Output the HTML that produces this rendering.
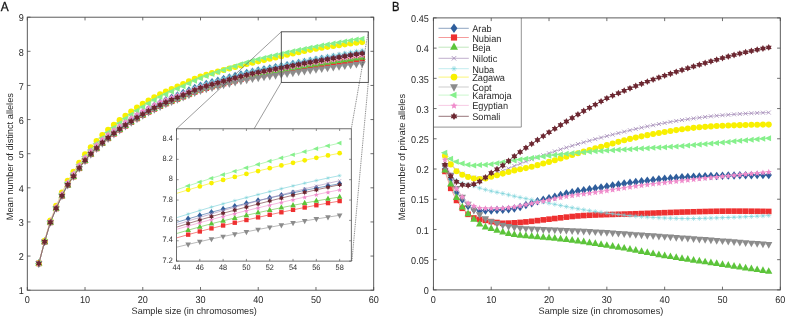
<!DOCTYPE html>
<html><head><meta charset="utf-8"><style>
html,body{margin:0;padding:0;background:#fff;}
body{width:785px;height:317px;overflow:hidden;position:relative;font-family:"Liberation Sans",sans-serif;}
</style></head><body>
<svg width="785" height="317" viewBox="0 0 785 317" style="position:absolute;left:0;top:0;filter:blur(0.3px)" text-rendering="geometricPrecision" font-family='"Liberation Sans", sans-serif'>
<path d="M27.3 290.2V287M27.3 17.2V20.4M85.03 290.2V287M85.03 17.2V20.4M142.77 290.2V287M142.77 17.2V20.4M200.5 290.2V287M200.5 17.2V20.4M258.23 290.2V287M258.23 17.2V20.4M315.97 290.2V287M315.97 17.2V20.4M373.7 290.2V287M373.7 17.2V20.4M27.3 290.2H30.5M373.7 290.2H370.5M27.3 256.07H30.5M373.7 256.07H370.5M27.3 221.95H30.5M373.7 221.95H370.5M27.3 187.82H30.5M373.7 187.82H370.5M27.3 153.7H30.5M373.7 153.7H370.5M27.3 119.57H30.5M373.7 119.57H370.5M27.3 85.45H30.5M373.7 85.45H370.5M27.3 51.32H30.5M373.7 51.32H370.5M27.3 17.2H30.5M373.7 17.2H370.5" stroke="#4a4a4a" stroke-width="0.8" fill="none"/>
<polyline points="38.85,263.41 44.62,241.59 50.39,221.99 56.17,207.86 61.94,195.1 67.71,184.05 73.49,175.4 79.26,166.94 85.03,159.16 90.81,152.59 96.58,146.7 102.35,141.27 108.13,136.31 113.9,131.77 119.67,127.52 125.45,123.49 131.22,119.6 136.99,115.9 142.77,112.41 148.54,109.11 154.31,105.97 160.09,103.05 165.86,100.37 171.63,97.86 177.41,95.43 183.18,93 188.95,90.48 194.73,88 200.5,85.79 206.27,83.95 212.05,82.3 217.82,80.7 223.59,79.09 229.37,77.52 235.14,75.99 240.91,74.5 246.69,73.04 252.46,71.7 258.23,70.53 264.01,69.46 269.78,68.38 275.55,67.29 281.33,66.23 287.1,65.17 292.87,64.08 298.65,62.98 304.42,61.95 310.19,60.98 315.97,60.02 321.74,59.1 327.51,58.19 333.29,57.3 339.06,56.41 344.83,55.53 350.61,54.67 356.38,53.84 362.15,53.03" fill="none" stroke="#5f7ea8" stroke-width="0.7"/>
<polygon points="38.85,259.16 42,263.41 38.85,267.66 35.7,263.41" fill="#2f5e9c"/>
<polygon points="44.62,237.34 47.77,241.59 44.62,245.84 41.47,241.59" fill="#2f5e9c"/>
<polygon points="50.39,217.74 53.54,221.99 50.39,226.24 47.24,221.99" fill="#2f5e9c"/>
<polygon points="56.17,203.61 59.32,207.86 56.17,212.11 53.02,207.86" fill="#2f5e9c"/>
<polygon points="61.94,190.85 65.09,195.1 61.94,199.35 58.79,195.1" fill="#2f5e9c"/>
<polygon points="67.71,179.8 70.86,184.05 67.71,188.3 64.56,184.05" fill="#2f5e9c"/>
<polygon points="73.49,171.15 76.64,175.4 73.49,179.65 70.34,175.4" fill="#2f5e9c"/>
<polygon points="79.26,162.69 82.41,166.94 79.26,171.19 76.11,166.94" fill="#2f5e9c"/>
<polygon points="85.03,154.91 88.18,159.16 85.03,163.41 81.88,159.16" fill="#2f5e9c"/>
<polygon points="90.81,148.34 93.96,152.59 90.81,156.84 87.66,152.59" fill="#2f5e9c"/>
<polygon points="96.58,142.45 99.73,146.7 96.58,150.95 93.43,146.7" fill="#2f5e9c"/>
<polygon points="102.35,137.02 105.5,141.27 102.35,145.52 99.2,141.27" fill="#2f5e9c"/>
<polygon points="108.13,132.06 111.28,136.31 108.13,140.56 104.98,136.31" fill="#2f5e9c"/>
<polygon points="113.9,127.52 117.05,131.77 113.9,136.02 110.75,131.77" fill="#2f5e9c"/>
<polygon points="119.67,123.27 122.82,127.52 119.67,131.77 116.52,127.52" fill="#2f5e9c"/>
<polygon points="125.45,119.24 128.6,123.49 125.45,127.74 122.3,123.49" fill="#2f5e9c"/>
<polygon points="131.22,115.35 134.37,119.6 131.22,123.85 128.07,119.6" fill="#2f5e9c"/>
<polygon points="136.99,111.65 140.14,115.9 136.99,120.15 133.84,115.9" fill="#2f5e9c"/>
<polygon points="142.77,108.16 145.92,112.41 142.77,116.66 139.62,112.41" fill="#2f5e9c"/>
<polygon points="148.54,104.86 151.69,109.11 148.54,113.36 145.39,109.11" fill="#2f5e9c"/>
<polygon points="154.31,101.72 157.46,105.97 154.31,110.22 151.16,105.97" fill="#2f5e9c"/>
<polygon points="160.09,98.8 163.24,103.05 160.09,107.3 156.94,103.05" fill="#2f5e9c"/>
<polygon points="165.86,96.12 169.01,100.37 165.86,104.62 162.71,100.37" fill="#2f5e9c"/>
<polygon points="171.63,93.61 174.78,97.86 171.63,102.11 168.48,97.86" fill="#2f5e9c"/>
<polygon points="177.41,91.18 180.56,95.43 177.41,99.68 174.26,95.43" fill="#2f5e9c"/>
<polygon points="183.18,88.75 186.33,93 183.18,97.25 180.03,93" fill="#2f5e9c"/>
<polygon points="188.95,86.23 192.1,90.48 188.95,94.73 185.8,90.48" fill="#2f5e9c"/>
<polygon points="194.73,83.75 197.88,88 194.73,92.25 191.58,88" fill="#2f5e9c"/>
<polygon points="200.5,81.54 203.65,85.79 200.5,90.04 197.35,85.79" fill="#2f5e9c"/>
<polygon points="206.27,79.7 209.42,83.95 206.27,88.2 203.12,83.95" fill="#2f5e9c"/>
<polygon points="212.05,78.05 215.2,82.3 212.05,86.55 208.9,82.3" fill="#2f5e9c"/>
<polygon points="217.82,76.45 220.97,80.7 217.82,84.95 214.67,80.7" fill="#2f5e9c"/>
<polygon points="223.59,74.84 226.74,79.09 223.59,83.34 220.44,79.09" fill="#2f5e9c"/>
<polygon points="229.37,73.27 232.52,77.52 229.37,81.77 226.22,77.52" fill="#2f5e9c"/>
<polygon points="235.14,71.74 238.29,75.99 235.14,80.24 231.99,75.99" fill="#2f5e9c"/>
<polygon points="240.91,70.25 244.06,74.5 240.91,78.75 237.76,74.5" fill="#2f5e9c"/>
<polygon points="246.69,68.79 249.84,73.04 246.69,77.29 243.54,73.04" fill="#2f5e9c"/>
<polygon points="252.46,67.45 255.61,71.7 252.46,75.95 249.31,71.7" fill="#2f5e9c"/>
<polygon points="258.23,66.28 261.38,70.53 258.23,74.78 255.08,70.53" fill="#2f5e9c"/>
<polygon points="264.01,65.21 267.16,69.46 264.01,73.71 260.86,69.46" fill="#2f5e9c"/>
<polygon points="269.78,64.13 272.93,68.38 269.78,72.63 266.63,68.38" fill="#2f5e9c"/>
<polygon points="275.55,63.04 278.7,67.29 275.55,71.54 272.4,67.29" fill="#2f5e9c"/>
<polygon points="281.33,61.98 284.48,66.23 281.33,70.48 278.18,66.23" fill="#2f5e9c"/>
<polygon points="287.1,60.92 290.25,65.17 287.1,69.42 283.95,65.17" fill="#2f5e9c"/>
<polygon points="292.87,59.83 296.02,64.08 292.87,68.33 289.72,64.08" fill="#2f5e9c"/>
<polygon points="298.65,58.73 301.8,62.98 298.65,67.23 295.5,62.98" fill="#2f5e9c"/>
<polygon points="304.42,57.7 307.57,61.95 304.42,66.2 301.27,61.95" fill="#2f5e9c"/>
<polygon points="310.19,56.73 313.34,60.98 310.19,65.23 307.04,60.98" fill="#2f5e9c"/>
<polygon points="315.97,55.77 319.12,60.02 315.97,64.27 312.82,60.02" fill="#2f5e9c"/>
<polygon points="321.74,54.85 324.89,59.1 321.74,63.35 318.59,59.1" fill="#2f5e9c"/>
<polygon points="327.51,53.94 330.66,58.19 327.51,62.44 324.36,58.19" fill="#2f5e9c"/>
<polygon points="333.29,53.05 336.44,57.3 333.29,61.55 330.14,57.3" fill="#2f5e9c"/>
<polygon points="339.06,52.16 342.21,56.41 339.06,60.66 335.91,56.41" fill="#2f5e9c"/>
<polygon points="344.83,51.28 347.98,55.53 344.83,59.78 341.68,55.53" fill="#2f5e9c"/>
<polygon points="350.61,50.42 353.76,54.67 350.61,58.92 347.46,54.67" fill="#2f5e9c"/>
<polygon points="356.38,49.59 359.53,53.84 356.38,58.09 353.23,53.84" fill="#2f5e9c"/>
<polygon points="362.15,48.78 365.3,53.03 362.15,57.28 359,53.03" fill="#2f5e9c"/>
<polyline points="38.85,263.41 44.62,241.81 50.39,222.43 56.17,208.5 61.94,195.94 67.71,185.09 73.49,176.62 79.26,168.32 85.03,160.7 90.81,154.26 96.58,148.52 102.35,143.21 108.13,138.37 113.9,133.94 119.67,129.81 125.45,125.88 131.22,122.11 136.99,118.52 142.77,115.14 148.54,111.96 154.31,108.96 160.09,106.18 165.86,103.64 171.63,101.28 177.41,99 183.18,96.72 188.95,94.34 194.73,91.98 200.5,89.89 206.27,88.15 212.05,86.6 217.82,85.09 223.59,83.56 229.37,82.08 235.14,80.63 240.91,79.21 246.69,77.83 252.46,76.56 258.23,75.46 264.01,74.46 269.78,73.46 275.55,72.44 281.33,71.44 287.1,70.46 292.87,69.44 298.65,68.4 304.42,67.43 310.19,66.51 315.97,65.6 321.74,64.71 327.51,63.84 333.29,62.98 339.06,62.12 344.83,61.27 350.61,60.43 356.38,59.62 362.15,58.83" fill="none" stroke="#f07070" stroke-width="0.7"/>
<rect x="36.05" y="260.61" width="5.6" height="5.6" fill="#ee3030"/>
<rect x="41.82" y="239.01" width="5.6" height="5.6" fill="#ee3030"/>
<rect x="47.59" y="219.63" width="5.6" height="5.6" fill="#ee3030"/>
<rect x="53.37" y="205.7" width="5.6" height="5.6" fill="#ee3030"/>
<rect x="59.14" y="193.14" width="5.6" height="5.6" fill="#ee3030"/>
<rect x="64.91" y="182.29" width="5.6" height="5.6" fill="#ee3030"/>
<rect x="70.69" y="173.82" width="5.6" height="5.6" fill="#ee3030"/>
<rect x="76.46" y="165.52" width="5.6" height="5.6" fill="#ee3030"/>
<rect x="82.23" y="157.9" width="5.6" height="5.6" fill="#ee3030"/>
<rect x="88.01" y="151.46" width="5.6" height="5.6" fill="#ee3030"/>
<rect x="93.78" y="145.72" width="5.6" height="5.6" fill="#ee3030"/>
<rect x="99.55" y="140.41" width="5.6" height="5.6" fill="#ee3030"/>
<rect x="105.33" y="135.57" width="5.6" height="5.6" fill="#ee3030"/>
<rect x="111.1" y="131.14" width="5.6" height="5.6" fill="#ee3030"/>
<rect x="116.87" y="127.01" width="5.6" height="5.6" fill="#ee3030"/>
<rect x="122.65" y="123.08" width="5.6" height="5.6" fill="#ee3030"/>
<rect x="128.42" y="119.31" width="5.6" height="5.6" fill="#ee3030"/>
<rect x="134.19" y="115.72" width="5.6" height="5.6" fill="#ee3030"/>
<rect x="139.97" y="112.34" width="5.6" height="5.6" fill="#ee3030"/>
<rect x="145.74" y="109.16" width="5.6" height="5.6" fill="#ee3030"/>
<rect x="151.51" y="106.16" width="5.6" height="5.6" fill="#ee3030"/>
<rect x="157.29" y="103.38" width="5.6" height="5.6" fill="#ee3030"/>
<rect x="163.06" y="100.84" width="5.6" height="5.6" fill="#ee3030"/>
<rect x="168.83" y="98.48" width="5.6" height="5.6" fill="#ee3030"/>
<rect x="174.61" y="96.2" width="5.6" height="5.6" fill="#ee3030"/>
<rect x="180.38" y="93.92" width="5.6" height="5.6" fill="#ee3030"/>
<rect x="186.15" y="91.54" width="5.6" height="5.6" fill="#ee3030"/>
<rect x="191.93" y="89.18" width="5.6" height="5.6" fill="#ee3030"/>
<rect x="197.7" y="87.09" width="5.6" height="5.6" fill="#ee3030"/>
<rect x="203.47" y="85.35" width="5.6" height="5.6" fill="#ee3030"/>
<rect x="209.25" y="83.8" width="5.6" height="5.6" fill="#ee3030"/>
<rect x="215.02" y="82.29" width="5.6" height="5.6" fill="#ee3030"/>
<rect x="220.79" y="80.76" width="5.6" height="5.6" fill="#ee3030"/>
<rect x="226.57" y="79.28" width="5.6" height="5.6" fill="#ee3030"/>
<rect x="232.34" y="77.83" width="5.6" height="5.6" fill="#ee3030"/>
<rect x="238.11" y="76.41" width="5.6" height="5.6" fill="#ee3030"/>
<rect x="243.89" y="75.03" width="5.6" height="5.6" fill="#ee3030"/>
<rect x="249.66" y="73.76" width="5.6" height="5.6" fill="#ee3030"/>
<rect x="255.43" y="72.66" width="5.6" height="5.6" fill="#ee3030"/>
<rect x="261.21" y="71.66" width="5.6" height="5.6" fill="#ee3030"/>
<rect x="266.98" y="70.66" width="5.6" height="5.6" fill="#ee3030"/>
<rect x="272.75" y="69.64" width="5.6" height="5.6" fill="#ee3030"/>
<rect x="278.53" y="68.64" width="5.6" height="5.6" fill="#ee3030"/>
<rect x="284.3" y="67.66" width="5.6" height="5.6" fill="#ee3030"/>
<rect x="290.07" y="66.64" width="5.6" height="5.6" fill="#ee3030"/>
<rect x="295.85" y="65.6" width="5.6" height="5.6" fill="#ee3030"/>
<rect x="301.62" y="64.63" width="5.6" height="5.6" fill="#ee3030"/>
<rect x="307.39" y="63.71" width="5.6" height="5.6" fill="#ee3030"/>
<rect x="313.17" y="62.8" width="5.6" height="5.6" fill="#ee3030"/>
<rect x="318.94" y="61.91" width="5.6" height="5.6" fill="#ee3030"/>
<rect x="324.71" y="61.04" width="5.6" height="5.6" fill="#ee3030"/>
<rect x="330.49" y="60.18" width="5.6" height="5.6" fill="#ee3030"/>
<rect x="336.26" y="59.32" width="5.6" height="5.6" fill="#ee3030"/>
<rect x="342.03" y="58.47" width="5.6" height="5.6" fill="#ee3030"/>
<rect x="347.81" y="57.63" width="5.6" height="5.6" fill="#ee3030"/>
<rect x="353.58" y="56.82" width="5.6" height="5.6" fill="#ee3030"/>
<rect x="359.35" y="56.03" width="5.6" height="5.6" fill="#ee3030"/>
<polyline points="38.85,263.41 44.62,241.79 50.39,222.38 56.17,208.44 61.94,195.85 67.71,184.98 73.49,176.49 79.26,168.17 85.03,160.53 90.81,154.08 96.58,148.31 102.35,142.99 108.13,138.13 113.9,133.69 119.67,129.54 125.45,125.6 131.22,121.81 136.99,118.2 142.77,114.8 148.54,111.59 154.31,108.57 160.09,105.76 165.86,103.19 171.63,100.79 177.41,98.48 183.18,96.16 188.95,93.74 194.73,91.34 200.5,89.2 206.27,87.42 212.05,85.82 217.82,84.25 223.59,82.67 229.37,81.13 235.14,79.62 240.91,78.14 246.69,76.7 252.46,75.37 258.23,74.21 264.01,73.15 269.78,72.09 275.55,71.02 281.33,69.98 287.1,68.96 292.87,67.9 298.65,66.84 304.42,65.86 310.19,64.93 315.97,64.02 321.74,63.14 327.51,62.29 333.29,61.45 339.06,60.61 344.83,59.79 350.61,58.99 356.38,58.21 362.15,57.47" fill="none" stroke="#a8dca0" stroke-width="0.7"/>
<polygon points="38.85,259.11 42.45,265.81 35.25,265.81" fill="#5cc43a"/>
<polygon points="44.62,237.49 48.22,244.19 41.02,244.19" fill="#5cc43a"/>
<polygon points="50.39,218.08 53.99,224.78 46.79,224.78" fill="#5cc43a"/>
<polygon points="56.17,204.14 59.77,210.84 52.57,210.84" fill="#5cc43a"/>
<polygon points="61.94,191.55 65.54,198.25 58.34,198.25" fill="#5cc43a"/>
<polygon points="67.71,180.68 71.31,187.38 64.11,187.38" fill="#5cc43a"/>
<polygon points="73.49,172.19 77.09,178.89 69.89,178.89" fill="#5cc43a"/>
<polygon points="79.26,163.87 82.86,170.57 75.66,170.57" fill="#5cc43a"/>
<polygon points="85.03,156.22 88.63,162.93 81.43,162.93" fill="#5cc43a"/>
<polygon points="90.81,149.78 94.41,156.48 87.21,156.48" fill="#5cc43a"/>
<polygon points="96.58,144.01 100.18,150.71 92.98,150.71" fill="#5cc43a"/>
<polygon points="102.35,138.69 105.95,145.39 98.75,145.39" fill="#5cc43a"/>
<polygon points="108.13,133.83 111.73,140.53 104.53,140.53" fill="#5cc43a"/>
<polygon points="113.9,129.39 117.5,136.09 110.3,136.09" fill="#5cc43a"/>
<polygon points="119.67,125.24 123.27,131.94 116.07,131.94" fill="#5cc43a"/>
<polygon points="125.45,121.3 129.05,128 121.85,128" fill="#5cc43a"/>
<polygon points="131.22,117.51 134.82,124.21 127.62,124.21" fill="#5cc43a"/>
<polygon points="136.99,113.9 140.59,120.6 133.39,120.6" fill="#5cc43a"/>
<polygon points="142.77,110.5 146.37,117.2 139.17,117.2" fill="#5cc43a"/>
<polygon points="148.54,107.29 152.14,113.99 144.94,113.99" fill="#5cc43a"/>
<polygon points="154.31,104.27 157.91,110.97 150.71,110.97" fill="#5cc43a"/>
<polygon points="160.09,101.46 163.69,108.16 156.49,108.16" fill="#5cc43a"/>
<polygon points="165.86,98.89 169.46,105.59 162.26,105.59" fill="#5cc43a"/>
<polygon points="171.63,96.49 175.23,103.19 168.03,103.19" fill="#5cc43a"/>
<polygon points="177.41,94.18 181.01,100.88 173.81,100.88" fill="#5cc43a"/>
<polygon points="183.18,91.86 186.78,98.56 179.58,98.56" fill="#5cc43a"/>
<polygon points="188.95,89.44 192.55,96.14 185.35,96.14" fill="#5cc43a"/>
<polygon points="194.73,87.04 198.33,93.74 191.13,93.74" fill="#5cc43a"/>
<polygon points="200.5,84.9 204.1,91.6 196.9,91.6" fill="#5cc43a"/>
<polygon points="206.27,83.12 209.87,89.82 202.67,89.82" fill="#5cc43a"/>
<polygon points="212.05,81.52 215.65,88.22 208.45,88.22" fill="#5cc43a"/>
<polygon points="217.82,79.95 221.42,86.65 214.22,86.65" fill="#5cc43a"/>
<polygon points="223.59,78.37 227.19,85.07 219.99,85.07" fill="#5cc43a"/>
<polygon points="229.37,76.83 232.97,83.53 225.77,83.53" fill="#5cc43a"/>
<polygon points="235.14,75.32 238.74,82.02 231.54,82.02" fill="#5cc43a"/>
<polygon points="240.91,73.84 244.51,80.54 237.31,80.54" fill="#5cc43a"/>
<polygon points="246.69,72.4 250.29,79.1 243.09,79.1" fill="#5cc43a"/>
<polygon points="252.46,71.07 256.06,77.77 248.86,77.77" fill="#5cc43a"/>
<polygon points="258.23,69.91 261.83,76.61 254.63,76.61" fill="#5cc43a"/>
<polygon points="264.01,68.85 267.61,75.55 260.41,75.55" fill="#5cc43a"/>
<polygon points="269.78,67.79 273.38,74.49 266.18,74.49" fill="#5cc43a"/>
<polygon points="275.55,66.72 279.15,73.42 271.95,73.42" fill="#5cc43a"/>
<polygon points="281.33,65.68 284.93,72.38 277.73,72.38" fill="#5cc43a"/>
<polygon points="287.1,64.66 290.7,71.36 283.5,71.36" fill="#5cc43a"/>
<polygon points="292.87,63.6 296.47,70.3 289.27,70.3" fill="#5cc43a"/>
<polygon points="298.65,62.54 302.25,69.24 295.05,69.24" fill="#5cc43a"/>
<polygon points="304.42,61.56 308.02,68.26 300.82,68.26" fill="#5cc43a"/>
<polygon points="310.19,60.63 313.79,67.33 306.59,67.33" fill="#5cc43a"/>
<polygon points="315.97,59.72 319.57,66.42 312.37,66.42" fill="#5cc43a"/>
<polygon points="321.74,58.84 325.34,65.54 318.14,65.54" fill="#5cc43a"/>
<polygon points="327.51,57.99 331.11,64.69 323.91,64.69" fill="#5cc43a"/>
<polygon points="333.29,57.15 336.89,63.85 329.69,63.85" fill="#5cc43a"/>
<polygon points="339.06,56.31 342.66,63.01 335.46,63.01" fill="#5cc43a"/>
<polygon points="344.83,55.49 348.43,62.19 341.23,62.19" fill="#5cc43a"/>
<polygon points="350.61,54.69 354.21,61.39 347.01,61.39" fill="#5cc43a"/>
<polygon points="356.38,53.91 359.98,60.61 352.78,60.61" fill="#5cc43a"/>
<polygon points="362.15,53.17 365.75,59.87 358.55,59.87" fill="#5cc43a"/>
<polyline points="38.85,263.41 44.62,241.7 50.39,222.2 56.17,208.16 61.94,195.49 67.71,184.53 73.49,175.96 79.26,167.57 85.03,159.84 90.81,153.32 96.58,147.48 102.35,142.08 108.13,137.16 113.9,132.65 119.67,128.43 125.45,124.42 131.22,120.57 136.99,116.89 142.77,113.43 148.54,110.16 154.31,107.07 160.09,104.19 165.86,101.54 171.63,99.06 177.41,96.66 183.18,94.26 188.95,91.76 194.73,89.29 200.5,87.08 206.27,85.23 212.05,83.57 217.82,81.95 223.59,80.32 229.37,78.72 235.14,77.16 240.91,75.62 246.69,74.13 252.46,72.74 258.23,71.53 264.01,70.4 269.78,69.27 275.55,68.13 281.33,67 287.1,65.88 292.87,64.73 298.65,63.55 304.42,62.42 310.19,61.33 315.97,60.26 321.74,59.2 327.51,58.15 333.29,57.11 339.06,56.06 344.83,55.02 350.61,53.99 356.38,52.99 362.15,52.01" fill="none" stroke="#a58cb8" stroke-width="0.7"/>
<path d="M36.85 261.41L40.85 265.41M36.85 265.41L40.85 261.41" stroke="#a58cb8" stroke-width="0.8" fill="none"/>
<path d="M42.62 239.7L46.62 243.7M42.62 243.7L46.62 239.7" stroke="#a58cb8" stroke-width="0.8" fill="none"/>
<path d="M48.39 220.2L52.39 224.2M48.39 224.2L52.39 220.2" stroke="#a58cb8" stroke-width="0.8" fill="none"/>
<path d="M54.17 206.16L58.17 210.16M54.17 210.16L58.17 206.16" stroke="#a58cb8" stroke-width="0.8" fill="none"/>
<path d="M59.94 193.49L63.94 197.49M59.94 197.49L63.94 193.49" stroke="#a58cb8" stroke-width="0.8" fill="none"/>
<path d="M65.71 182.53L69.71 186.53M65.71 186.53L69.71 182.53" stroke="#a58cb8" stroke-width="0.8" fill="none"/>
<path d="M71.49 173.96L75.49 177.96M71.49 177.96L75.49 173.96" stroke="#a58cb8" stroke-width="0.8" fill="none"/>
<path d="M77.26 165.57L81.26 169.57M77.26 169.57L81.26 165.57" stroke="#a58cb8" stroke-width="0.8" fill="none"/>
<path d="M83.03 157.84L87.03 161.84M83.03 161.84L87.03 157.84" stroke="#a58cb8" stroke-width="0.8" fill="none"/>
<path d="M88.81 151.32L92.81 155.32M88.81 155.32L92.81 151.32" stroke="#a58cb8" stroke-width="0.8" fill="none"/>
<path d="M94.58 145.48L98.58 149.48M94.58 149.48L98.58 145.48" stroke="#a58cb8" stroke-width="0.8" fill="none"/>
<path d="M100.35 140.08L104.35 144.08M100.35 144.08L104.35 140.08" stroke="#a58cb8" stroke-width="0.8" fill="none"/>
<path d="M106.13 135.16L110.13 139.16M106.13 139.16L110.13 135.16" stroke="#a58cb8" stroke-width="0.8" fill="none"/>
<path d="M111.9 130.65L115.9 134.65M111.9 134.65L115.9 130.65" stroke="#a58cb8" stroke-width="0.8" fill="none"/>
<path d="M117.67 126.43L121.67 130.43M117.67 130.43L121.67 126.43" stroke="#a58cb8" stroke-width="0.8" fill="none"/>
<path d="M123.45 122.42L127.45 126.42M123.45 126.42L127.45 122.42" stroke="#a58cb8" stroke-width="0.8" fill="none"/>
<path d="M129.22 118.57L133.22 122.57M129.22 122.57L133.22 118.57" stroke="#a58cb8" stroke-width="0.8" fill="none"/>
<path d="M134.99 114.89L138.99 118.89M134.99 118.89L138.99 114.89" stroke="#a58cb8" stroke-width="0.8" fill="none"/>
<path d="M140.77 111.43L144.77 115.43M140.77 115.43L144.77 111.43" stroke="#a58cb8" stroke-width="0.8" fill="none"/>
<path d="M146.54 108.16L150.54 112.16M146.54 112.16L150.54 108.16" stroke="#a58cb8" stroke-width="0.8" fill="none"/>
<path d="M152.31 105.07L156.31 109.07M152.31 109.07L156.31 105.07" stroke="#a58cb8" stroke-width="0.8" fill="none"/>
<path d="M158.09 102.19L162.09 106.19M158.09 106.19L162.09 102.19" stroke="#a58cb8" stroke-width="0.8" fill="none"/>
<path d="M163.86 99.54L167.86 103.54M163.86 103.54L167.86 99.54" stroke="#a58cb8" stroke-width="0.8" fill="none"/>
<path d="M169.63 97.06L173.63 101.06M169.63 101.06L173.63 97.06" stroke="#a58cb8" stroke-width="0.8" fill="none"/>
<path d="M175.41 94.66L179.41 98.66M175.41 98.66L179.41 94.66" stroke="#a58cb8" stroke-width="0.8" fill="none"/>
<path d="M181.18 92.26L185.18 96.26M181.18 96.26L185.18 92.26" stroke="#a58cb8" stroke-width="0.8" fill="none"/>
<path d="M186.95 89.76L190.95 93.76M186.95 93.76L190.95 89.76" stroke="#a58cb8" stroke-width="0.8" fill="none"/>
<path d="M192.73 87.29L196.73 91.29M192.73 91.29L196.73 87.29" stroke="#a58cb8" stroke-width="0.8" fill="none"/>
<path d="M198.5 85.08L202.5 89.08M198.5 89.08L202.5 85.08" stroke="#a58cb8" stroke-width="0.8" fill="none"/>
<path d="M204.27 83.23L208.27 87.23M204.27 87.23L208.27 83.23" stroke="#a58cb8" stroke-width="0.8" fill="none"/>
<path d="M210.05 81.57L214.05 85.57M210.05 85.57L214.05 81.57" stroke="#a58cb8" stroke-width="0.8" fill="none"/>
<path d="M215.82 79.95L219.82 83.95M215.82 83.95L219.82 79.95" stroke="#a58cb8" stroke-width="0.8" fill="none"/>
<path d="M221.59 78.32L225.59 82.32M221.59 82.32L225.59 78.32" stroke="#a58cb8" stroke-width="0.8" fill="none"/>
<path d="M227.37 76.72L231.37 80.72M227.37 80.72L231.37 76.72" stroke="#a58cb8" stroke-width="0.8" fill="none"/>
<path d="M233.14 75.16L237.14 79.16M233.14 79.16L237.14 75.16" stroke="#a58cb8" stroke-width="0.8" fill="none"/>
<path d="M238.91 73.62L242.91 77.62M238.91 77.62L242.91 73.62" stroke="#a58cb8" stroke-width="0.8" fill="none"/>
<path d="M244.69 72.13L248.69 76.13M244.69 76.13L248.69 72.13" stroke="#a58cb8" stroke-width="0.8" fill="none"/>
<path d="M250.46 70.74L254.46 74.74M250.46 74.74L254.46 70.74" stroke="#a58cb8" stroke-width="0.8" fill="none"/>
<path d="M256.23 69.53L260.23 73.53M256.23 73.53L260.23 69.53" stroke="#a58cb8" stroke-width="0.8" fill="none"/>
<path d="M262.01 68.4L266.01 72.4M262.01 72.4L266.01 68.4" stroke="#a58cb8" stroke-width="0.8" fill="none"/>
<path d="M267.78 67.27L271.78 71.27M267.78 71.27L271.78 67.27" stroke="#a58cb8" stroke-width="0.8" fill="none"/>
<path d="M273.55 66.13L277.55 70.13M273.55 70.13L277.55 66.13" stroke="#a58cb8" stroke-width="0.8" fill="none"/>
<path d="M279.33 65L283.33 69M279.33 69L283.33 65" stroke="#a58cb8" stroke-width="0.8" fill="none"/>
<path d="M285.1 63.88L289.1 67.88M285.1 67.88L289.1 63.88" stroke="#a58cb8" stroke-width="0.8" fill="none"/>
<path d="M290.87 62.73L294.87 66.73M290.87 66.73L294.87 62.73" stroke="#a58cb8" stroke-width="0.8" fill="none"/>
<path d="M296.65 61.55L300.65 65.55M296.65 65.55L300.65 61.55" stroke="#a58cb8" stroke-width="0.8" fill="none"/>
<path d="M302.42 60.42L306.42 64.42M302.42 64.42L306.42 60.42" stroke="#a58cb8" stroke-width="0.8" fill="none"/>
<path d="M308.19 59.33L312.19 63.33M308.19 63.33L312.19 59.33" stroke="#a58cb8" stroke-width="0.8" fill="none"/>
<path d="M313.97 58.26L317.97 62.26M313.97 62.26L317.97 58.26" stroke="#a58cb8" stroke-width="0.8" fill="none"/>
<path d="M319.74 57.2L323.74 61.2M319.74 61.2L323.74 57.2" stroke="#a58cb8" stroke-width="0.8" fill="none"/>
<path d="M325.51 56.15L329.51 60.15M325.51 60.15L329.51 56.15" stroke="#a58cb8" stroke-width="0.8" fill="none"/>
<path d="M331.29 55.11L335.29 59.11M331.29 59.11L335.29 55.11" stroke="#a58cb8" stroke-width="0.8" fill="none"/>
<path d="M337.06 54.06L341.06 58.06M337.06 58.06L341.06 54.06" stroke="#a58cb8" stroke-width="0.8" fill="none"/>
<path d="M342.83 53.02L346.83 57.02M342.83 57.02L346.83 53.02" stroke="#a58cb8" stroke-width="0.8" fill="none"/>
<path d="M348.61 51.99L352.61 55.99M348.61 55.99L352.61 51.99" stroke="#a58cb8" stroke-width="0.8" fill="none"/>
<path d="M354.38 50.99L358.38 54.99M354.38 54.99L358.38 50.99" stroke="#a58cb8" stroke-width="0.8" fill="none"/>
<path d="M360.15 50.01L364.15 54.01M360.15 54.01L364.15 50.01" stroke="#a58cb8" stroke-width="0.8" fill="none"/>
<polyline points="38.85,263.41 44.62,241.54 50.39,221.9 56.17,207.72 61.94,194.92 67.71,183.83 73.49,175.14 79.26,166.64 85.03,158.82 90.81,152.21 96.58,146.29 102.35,140.82 108.13,135.83 113.9,131.25 119.67,126.98 125.45,122.91 131.22,118.99 136.99,115.25 142.77,111.73 148.54,108.38 154.31,105.21 160.09,102.25 165.86,99.53 171.63,96.97 177.41,94.51 183.18,92.05 188.95,89.5 194.73,86.99 200.5,84.77 206.27,82.91 212.05,81.24 217.82,79.61 223.59,77.97 229.37,76.37 235.14,74.81 240.91,73.27 246.69,71.77 252.46,70.39 258.23,69.17 264.01,68.05 269.78,66.92 275.55,65.79 281.33,64.67 287.1,63.56 292.87,62.42 298.65,61.27 304.42,60.17 310.19,59.12 315.97,58.09 321.74,57.07 327.51,56.08 333.29,55.09 339.06,54.11 344.83,53.12 350.61,52.16 356.38,51.21 362.15,50.3" fill="none" stroke="#a8e4e8" stroke-width="0.7"/>
<path d="M38.85 260.91L38.85 265.91M36.35 263.41L41.35 263.41M37.08 261.64L40.61 265.18M37.08 265.18L40.61 261.64" stroke="#72cfd6" stroke-width="0.5" fill="none"/>
<path d="M44.62 239.04L44.62 244.04M42.12 241.54L47.12 241.54M42.85 239.78L46.39 243.31M42.85 243.31L46.39 239.78" stroke="#72cfd6" stroke-width="0.5" fill="none"/>
<path d="M50.39 219.4L50.39 224.4M47.89 221.9L52.89 221.9M48.63 220.13L52.16 223.67M48.63 223.67L52.16 220.13" stroke="#72cfd6" stroke-width="0.5" fill="none"/>
<path d="M56.17 205.22L56.17 210.22M53.67 207.72L58.67 207.72M54.4 205.96L57.93 209.49M54.4 209.49L57.93 205.96" stroke="#72cfd6" stroke-width="0.5" fill="none"/>
<path d="M61.94 192.42L61.94 197.42M59.44 194.92L64.44 194.92M60.17 193.15L63.71 196.69M60.17 196.69L63.71 193.15" stroke="#72cfd6" stroke-width="0.5" fill="none"/>
<path d="M67.71 181.33L67.71 186.33M65.21 183.83L70.21 183.83M65.95 182.06L69.48 185.6M65.95 185.6L69.48 182.06" stroke="#72cfd6" stroke-width="0.5" fill="none"/>
<path d="M73.49 172.64L73.49 177.64M70.99 175.14L75.99 175.14M71.72 173.37L75.25 176.91M71.72 176.91L75.25 173.37" stroke="#72cfd6" stroke-width="0.5" fill="none"/>
<path d="M79.26 164.14L79.26 169.14M76.76 166.64L81.76 166.64M77.49 164.87L81.03 168.41M77.49 168.41L81.03 164.87" stroke="#72cfd6" stroke-width="0.5" fill="none"/>
<path d="M85.03 156.32L85.03 161.32M82.53 158.82L87.53 158.82M83.27 157.05L86.8 160.59M83.27 160.59L86.8 157.05" stroke="#72cfd6" stroke-width="0.5" fill="none"/>
<path d="M90.81 149.71L90.81 154.71M88.31 152.21L93.31 152.21M89.04 150.44L92.57 153.97M89.04 153.97L92.57 150.44" stroke="#72cfd6" stroke-width="0.5" fill="none"/>
<path d="M96.58 143.79L96.58 148.79M94.08 146.29L99.08 146.29M94.81 144.52L98.35 148.06M94.81 148.06L98.35 144.52" stroke="#72cfd6" stroke-width="0.5" fill="none"/>
<path d="M102.35 138.32L102.35 143.32M99.85 140.82L104.85 140.82M100.59 139.05L104.12 142.59M100.59 142.59L104.12 139.05" stroke="#72cfd6" stroke-width="0.5" fill="none"/>
<path d="M108.13 133.33L108.13 138.33M105.63 135.83L110.63 135.83M106.36 134.06L109.89 137.6M106.36 137.6L109.89 134.06" stroke="#72cfd6" stroke-width="0.5" fill="none"/>
<path d="M113.9 128.75L113.9 133.75M111.4 131.25L116.4 131.25M112.13 129.49L115.67 133.02M112.13 133.02L115.67 129.49" stroke="#72cfd6" stroke-width="0.5" fill="none"/>
<path d="M119.67 124.48L119.67 129.48M117.17 126.98L122.17 126.98M117.91 125.21L121.44 128.74M117.91 128.74L121.44 125.21" stroke="#72cfd6" stroke-width="0.5" fill="none"/>
<path d="M125.45 120.41L125.45 125.41M122.95 122.91L127.95 122.91M123.68 121.14L127.21 124.67M123.68 124.67L127.21 121.14" stroke="#72cfd6" stroke-width="0.5" fill="none"/>
<path d="M131.22 116.49L131.22 121.49M128.72 118.99L133.72 118.99M129.45 117.22L132.99 120.76M129.45 120.76L132.99 117.22" stroke="#72cfd6" stroke-width="0.5" fill="none"/>
<path d="M136.99 112.75L136.99 117.75M134.49 115.25L139.49 115.25M135.23 113.49L138.76 117.02M135.23 117.02L138.76 113.49" stroke="#72cfd6" stroke-width="0.5" fill="none"/>
<path d="M142.77 109.23L142.77 114.23M140.27 111.73L145.27 111.73M141 109.96L144.53 113.49M141 113.49L144.53 109.96" stroke="#72cfd6" stroke-width="0.5" fill="none"/>
<path d="M148.54 105.88L148.54 110.88M146.04 108.38L151.04 108.38M146.77 106.62L150.31 110.15M146.77 110.15L150.31 106.62" stroke="#72cfd6" stroke-width="0.5" fill="none"/>
<path d="M154.31 102.71L154.31 107.71M151.81 105.21L156.81 105.21M152.55 103.45L156.08 106.98M152.55 106.98L156.08 103.45" stroke="#72cfd6" stroke-width="0.5" fill="none"/>
<path d="M160.09 99.75L160.09 104.75M157.59 102.25L162.59 102.25M158.32 100.49L161.85 104.02M158.32 104.02L161.85 100.49" stroke="#72cfd6" stroke-width="0.5" fill="none"/>
<path d="M165.86 97.03L165.86 102.03M163.36 99.53L168.36 99.53M164.09 97.76L167.63 101.29M164.09 101.29L167.63 97.76" stroke="#72cfd6" stroke-width="0.5" fill="none"/>
<path d="M171.63 94.47L171.63 99.47M169.13 96.97L174.13 96.97M169.87 95.21L173.4 98.74M169.87 98.74L173.4 95.21" stroke="#72cfd6" stroke-width="0.5" fill="none"/>
<path d="M177.41 92.01L177.41 97.01M174.91 94.51L179.91 94.51M175.64 92.74L179.17 96.28M175.64 96.28L179.17 92.74" stroke="#72cfd6" stroke-width="0.5" fill="none"/>
<path d="M183.18 89.55L183.18 94.55M180.68 92.05L185.68 92.05M181.41 90.28L184.95 93.82M181.41 93.82L184.95 90.28" stroke="#72cfd6" stroke-width="0.5" fill="none"/>
<path d="M188.95 87L188.95 92M186.45 89.5L191.45 89.5M187.19 87.73L190.72 91.27M187.19 91.27L190.72 87.73" stroke="#72cfd6" stroke-width="0.5" fill="none"/>
<path d="M194.73 84.49L194.73 89.49M192.23 86.99L197.23 86.99M192.96 85.23L196.49 88.76M192.96 88.76L196.49 85.23" stroke="#72cfd6" stroke-width="0.5" fill="none"/>
<path d="M200.5 82.27L200.5 87.27M198 84.77L203 84.77M198.73 83L202.27 86.54M198.73 86.54L202.27 83" stroke="#72cfd6" stroke-width="0.5" fill="none"/>
<path d="M206.27 80.41L206.27 85.41M203.77 82.91L208.77 82.91M204.51 81.14L208.04 84.68M204.51 84.68L208.04 81.14" stroke="#72cfd6" stroke-width="0.5" fill="none"/>
<path d="M212.05 78.74L212.05 83.74M209.55 81.24L214.55 81.24M210.28 79.47L213.81 83.01M210.28 83.01L213.81 79.47" stroke="#72cfd6" stroke-width="0.5" fill="none"/>
<path d="M217.82 77.11L217.82 82.11M215.32 79.61L220.32 79.61M216.05 77.85L219.59 81.38M216.05 81.38L219.59 77.85" stroke="#72cfd6" stroke-width="0.5" fill="none"/>
<path d="M223.59 75.47L223.59 80.47M221.09 77.97L226.09 77.97M221.83 76.21L225.36 79.74M221.83 79.74L225.36 76.21" stroke="#72cfd6" stroke-width="0.5" fill="none"/>
<path d="M229.37 73.87L229.37 78.87M226.87 76.37L231.87 76.37M227.6 74.6L231.13 78.14M227.6 78.14L231.13 74.6" stroke="#72cfd6" stroke-width="0.5" fill="none"/>
<path d="M235.14 72.31L235.14 77.31M232.64 74.81L237.64 74.81M233.37 73.04L236.91 76.57M233.37 76.57L236.91 73.04" stroke="#72cfd6" stroke-width="0.5" fill="none"/>
<path d="M240.91 70.77L240.91 75.77M238.41 73.27L243.41 73.27M239.15 71.5L242.68 75.04M239.15 75.04L242.68 71.5" stroke="#72cfd6" stroke-width="0.5" fill="none"/>
<path d="M246.69 69.27L246.69 74.27M244.19 71.77L249.19 71.77M244.92 70L248.45 73.54M244.92 73.54L248.45 70" stroke="#72cfd6" stroke-width="0.5" fill="none"/>
<path d="M252.46 67.89L252.46 72.89M249.96 70.39L254.96 70.39M250.69 68.62L254.23 72.15M250.69 72.15L254.23 68.62" stroke="#72cfd6" stroke-width="0.5" fill="none"/>
<path d="M258.23 66.67L258.23 71.67M255.73 69.17L260.73 69.17M256.47 67.4L260 70.94M256.47 70.94L260 67.4" stroke="#72cfd6" stroke-width="0.5" fill="none"/>
<path d="M264.01 65.55L264.01 70.55M261.51 68.05L266.51 68.05M262.24 66.28L265.77 69.82M262.24 69.82L265.77 66.28" stroke="#72cfd6" stroke-width="0.5" fill="none"/>
<path d="M269.78 64.42L269.78 69.42M267.28 66.92L272.28 66.92M268.01 65.16L271.55 68.69M268.01 68.69L271.55 65.16" stroke="#72cfd6" stroke-width="0.5" fill="none"/>
<path d="M275.55 63.29L275.55 68.29M273.05 65.79L278.05 65.79M273.79 64.02L277.32 67.55M273.79 67.55L277.32 64.02" stroke="#72cfd6" stroke-width="0.5" fill="none"/>
<path d="M281.33 62.17L281.33 67.17M278.83 64.67L283.83 64.67M279.56 62.9L283.09 66.44M279.56 66.44L283.09 62.9" stroke="#72cfd6" stroke-width="0.5" fill="none"/>
<path d="M287.1 61.06L287.1 66.06M284.6 63.56L289.6 63.56M285.33 61.8L288.87 65.33M285.33 65.33L288.87 61.8" stroke="#72cfd6" stroke-width="0.5" fill="none"/>
<path d="M292.87 59.92L292.87 64.92M290.37 62.42L295.37 62.42M291.11 60.66L294.64 64.19M291.11 64.19L294.64 60.66" stroke="#72cfd6" stroke-width="0.5" fill="none"/>
<path d="M298.65 58.77L298.65 63.77M296.15 61.27L301.15 61.27M296.88 59.5L300.41 63.03M296.88 63.03L300.41 59.5" stroke="#72cfd6" stroke-width="0.5" fill="none"/>
<path d="M304.42 57.67L304.42 62.67M301.92 60.17L306.92 60.17M302.65 58.4L306.19 61.94M302.65 61.94L306.19 58.4" stroke="#72cfd6" stroke-width="0.5" fill="none"/>
<path d="M310.19 56.62L310.19 61.62M307.69 59.12L312.69 59.12M308.43 57.35L311.96 60.89M308.43 60.89L311.96 57.35" stroke="#72cfd6" stroke-width="0.5" fill="none"/>
<path d="M315.97 55.59L315.97 60.59M313.47 58.09L318.47 58.09M314.2 56.32L317.73 59.85M314.2 59.85L317.73 56.32" stroke="#72cfd6" stroke-width="0.5" fill="none"/>
<path d="M321.74 54.57L321.74 59.57M319.24 57.07L324.24 57.07M319.97 55.3L323.51 58.84M319.97 58.84L323.51 55.3" stroke="#72cfd6" stroke-width="0.5" fill="none"/>
<path d="M327.51 53.58L327.51 58.58M325.01 56.08L330.01 56.08M325.75 54.31L329.28 57.85M325.75 57.85L329.28 54.31" stroke="#72cfd6" stroke-width="0.5" fill="none"/>
<path d="M333.29 52.59L333.29 57.59M330.79 55.09L335.79 55.09M331.52 53.33L335.05 56.86M331.52 56.86L335.05 53.33" stroke="#72cfd6" stroke-width="0.5" fill="none"/>
<path d="M339.06 51.61L339.06 56.61M336.56 54.11L341.56 54.11M337.29 52.34L340.83 55.87M337.29 55.87L340.83 52.34" stroke="#72cfd6" stroke-width="0.5" fill="none"/>
<path d="M344.83 50.62L344.83 55.62M342.33 53.12L347.33 53.12M343.07 51.36L346.6 54.89M343.07 54.89L346.6 51.36" stroke="#72cfd6" stroke-width="0.5" fill="none"/>
<path d="M350.61 49.66L350.61 54.66M348.11 52.16L353.11 52.16M348.84 50.39L352.37 53.93M348.84 53.93L352.37 50.39" stroke="#72cfd6" stroke-width="0.5" fill="none"/>
<path d="M356.38 48.71L356.38 53.71M353.88 51.21L358.88 51.21M354.61 49.45L358.15 52.98M354.61 52.98L358.15 49.45" stroke="#72cfd6" stroke-width="0.5" fill="none"/>
<path d="M362.15 47.8L362.15 52.8M359.65 50.3L364.65 50.3M360.39 48.53L363.92 52.07M360.39 52.07L363.92 48.53" stroke="#72cfd6" stroke-width="0.5" fill="none"/>
<polyline points="38.85,263.41 44.62,240.91 50.39,220.66 56.17,205.91 61.94,192.55 67.71,180.91 73.49,171.69 79.26,162.68 85.03,154.38 90.81,147.32 96.58,140.96 102.35,135.07 108.13,129.68 113.9,124.74 119.67,120.14 125.45,115.76 131.22,111.54 136.99,107.56 142.77,103.88 148.54,100.46 154.31,97.25 160.09,94.26 165.86,91.53 171.63,88.96 177.41,86.48 183.18,83.98 188.95,81.39 194.73,78.84 200.5,76.58 206.27,74.73 212.05,73.12 217.82,71.58 223.59,70.04 229.37,68.53 235.14,67.04 240.91,65.55 246.69,64.07 252.46,62.67 258.23,61.36 264.01,60.08 269.78,58.77 275.55,57.44 281.33,56.13 287.1,54.81 292.87,53.48 298.65,52.17 304.42,50.98 310.19,49.87 315.97,48.81 321.74,47.8 327.51,46.86 333.29,45.99 339.06,45.14 344.83,44.33 350.61,43.55 356.38,42.81 362.15,42.11" fill="none" stroke="#f8f040" stroke-width="0.7"/>
<circle cx="38.85" cy="263.41" r="3.05" fill="#f8f000"/>
<circle cx="44.62" cy="240.91" r="3.05" fill="#f8f000"/>
<circle cx="50.39" cy="220.66" r="3.05" fill="#f8f000"/>
<circle cx="56.17" cy="205.91" r="3.05" fill="#f8f000"/>
<circle cx="61.94" cy="192.55" r="3.05" fill="#f8f000"/>
<circle cx="67.71" cy="180.91" r="3.05" fill="#f8f000"/>
<circle cx="73.49" cy="171.69" r="3.05" fill="#f8f000"/>
<circle cx="79.26" cy="162.68" r="3.05" fill="#f8f000"/>
<circle cx="85.03" cy="154.38" r="3.05" fill="#f8f000"/>
<circle cx="90.81" cy="147.32" r="3.05" fill="#f8f000"/>
<circle cx="96.58" cy="140.96" r="3.05" fill="#f8f000"/>
<circle cx="102.35" cy="135.07" r="3.05" fill="#f8f000"/>
<circle cx="108.13" cy="129.68" r="3.05" fill="#f8f000"/>
<circle cx="113.9" cy="124.74" r="3.05" fill="#f8f000"/>
<circle cx="119.67" cy="120.14" r="3.05" fill="#f8f000"/>
<circle cx="125.45" cy="115.76" r="3.05" fill="#f8f000"/>
<circle cx="131.22" cy="111.54" r="3.05" fill="#f8f000"/>
<circle cx="136.99" cy="107.56" r="3.05" fill="#f8f000"/>
<circle cx="142.77" cy="103.88" r="3.05" fill="#f8f000"/>
<circle cx="148.54" cy="100.46" r="3.05" fill="#f8f000"/>
<circle cx="154.31" cy="97.25" r="3.05" fill="#f8f000"/>
<circle cx="160.09" cy="94.26" r="3.05" fill="#f8f000"/>
<circle cx="165.86" cy="91.53" r="3.05" fill="#f8f000"/>
<circle cx="171.63" cy="88.96" r="3.05" fill="#f8f000"/>
<circle cx="177.41" cy="86.48" r="3.05" fill="#f8f000"/>
<circle cx="183.18" cy="83.98" r="3.05" fill="#f8f000"/>
<circle cx="188.95" cy="81.39" r="3.05" fill="#f8f000"/>
<circle cx="194.73" cy="78.84" r="3.05" fill="#f8f000"/>
<circle cx="200.5" cy="76.58" r="3.05" fill="#f8f000"/>
<circle cx="206.27" cy="74.73" r="3.05" fill="#f8f000"/>
<circle cx="212.05" cy="73.12" r="3.05" fill="#f8f000"/>
<circle cx="217.82" cy="71.58" r="3.05" fill="#f8f000"/>
<circle cx="223.59" cy="70.04" r="3.05" fill="#f8f000"/>
<circle cx="229.37" cy="68.53" r="3.05" fill="#f8f000"/>
<circle cx="235.14" cy="67.04" r="3.05" fill="#f8f000"/>
<circle cx="240.91" cy="65.55" r="3.05" fill="#f8f000"/>
<circle cx="246.69" cy="64.07" r="3.05" fill="#f8f000"/>
<circle cx="252.46" cy="62.67" r="3.05" fill="#f8f000"/>
<circle cx="258.23" cy="61.36" r="3.05" fill="#f8f000"/>
<circle cx="264.01" cy="60.08" r="3.05" fill="#f8f000"/>
<circle cx="269.78" cy="58.77" r="3.05" fill="#f8f000"/>
<circle cx="275.55" cy="57.44" r="3.05" fill="#f8f000"/>
<circle cx="281.33" cy="56.13" r="3.05" fill="#f8f000"/>
<circle cx="287.1" cy="54.81" r="3.05" fill="#f8f000"/>
<circle cx="292.87" cy="53.48" r="3.05" fill="#f8f000"/>
<circle cx="298.65" cy="52.17" r="3.05" fill="#f8f000"/>
<circle cx="304.42" cy="50.98" r="3.05" fill="#f8f000"/>
<circle cx="310.19" cy="49.87" r="3.05" fill="#f8f000"/>
<circle cx="315.97" cy="48.81" r="3.05" fill="#f8f000"/>
<circle cx="321.74" cy="47.8" r="3.05" fill="#f8f000"/>
<circle cx="327.51" cy="46.86" r="3.05" fill="#f8f000"/>
<circle cx="333.29" cy="45.99" r="3.05" fill="#f8f000"/>
<circle cx="339.06" cy="45.14" r="3.05" fill="#f8f000"/>
<circle cx="344.83" cy="44.33" r="3.05" fill="#f8f000"/>
<circle cx="350.61" cy="43.55" r="3.05" fill="#f8f000"/>
<circle cx="356.38" cy="42.81" r="3.05" fill="#f8f000"/>
<circle cx="362.15" cy="42.11" r="3.05" fill="#f8f000"/>
<polyline points="38.85,263.41 44.62,241.83 50.39,222.47 56.17,208.57 61.94,196.03 67.71,185.2 73.49,176.75 79.26,168.47 85.03,160.87 90.81,154.45 96.58,148.72 102.35,143.43 108.13,138.61 113.9,134.2 119.67,130.08 125.45,126.17 131.22,122.41 136.99,118.84 142.77,115.48 148.54,112.32 154.31,109.34 160.09,106.58 165.86,104.06 171.63,101.72 177.41,99.47 183.18,97.23 188.95,94.9 194.73,92.62 200.5,90.63 206.27,89.03 212.05,87.63 217.82,86.28 223.59,84.92 229.37,83.59 235.14,82.31 240.91,81.06 246.69,79.86 252.46,78.78 258.23,77.87 264.01,77.05 269.78,76.23 275.55,75.39 281.33,74.56 287.1,73.73 292.87,72.86 298.65,71.97 304.42,71.13 310.19,70.33 315.97,69.55 321.74,68.78 327.51,68.03 333.29,67.28 339.06,66.53 344.83,65.78 350.61,65.03 356.38,64.31 362.15,63.61" fill="none" stroke="#b8b8b8" stroke-width="0.7"/>
<polygon points="35.25,261.01 42.45,261.01 38.85,267.71" fill="#8c8c8c"/>
<polygon points="41.02,239.43 48.22,239.43 44.62,246.13" fill="#8c8c8c"/>
<polygon points="46.79,220.07 53.99,220.07 50.39,226.77" fill="#8c8c8c"/>
<polygon points="52.57,206.17 59.77,206.17 56.17,212.87" fill="#8c8c8c"/>
<polygon points="58.34,193.63 65.54,193.63 61.94,200.33" fill="#8c8c8c"/>
<polygon points="64.11,182.8 71.31,182.8 67.71,189.5" fill="#8c8c8c"/>
<polygon points="69.89,174.35 77.09,174.35 73.49,181.05" fill="#8c8c8c"/>
<polygon points="75.66,166.07 82.86,166.07 79.26,172.77" fill="#8c8c8c"/>
<polygon points="81.43,158.47 88.63,158.47 85.03,165.17" fill="#8c8c8c"/>
<polygon points="87.21,152.05 94.41,152.05 90.81,158.75" fill="#8c8c8c"/>
<polygon points="92.98,146.32 100.18,146.32 96.58,153.02" fill="#8c8c8c"/>
<polygon points="98.75,141.03 105.95,141.03 102.35,147.73" fill="#8c8c8c"/>
<polygon points="104.53,136.21 111.73,136.21 108.13,142.91" fill="#8c8c8c"/>
<polygon points="110.3,131.8 117.5,131.8 113.9,138.5" fill="#8c8c8c"/>
<polygon points="116.07,127.68 123.27,127.68 119.67,134.38" fill="#8c8c8c"/>
<polygon points="121.85,123.77 129.05,123.77 125.45,130.47" fill="#8c8c8c"/>
<polygon points="127.62,120.01 134.82,120.01 131.22,126.71" fill="#8c8c8c"/>
<polygon points="133.39,116.44 140.59,116.44 136.99,123.14" fill="#8c8c8c"/>
<polygon points="139.17,113.08 146.37,113.08 142.77,119.78" fill="#8c8c8c"/>
<polygon points="144.94,109.92 152.14,109.92 148.54,116.62" fill="#8c8c8c"/>
<polygon points="150.71,106.94 157.91,106.94 154.31,113.64" fill="#8c8c8c"/>
<polygon points="156.49,104.18 163.69,104.18 160.09,110.88" fill="#8c8c8c"/>
<polygon points="162.26,101.66 169.46,101.66 165.86,108.36" fill="#8c8c8c"/>
<polygon points="168.03,99.32 175.23,99.32 171.63,106.02" fill="#8c8c8c"/>
<polygon points="173.81,97.07 181.01,97.07 177.41,103.77" fill="#8c8c8c"/>
<polygon points="179.58,94.83 186.78,94.83 183.18,101.53" fill="#8c8c8c"/>
<polygon points="185.35,92.5 192.55,92.5 188.95,99.2" fill="#8c8c8c"/>
<polygon points="191.13,90.22 198.33,90.22 194.73,96.92" fill="#8c8c8c"/>
<polygon points="196.9,88.23 204.1,88.23 200.5,94.93" fill="#8c8c8c"/>
<polygon points="202.67,86.63 209.87,86.63 206.27,93.33" fill="#8c8c8c"/>
<polygon points="208.45,85.23 215.65,85.23 212.05,91.93" fill="#8c8c8c"/>
<polygon points="214.22,83.88 221.42,83.88 217.82,90.58" fill="#8c8c8c"/>
<polygon points="219.99,82.52 227.19,82.52 223.59,89.22" fill="#8c8c8c"/>
<polygon points="225.77,81.19 232.97,81.19 229.37,87.89" fill="#8c8c8c"/>
<polygon points="231.54,79.91 238.74,79.91 235.14,86.61" fill="#8c8c8c"/>
<polygon points="237.31,78.66 244.51,78.66 240.91,85.36" fill="#8c8c8c"/>
<polygon points="243.09,77.46 250.29,77.46 246.69,84.16" fill="#8c8c8c"/>
<polygon points="248.86,76.38 256.06,76.38 252.46,83.08" fill="#8c8c8c"/>
<polygon points="254.63,75.47 261.83,75.47 258.23,82.17" fill="#8c8c8c"/>
<polygon points="260.41,74.65 267.61,74.65 264.01,81.35" fill="#8c8c8c"/>
<polygon points="266.18,73.83 273.38,73.83 269.78,80.53" fill="#8c8c8c"/>
<polygon points="271.95,72.99 279.15,72.99 275.55,79.69" fill="#8c8c8c"/>
<polygon points="277.73,72.16 284.93,72.16 281.33,78.86" fill="#8c8c8c"/>
<polygon points="283.5,71.33 290.7,71.33 287.1,78.03" fill="#8c8c8c"/>
<polygon points="289.27,70.46 296.47,70.46 292.87,77.16" fill="#8c8c8c"/>
<polygon points="295.05,69.57 302.25,69.57 298.65,76.27" fill="#8c8c8c"/>
<polygon points="300.82,68.73 308.02,68.73 304.42,75.43" fill="#8c8c8c"/>
<polygon points="306.59,67.93 313.79,67.93 310.19,74.63" fill="#8c8c8c"/>
<polygon points="312.37,67.15 319.57,67.15 315.97,73.85" fill="#8c8c8c"/>
<polygon points="318.14,66.38 325.34,66.38 321.74,73.08" fill="#8c8c8c"/>
<polygon points="323.91,65.63 331.11,65.63 327.51,72.33" fill="#8c8c8c"/>
<polygon points="329.69,64.88 336.89,64.88 333.29,71.58" fill="#8c8c8c"/>
<polygon points="335.46,64.13 342.66,64.13 339.06,70.83" fill="#8c8c8c"/>
<polygon points="341.23,63.38 348.43,63.38 344.83,70.08" fill="#8c8c8c"/>
<polygon points="347.01,62.63 354.21,62.63 350.61,69.33" fill="#8c8c8c"/>
<polygon points="352.78,61.91 359.98,61.91 356.38,68.61" fill="#8c8c8c"/>
<polygon points="358.55,61.21 365.75,61.21 362.15,67.91" fill="#8c8c8c"/>
<polyline points="38.85,263.41 44.62,241.28 50.39,221.37 56.17,206.94 61.94,193.88 67.71,182.55 73.49,173.61 79.26,164.86 85.03,156.77 90.81,149.88 96.58,143.67 102.35,137.91 108.13,132.62 113.9,127.76 119.67,123.21 125.45,118.87 131.22,114.68 136.99,110.69 142.77,106.95 148.54,103.43 154.31,100.12 160.09,97.03 165.86,94.18 171.63,91.49 177.41,88.87 183.18,86.23 188.95,83.49 194.73,80.76 200.5,78.28 206.27,76.1 212.05,74.03 217.82,71.97 223.59,69.92 229.37,67.98 235.14,66.13 240.91,64.3 246.69,62.5 252.46,60.81 258.23,59.3 264.01,57.91 269.78,56.56 275.55,55.22 281.33,53.9 287.1,52.61 292.87,51.33 298.65,50.07 304.42,48.89 310.19,47.76 315.97,46.65 321.74,45.56 327.51,44.5 333.29,43.46 339.06,42.44 344.83,41.46 350.61,40.5 356.38,39.58 362.15,38.7" fill="none" stroke="#b4f4b8" stroke-width="0.7"/>
<polygon points="34.65,263.41 41.15,260.41 41.15,266.41" fill="#86f08c"/>
<polygon points="40.42,241.28 46.92,238.28 46.92,244.28" fill="#86f08c"/>
<polygon points="46.19,221.37 52.69,218.37 52.69,224.37" fill="#86f08c"/>
<polygon points="51.97,206.94 58.47,203.94 58.47,209.94" fill="#86f08c"/>
<polygon points="57.74,193.88 64.24,190.88 64.24,196.88" fill="#86f08c"/>
<polygon points="63.51,182.55 70.01,179.55 70.01,185.55" fill="#86f08c"/>
<polygon points="69.29,173.61 75.79,170.61 75.79,176.61" fill="#86f08c"/>
<polygon points="75.06,164.86 81.56,161.86 81.56,167.86" fill="#86f08c"/>
<polygon points="80.83,156.77 87.33,153.77 87.33,159.77" fill="#86f08c"/>
<polygon points="86.61,149.88 93.11,146.88 93.11,152.88" fill="#86f08c"/>
<polygon points="92.38,143.67 98.88,140.67 98.88,146.67" fill="#86f08c"/>
<polygon points="98.15,137.91 104.65,134.91 104.65,140.91" fill="#86f08c"/>
<polygon points="103.93,132.62 110.43,129.62 110.43,135.62" fill="#86f08c"/>
<polygon points="109.7,127.76 116.2,124.76 116.2,130.76" fill="#86f08c"/>
<polygon points="115.47,123.21 121.97,120.21 121.97,126.21" fill="#86f08c"/>
<polygon points="121.25,118.87 127.75,115.87 127.75,121.87" fill="#86f08c"/>
<polygon points="127.02,114.68 133.52,111.68 133.52,117.68" fill="#86f08c"/>
<polygon points="132.79,110.69 139.29,107.69 139.29,113.69" fill="#86f08c"/>
<polygon points="138.57,106.95 145.07,103.95 145.07,109.95" fill="#86f08c"/>
<polygon points="144.34,103.43 150.84,100.43 150.84,106.43" fill="#86f08c"/>
<polygon points="150.11,100.12 156.61,97.12 156.61,103.12" fill="#86f08c"/>
<polygon points="155.89,97.03 162.39,94.03 162.39,100.03" fill="#86f08c"/>
<polygon points="161.66,94.18 168.16,91.18 168.16,97.18" fill="#86f08c"/>
<polygon points="167.43,91.49 173.93,88.49 173.93,94.49" fill="#86f08c"/>
<polygon points="173.21,88.87 179.71,85.87 179.71,91.87" fill="#86f08c"/>
<polygon points="178.98,86.23 185.48,83.23 185.48,89.23" fill="#86f08c"/>
<polygon points="184.75,83.49 191.25,80.49 191.25,86.49" fill="#86f08c"/>
<polygon points="190.53,80.76 197.03,77.76 197.03,83.76" fill="#86f08c"/>
<polygon points="196.3,78.28 202.8,75.28 202.8,81.28" fill="#86f08c"/>
<polygon points="202.07,76.1 208.57,73.1 208.57,79.1" fill="#86f08c"/>
<polygon points="207.85,74.03 214.35,71.03 214.35,77.03" fill="#86f08c"/>
<polygon points="213.62,71.97 220.12,68.97 220.12,74.97" fill="#86f08c"/>
<polygon points="219.39,69.92 225.89,66.92 225.89,72.92" fill="#86f08c"/>
<polygon points="225.17,67.98 231.67,64.98 231.67,70.98" fill="#86f08c"/>
<polygon points="230.94,66.13 237.44,63.13 237.44,69.13" fill="#86f08c"/>
<polygon points="236.71,64.3 243.21,61.3 243.21,67.3" fill="#86f08c"/>
<polygon points="242.49,62.5 248.99,59.5 248.99,65.5" fill="#86f08c"/>
<polygon points="248.26,60.81 254.76,57.81 254.76,63.81" fill="#86f08c"/>
<polygon points="254.03,59.3 260.53,56.3 260.53,62.3" fill="#86f08c"/>
<polygon points="259.81,57.91 266.31,54.91 266.31,60.91" fill="#86f08c"/>
<polygon points="265.58,56.56 272.08,53.56 272.08,59.56" fill="#86f08c"/>
<polygon points="271.35,55.22 277.85,52.22 277.85,58.22" fill="#86f08c"/>
<polygon points="277.13,53.9 283.63,50.9 283.63,56.9" fill="#86f08c"/>
<polygon points="282.9,52.61 289.4,49.61 289.4,55.61" fill="#86f08c"/>
<polygon points="288.67,51.33 295.17,48.33 295.17,54.33" fill="#86f08c"/>
<polygon points="294.45,50.07 300.95,47.07 300.95,53.07" fill="#86f08c"/>
<polygon points="300.22,48.89 306.72,45.89 306.72,51.89" fill="#86f08c"/>
<polygon points="305.99,47.76 312.49,44.76 312.49,50.76" fill="#86f08c"/>
<polygon points="311.77,46.65 318.27,43.65 318.27,49.65" fill="#86f08c"/>
<polygon points="317.54,45.56 324.04,42.56 324.04,48.56" fill="#86f08c"/>
<polygon points="323.31,44.5 329.81,41.5 329.81,47.5" fill="#86f08c"/>
<polygon points="329.09,43.46 335.59,40.46 335.59,46.46" fill="#86f08c"/>
<polygon points="334.86,42.44 341.36,39.44 341.36,45.44" fill="#86f08c"/>
<polygon points="340.63,41.46 347.13,38.46 347.13,44.46" fill="#86f08c"/>
<polygon points="346.41,40.5 352.91,37.5 352.91,43.5" fill="#86f08c"/>
<polygon points="352.18,39.58 358.68,36.58 358.68,42.58" fill="#86f08c"/>
<polygon points="357.95,38.7 364.45,35.7 364.45,41.7" fill="#86f08c"/>
<polyline points="38.85,263.41 44.62,240.93 50.39,220.77 56.17,206.25 61.94,193.24 67.71,181.98 73.49,173.17 79.26,164.59 85.03,156.77 90.81,150.19 96.58,144.31 102.35,138.89 108.13,133.95 113.9,129.45 119.67,125.26 125.45,121.29 131.22,117.5 136.99,113.91 142.77,110.53 148.54,107.35 154.31,104.36 160.09,101.65 165.86,99.27 171.63,97.13 177.41,95.09 183.18,93.02 188.95,90.8 194.73,88.56 200.5,86.58 206.27,84.94 212.05,83.48 217.82,82.05 223.59,80.59 229.37,79.16 235.14,77.75 240.91,76.35 246.69,74.99 252.46,73.74 258.23,72.65 264.01,71.64 269.78,70.63 275.55,69.59 281.33,68.57 287.1,67.56 292.87,66.5 298.65,65.43 304.42,64.41 310.19,63.43 315.97,62.47 321.74,61.52 327.51,60.59 333.29,59.66 339.06,58.73 344.83,57.79 350.61,56.87 356.38,55.96 362.15,55.08" fill="none" stroke="#f4b4d8" stroke-width="0.7"/>
<polygon points="38.85,260.51 39.73,262.6 41.99,262.79 40.27,264.28 40.79,266.48 38.85,265.31 36.91,266.48 37.42,264.28 35.71,262.79 37.96,262.6" fill="#f08ccc"/>
<polygon points="44.62,238.03 45.5,240.12 47.76,240.31 46.05,241.79 46.56,244 44.62,242.83 42.68,244 43.19,241.79 41.48,240.31 43.74,240.12" fill="#f08ccc"/>
<polygon points="50.39,217.87 51.28,219.96 53.53,220.15 51.82,221.63 52.33,223.84 50.39,222.67 48.45,223.84 48.97,221.63 47.25,220.15 49.51,219.96" fill="#f08ccc"/>
<polygon points="56.17,203.35 57.05,205.44 59.31,205.63 57.59,207.12 58.11,209.32 56.17,208.15 54.23,209.32 54.74,207.12 53.03,205.63 55.28,205.44" fill="#f08ccc"/>
<polygon points="61.94,190.34 62.82,192.43 65.08,192.62 63.37,194.1 63.88,196.31 61.94,195.14 60,196.31 60.51,194.1 58.8,192.62 61.06,192.43" fill="#f08ccc"/>
<polygon points="67.71,179.08 68.6,181.17 70.85,181.36 69.14,182.84 69.65,185.05 67.71,183.88 65.77,185.05 66.29,182.84 64.57,181.36 66.83,181.17" fill="#f08ccc"/>
<polygon points="73.49,170.27 74.37,172.35 76.63,172.55 74.91,174.03 75.43,176.24 73.49,175.07 71.55,176.24 72.06,174.03 70.35,172.55 72.6,172.35" fill="#f08ccc"/>
<polygon points="79.26,161.69 80.14,163.78 82.4,163.97 80.69,165.46 81.2,167.66 79.26,166.49 77.32,167.66 77.83,165.46 76.12,163.97 78.38,163.78" fill="#f08ccc"/>
<polygon points="85.03,153.87 85.92,155.96 88.17,156.15 86.46,157.63 86.97,159.84 85.03,158.67 83.09,159.84 83.61,157.63 81.89,156.15 84.15,155.96" fill="#f08ccc"/>
<polygon points="90.81,147.29 91.69,149.38 93.95,149.57 92.23,151.06 92.75,153.26 90.81,152.09 88.87,153.26 89.38,151.06 87.67,149.57 89.92,149.38" fill="#f08ccc"/>
<polygon points="96.58,141.41 97.46,143.5 99.72,143.69 98.01,145.18 98.52,147.38 96.58,146.21 94.64,147.38 95.15,145.18 93.44,143.69 95.7,143.5" fill="#f08ccc"/>
<polygon points="102.35,135.99 103.24,138.08 105.49,138.27 103.78,139.75 104.29,141.96 102.35,140.79 100.41,141.96 100.93,139.75 99.21,138.27 101.47,138.08" fill="#f08ccc"/>
<polygon points="108.13,131.05 109.01,133.14 111.27,133.33 109.55,134.82 110.07,137.02 108.13,135.85 106.19,137.02 106.7,134.82 104.99,133.33 107.24,133.14" fill="#f08ccc"/>
<polygon points="113.9,126.55 114.78,128.63 117.04,128.83 115.33,130.31 115.84,132.52 113.9,131.35 111.96,132.52 112.47,130.31 110.76,128.83 113.02,128.63" fill="#f08ccc"/>
<polygon points="119.67,122.36 120.56,124.44 122.81,124.64 121.1,126.12 121.61,128.33 119.67,127.16 117.73,128.33 118.25,126.12 116.53,124.64 118.79,124.44" fill="#f08ccc"/>
<polygon points="125.45,118.39 126.33,120.48 128.59,120.67 126.87,122.16 127.39,124.36 125.45,123.19 123.51,124.36 124.02,122.16 122.31,120.67 124.56,120.48" fill="#f08ccc"/>
<polygon points="131.22,114.6 132.1,116.69 134.36,116.88 132.65,118.37 133.16,120.57 131.22,119.4 129.28,120.57 129.79,118.37 128.08,116.88 130.34,116.69" fill="#f08ccc"/>
<polygon points="136.99,111.01 137.88,113.09 140.13,113.29 138.42,114.77 138.93,116.97 136.99,115.81 135.05,116.97 135.57,114.77 133.85,113.29 136.11,113.09" fill="#f08ccc"/>
<polygon points="142.77,107.63 143.65,109.72 145.91,109.91 144.19,111.39 144.71,113.6 142.77,112.43 140.83,113.6 141.34,111.39 139.63,109.91 141.88,109.72" fill="#f08ccc"/>
<polygon points="148.54,104.45 149.42,106.54 151.68,106.73 149.97,108.22 150.48,110.42 148.54,109.25 146.6,110.42 147.11,108.22 145.4,106.73 147.66,106.54" fill="#f08ccc"/>
<polygon points="154.31,101.46 155.2,103.55 157.45,103.74 155.74,105.22 156.25,107.43 154.31,106.26 152.37,107.43 152.89,105.22 151.17,103.74 153.43,103.55" fill="#f08ccc"/>
<polygon points="160.09,98.75 160.97,100.84 163.23,101.03 161.51,102.51 162.03,104.72 160.09,103.55 158.15,104.72 158.66,102.51 156.95,101.03 159.2,100.84" fill="#f08ccc"/>
<polygon points="165.86,96.37 166.74,98.46 169,98.65 167.29,100.14 167.8,102.34 165.86,101.17 163.92,102.34 164.43,100.14 162.72,98.65 164.98,98.46" fill="#f08ccc"/>
<polygon points="171.63,94.23 172.52,96.31 174.77,96.51 173.06,97.99 173.57,100.2 171.63,99.03 169.69,100.2 170.21,97.99 168.49,96.51 170.75,96.31" fill="#f08ccc"/>
<polygon points="177.41,92.19 178.29,94.27 180.55,94.47 178.83,95.95 179.35,98.16 177.41,96.99 175.47,98.16 175.98,95.95 174.27,94.47 176.52,94.27" fill="#f08ccc"/>
<polygon points="183.18,90.12 184.06,92.21 186.32,92.4 184.61,93.89 185.12,96.09 183.18,94.92 181.24,96.09 181.75,93.89 180.04,92.4 182.3,92.21" fill="#f08ccc"/>
<polygon points="188.95,87.9 189.84,89.99 192.09,90.18 190.38,91.67 190.89,93.87 188.95,92.7 187.01,93.87 187.53,91.67 185.81,90.18 188.07,89.99" fill="#f08ccc"/>
<polygon points="194.73,85.66 195.61,87.75 197.87,87.94 196.15,89.43 196.67,91.63 194.73,90.46 192.79,91.63 193.3,89.43 191.59,87.94 193.84,87.75" fill="#f08ccc"/>
<polygon points="200.5,83.68 201.38,85.77 203.64,85.96 201.93,87.44 202.44,89.65 200.5,88.48 198.56,89.65 199.07,87.44 197.36,85.96 199.62,85.77" fill="#f08ccc"/>
<polygon points="206.27,82.04 207.16,84.13 209.41,84.32 207.7,85.81 208.21,88.01 206.27,86.84 204.33,88.01 204.85,85.81 203.13,84.32 205.39,84.13" fill="#f08ccc"/>
<polygon points="212.05,80.58 212.93,82.67 215.19,82.86 213.47,84.35 213.99,86.55 212.05,85.38 210.11,86.55 210.62,84.35 208.91,82.86 211.16,82.67" fill="#f08ccc"/>
<polygon points="217.82,79.15 218.7,81.24 220.96,81.43 219.25,82.92 219.76,85.12 217.82,83.95 215.88,85.12 216.39,82.92 214.68,81.43 216.94,81.24" fill="#f08ccc"/>
<polygon points="223.59,77.69 224.48,79.78 226.73,79.97 225.02,81.46 225.53,83.66 223.59,82.49 221.65,83.66 222.17,81.46 220.45,79.97 222.71,79.78" fill="#f08ccc"/>
<polygon points="229.37,76.26 230.25,78.34 232.51,78.54 230.79,80.02 231.31,82.23 229.37,81.06 227.43,82.23 227.94,80.02 226.23,78.54 228.48,78.34" fill="#f08ccc"/>
<polygon points="235.14,74.85 236.02,76.93 238.28,77.13 236.57,78.61 237.08,80.82 235.14,79.65 233.2,80.82 233.71,78.61 232,77.13 234.26,76.93" fill="#f08ccc"/>
<polygon points="240.91,73.45 241.8,75.54 244.05,75.73 242.34,77.22 242.85,79.42 240.91,78.25 238.97,79.42 239.49,77.22 237.77,75.73 240.03,75.54" fill="#f08ccc"/>
<polygon points="246.69,72.09 247.57,74.18 249.83,74.37 248.11,75.85 248.63,78.06 246.69,76.89 244.75,78.06 245.26,75.85 243.55,74.37 245.8,74.18" fill="#f08ccc"/>
<polygon points="252.46,70.84 253.34,72.92 255.6,73.12 253.89,74.6 254.4,76.81 252.46,75.64 250.52,76.81 251.03,74.6 249.32,73.12 251.58,72.92" fill="#f08ccc"/>
<polygon points="258.23,69.75 259.12,71.83 261.37,72.03 259.66,73.51 260.17,75.72 258.23,74.55 256.29,75.72 256.81,73.51 255.09,72.03 257.35,71.83" fill="#f08ccc"/>
<polygon points="264.01,68.74 264.89,70.83 267.15,71.02 265.43,72.5 265.95,74.71 264.01,73.54 262.07,74.71 262.58,72.5 260.87,71.02 263.12,70.83" fill="#f08ccc"/>
<polygon points="269.78,67.73 270.66,69.81 272.92,70.01 271.21,71.49 271.72,73.7 269.78,72.53 267.84,73.7 268.35,71.49 266.64,70.01 268.9,69.81" fill="#f08ccc"/>
<polygon points="275.55,66.69 276.44,68.78 278.69,68.97 276.98,70.46 277.49,72.66 275.55,71.49 273.61,72.66 274.13,70.46 272.41,68.97 274.67,68.78" fill="#f08ccc"/>
<polygon points="281.33,65.67 282.21,67.76 284.47,67.95 282.75,69.44 283.27,71.64 281.33,70.47 279.39,71.64 279.9,69.44 278.19,67.95 280.44,67.76" fill="#f08ccc"/>
<polygon points="287.1,64.66 287.98,66.74 290.24,66.94 288.53,68.42 289.04,70.63 287.1,69.46 285.16,70.63 285.67,68.42 283.96,66.94 286.22,66.74" fill="#f08ccc"/>
<polygon points="292.87,63.6 293.76,65.69 296.01,65.88 294.3,67.36 294.81,69.57 292.87,68.4 290.93,69.57 291.45,67.36 289.73,65.88 291.99,65.69" fill="#f08ccc"/>
<polygon points="298.65,62.53 299.53,64.61 301.79,64.81 300.07,66.29 300.59,68.5 298.65,67.33 296.71,68.5 297.22,66.29 295.51,64.81 297.76,64.61" fill="#f08ccc"/>
<polygon points="304.42,61.51 305.3,63.59 307.56,63.79 305.85,65.27 306.36,67.48 304.42,66.31 302.48,67.48 302.99,65.27 301.28,63.79 303.54,63.59" fill="#f08ccc"/>
<polygon points="310.19,60.53 311.08,62.62 313.33,62.81 311.62,64.3 312.13,66.5 310.19,65.33 308.25,66.5 308.77,64.3 307.05,62.81 309.31,62.62" fill="#f08ccc"/>
<polygon points="315.97,59.57 316.85,61.66 319.11,61.85 317.39,63.33 317.91,65.54 315.97,64.37 314.03,65.54 314.54,63.33 312.83,61.85 315.08,61.66" fill="#f08ccc"/>
<polygon points="321.74,58.62 322.62,60.71 324.88,60.9 323.17,62.39 323.68,64.59 321.74,63.42 319.8,64.59 320.31,62.39 318.6,60.9 320.86,60.71" fill="#f08ccc"/>
<polygon points="327.51,57.69 328.4,59.78 330.65,59.97 328.94,61.46 329.45,63.66 327.51,62.49 325.57,63.66 326.09,61.46 324.37,59.97 326.63,59.78" fill="#f08ccc"/>
<polygon points="333.29,56.76 334.17,58.85 336.43,59.04 334.71,60.53 335.23,62.73 333.29,61.56 331.35,62.73 331.86,60.53 330.15,59.04 332.4,58.85" fill="#f08ccc"/>
<polygon points="339.06,55.83 339.94,57.92 342.2,58.11 340.49,59.59 341,61.8 339.06,60.63 337.12,61.8 337.63,59.59 335.92,58.11 338.18,57.92" fill="#f08ccc"/>
<polygon points="344.83,54.89 345.72,56.98 347.97,57.18 346.26,58.66 346.77,60.86 344.83,59.69 342.89,60.86 343.41,58.66 341.69,57.18 343.95,56.98" fill="#f08ccc"/>
<polygon points="350.61,53.97 351.49,56.06 353.75,56.25 352.03,57.73 352.55,59.94 350.61,58.77 348.67,59.94 349.18,57.73 347.47,56.25 349.72,56.06" fill="#f08ccc"/>
<polygon points="356.38,53.06 357.26,55.15 359.52,55.34 357.81,56.83 358.32,59.03 356.38,57.86 354.44,59.03 354.95,56.83 353.24,55.34 355.5,55.15" fill="#f08ccc"/>
<polygon points="362.15,52.18 363.04,54.27 365.29,54.46 363.58,55.94 364.09,58.15 362.15,56.98 360.21,58.15 360.73,55.94 359.01,54.46 361.27,54.27" fill="#f08ccc"/>
<polyline points="38.85,263.41 44.62,241.74 50.39,222.29 56.17,208.3 61.94,195.67 67.71,184.75 73.49,176.22 79.26,167.87 85.03,160.18 90.81,153.7 96.58,147.9 102.35,142.55 108.13,137.66 113.9,133.19 119.67,129.01 125.45,125.03 131.22,121.21 136.99,117.56 142.77,114.11 148.54,110.86 154.31,107.77 160.09,104.9 165.86,102.26 171.63,99.79 177.41,97.4 183.18,95 188.95,92.51 194.73,90.04 200.5,87.84 206.27,85.99 212.05,84.34 217.82,82.72 223.59,81.09 229.37,79.5 235.14,77.94 240.91,76.41 246.69,74.92 252.46,73.54 258.23,72.33 264.01,71.21 269.78,70.09 275.55,68.96 281.33,67.84 287.1,66.74 292.87,65.6 298.65,64.44 304.42,63.34 310.19,62.28 315.97,61.24 321.74,60.22 327.51,59.22 333.29,58.23 339.06,57.23 344.83,56.24 350.61,55.26 356.38,54.3 362.15,53.37" fill="none" stroke="#6a3a40" stroke-width="0.7"/>
<polygon points="38.85,260.01 39.85,261.68 41.79,261.71 40.85,263.41 41.79,265.11 39.85,265.14 38.85,266.81 37.85,265.14 35.9,265.11 36.85,263.41 35.9,261.71 37.85,261.68" fill="#6c2731"/>
<polygon points="44.62,238.34 45.62,240.01 47.56,240.04 46.62,241.74 47.56,243.44 45.62,243.47 44.62,245.14 43.62,243.47 41.68,243.44 42.62,241.74 41.68,240.04 43.62,240.01" fill="#6c2731"/>
<polygon points="50.39,218.89 51.39,220.56 53.34,220.59 52.39,222.29 53.34,223.99 51.39,224.02 50.39,225.69 49.39,224.02 47.45,223.99 48.39,222.29 47.45,220.59 49.39,220.56" fill="#6c2731"/>
<polygon points="56.17,204.9 57.17,206.57 59.11,206.6 58.17,208.3 59.11,210 57.17,210.03 56.17,211.7 55.17,210.03 53.22,210 54.17,208.3 53.22,206.6 55.17,206.57" fill="#6c2731"/>
<polygon points="61.94,192.27 62.94,193.94 64.88,193.97 63.94,195.67 64.88,197.37 62.94,197.41 61.94,199.07 60.94,197.41 59,197.37 59.94,195.67 59,193.97 60.94,193.94" fill="#6c2731"/>
<polygon points="67.71,181.35 68.71,183.02 70.66,183.05 69.71,184.75 70.66,186.45 68.71,186.49 67.71,188.15 66.71,186.49 64.77,186.45 65.71,184.75 64.77,183.05 66.71,183.02" fill="#6c2731"/>
<polygon points="73.49,172.82 74.49,174.49 76.43,174.52 75.49,176.22 76.43,177.92 74.49,177.95 73.49,179.62 72.49,177.95 70.54,177.92 71.49,176.22 70.54,174.52 72.49,174.49" fill="#6c2731"/>
<polygon points="79.26,164.47 80.26,166.14 82.2,166.17 81.26,167.87 82.2,169.57 80.26,169.6 79.26,171.27 78.26,169.6 76.32,169.57 77.26,167.87 76.32,166.17 78.26,166.14" fill="#6c2731"/>
<polygon points="85.03,156.78 86.03,158.45 87.98,158.48 87.03,160.18 87.98,161.88 86.03,161.92 85.03,163.58 84.03,161.92 82.09,161.88 83.03,160.18 82.09,158.48 84.03,158.45" fill="#6c2731"/>
<polygon points="90.81,150.3 91.81,151.97 93.75,152 92.81,153.7 93.75,155.4 91.81,155.43 90.81,157.1 89.81,155.43 87.86,155.4 88.81,153.7 87.86,152 89.81,151.97" fill="#6c2731"/>
<polygon points="96.58,144.5 97.58,146.17 99.52,146.2 98.58,147.9 99.52,149.6 97.58,149.63 96.58,151.3 95.58,149.63 93.64,149.6 94.58,147.9 93.64,146.2 95.58,146.17" fill="#6c2731"/>
<polygon points="102.35,139.15 103.35,140.81 105.3,140.85 104.35,142.55 105.3,144.25 103.35,144.28 102.35,145.95 101.35,144.28 99.41,144.25 100.35,142.55 99.41,140.85 101.35,140.81" fill="#6c2731"/>
<polygon points="108.13,134.26 109.13,135.93 111.07,135.96 110.13,137.66 111.07,139.36 109.13,139.39 108.13,141.06 107.13,139.39 105.18,139.36 106.13,137.66 105.18,135.96 107.13,135.93" fill="#6c2731"/>
<polygon points="113.9,129.79 114.9,131.46 116.84,131.49 115.9,133.19 116.84,134.89 114.9,134.92 113.9,136.59 112.9,134.92 110.96,134.89 111.9,133.19 110.96,131.49 112.9,131.46" fill="#6c2731"/>
<polygon points="119.67,125.61 120.67,127.28 122.62,127.31 121.67,129.01 122.62,130.71 120.67,130.74 119.67,132.41 118.67,130.74 116.73,130.71 117.67,129.01 116.73,127.31 118.67,127.28" fill="#6c2731"/>
<polygon points="125.45,121.63 126.45,123.3 128.39,123.33 127.45,125.03 128.39,126.73 126.45,126.77 125.45,128.44 124.45,126.77 122.5,126.73 123.45,125.03 122.5,123.33 124.45,123.3" fill="#6c2731"/>
<polygon points="131.22,117.81 132.22,119.48 134.16,119.51 133.22,121.21 134.16,122.91 132.22,122.94 131.22,124.61 130.22,122.94 128.28,122.91 129.22,121.21 128.28,119.51 130.22,119.48" fill="#6c2731"/>
<polygon points="136.99,114.16 137.99,115.83 139.94,115.86 138.99,117.56 139.94,119.26 137.99,119.29 136.99,120.96 135.99,119.29 134.05,119.26 134.99,117.56 134.05,115.86 135.99,115.83" fill="#6c2731"/>
<polygon points="142.77,110.71 143.77,112.38 145.71,112.41 144.77,114.11 145.71,115.81 143.77,115.85 142.77,117.51 141.77,115.85 139.82,115.81 140.77,114.11 139.82,112.41 141.77,112.38" fill="#6c2731"/>
<polygon points="148.54,107.46 149.54,109.13 151.48,109.16 150.54,110.86 151.48,112.56 149.54,112.59 148.54,114.26 147.54,112.59 145.6,112.56 146.54,110.86 145.6,109.16 147.54,109.13" fill="#6c2731"/>
<polygon points="154.31,104.37 155.31,106.04 157.26,106.07 156.31,107.77 157.26,109.47 155.31,109.51 154.31,111.17 153.31,109.51 151.37,109.47 152.31,107.77 151.37,106.07 153.31,106.04" fill="#6c2731"/>
<polygon points="160.09,101.5 161.09,103.17 163.03,103.2 162.09,104.9 163.03,106.6 161.09,106.63 160.09,108.3 159.09,106.63 157.14,106.6 158.09,104.9 157.14,103.2 159.09,103.17" fill="#6c2731"/>
<polygon points="165.86,98.86 166.86,100.53 168.8,100.56 167.86,102.26 168.8,103.96 166.86,103.99 165.86,105.66 164.86,103.99 162.92,103.96 163.86,102.26 162.92,100.56 164.86,100.53" fill="#6c2731"/>
<polygon points="171.63,96.39 172.63,98.06 174.58,98.09 173.63,99.79 174.58,101.49 172.63,101.52 171.63,103.19 170.63,101.52 168.69,101.49 169.63,99.79 168.69,98.09 170.63,98.06" fill="#6c2731"/>
<polygon points="177.41,94 178.41,95.67 180.35,95.7 179.41,97.4 180.35,99.1 178.41,99.13 177.41,100.8 176.41,99.13 174.46,99.1 175.41,97.4 174.46,95.7 176.41,95.67" fill="#6c2731"/>
<polygon points="183.18,91.6 184.18,93.27 186.12,93.3 185.18,95 186.12,96.7 184.18,96.74 183.18,98.41 182.18,96.74 180.24,96.7 181.18,95 180.24,93.3 182.18,93.27" fill="#6c2731"/>
<polygon points="188.95,89.11 189.95,90.78 191.9,90.81 190.95,92.51 191.9,94.21 189.95,94.24 188.95,95.91 187.95,94.24 186.01,94.21 186.95,92.51 186.01,90.81 187.95,90.78" fill="#6c2731"/>
<polygon points="194.73,86.64 195.73,88.31 197.67,88.34 196.73,90.04 197.67,91.74 195.73,91.77 194.73,93.44 193.73,91.77 191.78,91.74 192.73,90.04 191.78,88.34 193.73,88.31" fill="#6c2731"/>
<polygon points="200.5,84.44 201.5,86.11 203.44,86.14 202.5,87.84 203.44,89.54 201.5,89.57 200.5,91.24 199.5,89.57 197.56,89.54 198.5,87.84 197.56,86.14 199.5,86.11" fill="#6c2731"/>
<polygon points="206.27,82.59 207.27,84.26 209.22,84.29 208.27,85.99 209.22,87.69 207.27,87.73 206.27,89.39 205.27,87.73 203.33,87.69 204.27,85.99 203.33,84.29 205.27,84.26" fill="#6c2731"/>
<polygon points="212.05,80.94 213.05,82.6 214.99,82.64 214.05,84.34 214.99,86.04 213.05,86.07 212.05,87.74 211.05,86.07 209.1,86.04 210.05,84.34 209.1,82.64 211.05,82.6" fill="#6c2731"/>
<polygon points="217.82,79.32 218.82,80.99 220.76,81.02 219.82,82.72 220.76,84.42 218.82,84.45 217.82,86.12 216.82,84.45 214.88,84.42 215.82,82.72 214.88,81.02 216.82,80.99" fill="#6c2731"/>
<polygon points="223.59,77.69 224.59,79.36 226.54,79.39 225.59,81.09 226.54,82.79 224.59,82.82 223.59,84.49 222.59,82.82 220.65,82.79 221.59,81.09 220.65,79.39 222.59,79.36" fill="#6c2731"/>
<polygon points="229.37,76.1 230.37,77.76 232.31,77.8 231.37,79.5 232.31,81.2 230.37,81.23 229.37,82.9 228.37,81.23 226.42,81.2 227.37,79.5 226.42,77.8 228.37,77.76" fill="#6c2731"/>
<polygon points="235.14,74.54 236.14,76.21 238.08,76.24 237.14,77.94 238.08,79.64 236.14,79.67 235.14,81.34 234.14,79.67 232.2,79.64 233.14,77.94 232.2,76.24 234.14,76.21" fill="#6c2731"/>
<polygon points="240.91,73.01 241.91,74.68 243.86,74.71 242.91,76.41 243.86,78.11 241.91,78.14 240.91,79.81 239.91,78.14 237.97,78.11 238.91,76.41 237.97,74.71 239.91,74.68" fill="#6c2731"/>
<polygon points="246.69,71.52 247.69,73.19 249.63,73.22 248.69,74.92 249.63,76.62 247.69,76.65 246.69,78.32 245.69,76.65 243.74,76.62 244.69,74.92 243.74,73.22 245.69,73.19" fill="#6c2731"/>
<polygon points="252.46,70.14 253.46,71.81 255.4,71.84 254.46,73.54 255.4,75.24 253.46,75.27 252.46,76.94 251.46,75.27 249.52,75.24 250.46,73.54 249.52,71.84 251.46,71.81" fill="#6c2731"/>
<polygon points="258.23,68.93 259.23,70.6 261.18,70.63 260.23,72.33 261.18,74.03 259.23,74.06 258.23,75.73 257.23,74.06 255.29,74.03 256.23,72.33 255.29,70.63 257.23,70.6" fill="#6c2731"/>
<polygon points="264.01,67.81 265.01,69.48 266.95,69.51 266.01,71.21 266.95,72.91 265.01,72.95 264.01,74.61 263.01,72.95 261.06,72.91 262.01,71.21 261.06,69.51 263.01,69.48" fill="#6c2731"/>
<polygon points="269.78,66.69 270.78,68.36 272.72,68.39 271.78,70.09 272.72,71.79 270.78,71.83 269.78,73.49 268.78,71.83 266.84,71.79 267.78,70.09 266.84,68.39 268.78,68.36" fill="#6c2731"/>
<polygon points="275.55,65.56 276.55,67.23 278.5,67.26 277.55,68.96 278.5,70.66 276.55,70.69 275.55,72.36 274.55,70.69 272.61,70.66 273.55,68.96 272.61,67.26 274.55,67.23" fill="#6c2731"/>
<polygon points="281.33,64.44 282.33,66.11 284.27,66.14 283.33,67.84 284.27,69.54 282.33,69.58 281.33,71.24 280.33,69.58 278.38,69.54 279.33,67.84 278.38,66.14 280.33,66.11" fill="#6c2731"/>
<polygon points="287.1,63.34 288.1,65.01 290.04,65.04 289.1,66.74 290.04,68.44 288.1,68.47 287.1,70.14 286.1,68.47 284.16,68.44 285.1,66.74 284.16,65.04 286.1,65.01" fill="#6c2731"/>
<polygon points="292.87,62.2 293.87,63.86 295.82,63.9 294.87,65.6 295.82,67.3 293.87,67.33 292.87,69 291.87,67.33 289.93,67.3 290.87,65.6 289.93,63.9 291.87,63.86" fill="#6c2731"/>
<polygon points="298.65,61.04 299.65,62.7 301.59,62.74 300.65,64.44 301.59,66.14 299.65,66.17 298.65,67.84 297.65,66.17 295.7,66.14 296.65,64.44 295.7,62.74 297.65,62.7" fill="#6c2731"/>
<polygon points="304.42,59.94 305.42,61.6 307.36,61.64 306.42,63.34 307.36,65.04 305.42,65.07 304.42,66.74 303.42,65.07 301.48,65.04 302.42,63.34 301.48,61.64 303.42,61.6" fill="#6c2731"/>
<polygon points="310.19,58.88 311.19,60.55 313.14,60.58 312.19,62.28 313.14,63.98 311.19,64.01 310.19,65.68 309.19,64.01 307.25,63.98 308.19,62.28 307.25,60.58 309.19,60.55" fill="#6c2731"/>
<polygon points="315.97,57.84 316.97,59.51 318.91,59.54 317.97,61.24 318.91,62.94 316.97,62.98 315.97,64.64 314.97,62.98 313.02,62.94 313.97,61.24 313.02,59.54 314.97,59.51" fill="#6c2731"/>
<polygon points="321.74,56.82 322.74,58.49 324.68,58.52 323.74,60.22 324.68,61.92 322.74,61.95 321.74,63.62 320.74,61.95 318.8,61.92 319.74,60.22 318.8,58.52 320.74,58.49" fill="#6c2731"/>
<polygon points="327.51,55.82 328.51,57.49 330.46,57.52 329.51,59.22 330.46,60.92 328.51,60.95 327.51,62.62 326.51,60.95 324.57,60.92 325.51,59.22 324.57,57.52 326.51,57.49" fill="#6c2731"/>
<polygon points="333.29,54.83 334.29,56.49 336.23,56.53 335.29,58.23 336.23,59.93 334.29,59.96 333.29,61.63 332.29,59.96 330.34,59.93 331.29,58.23 330.34,56.53 332.29,56.49" fill="#6c2731"/>
<polygon points="339.06,53.83 340.06,55.5 342,55.53 341.06,57.23 342,58.93 340.06,58.96 339.06,60.63 338.06,58.96 336.12,58.93 337.06,57.23 336.12,55.53 338.06,55.5" fill="#6c2731"/>
<polygon points="344.83,52.84 345.83,54.5 347.78,54.54 346.83,56.24 347.78,57.94 345.83,57.97 344.83,59.64 343.83,57.97 341.89,57.94 342.83,56.24 341.89,54.54 343.83,54.5" fill="#6c2731"/>
<polygon points="350.61,51.86 351.61,53.52 353.55,53.56 352.61,55.26 353.55,56.96 351.61,56.99 350.61,58.66 349.61,56.99 347.66,56.96 348.61,55.26 347.66,53.56 349.61,53.52" fill="#6c2731"/>
<polygon points="356.38,50.9 357.38,52.57 359.32,52.6 358.38,54.3 359.32,56 357.38,56.03 356.38,57.7 355.38,56.03 353.44,56 354.38,54.3 353.44,52.6 355.38,52.57" fill="#6c2731"/>
<polygon points="362.15,49.97 363.15,51.64 365.1,51.67 364.15,53.37 365.1,55.07 363.15,55.1 362.15,56.77 361.15,55.1 359.21,55.07 360.15,53.37 359.21,51.67 361.15,51.64" fill="#6c2731"/>
<rect x="27.3" y="17.2" width="346.4" height="273" fill="none" stroke="#4a4a4a" stroke-width="0.9"/>
<text transform="translate(27.3 303.2) scale(0.92 1)" font-size="9.9" text-anchor="middle" fill="#2a2a2a">0</text>
<text transform="translate(85.03 303.2) scale(0.92 1)" font-size="9.9" text-anchor="middle" fill="#2a2a2a">10</text>
<text transform="translate(142.77 303.2) scale(0.92 1)" font-size="9.9" text-anchor="middle" fill="#2a2a2a">20</text>
<text transform="translate(200.5 303.2) scale(0.92 1)" font-size="9.9" text-anchor="middle" fill="#2a2a2a">30</text>
<text transform="translate(258.23 303.2) scale(0.92 1)" font-size="9.9" text-anchor="middle" fill="#2a2a2a">40</text>
<text transform="translate(315.97 303.2) scale(0.92 1)" font-size="9.9" text-anchor="middle" fill="#2a2a2a">50</text>
<text transform="translate(373.7 303.2) scale(0.92 1)" font-size="9.9" text-anchor="middle" fill="#2a2a2a">60</text>
<text transform="translate(23.8 294.4) scale(0.92 1)" font-size="9.9" text-anchor="end" fill="#2a2a2a">1</text>
<text transform="translate(23.8 260.27) scale(0.92 1)" font-size="9.9" text-anchor="end" fill="#2a2a2a">2</text>
<text transform="translate(23.8 226.15) scale(0.92 1)" font-size="9.9" text-anchor="end" fill="#2a2a2a">3</text>
<text transform="translate(23.8 192.02) scale(0.92 1)" font-size="9.9" text-anchor="end" fill="#2a2a2a">4</text>
<text transform="translate(23.8 157.9) scale(0.92 1)" font-size="9.9" text-anchor="end" fill="#2a2a2a">5</text>
<text transform="translate(23.8 123.77) scale(0.92 1)" font-size="9.9" text-anchor="end" fill="#2a2a2a">6</text>
<text transform="translate(23.8 89.65) scale(0.92 1)" font-size="9.9" text-anchor="end" fill="#2a2a2a">7</text>
<text transform="translate(23.8 55.52) scale(0.92 1)" font-size="9.9" text-anchor="end" fill="#2a2a2a">8</text>
<text transform="translate(23.8 21.4) scale(0.92 1)" font-size="9.9" text-anchor="end" fill="#2a2a2a">9</text>
<path d="M176.5 128.8L281.3 31.8M281.3 82.4L176.5 261.1" stroke="#3a3a3a" stroke-width="0.5" fill="none"/>
<rect x="281.3" y="31.8" width="87" height="50.6" fill="none" stroke="#444" stroke-width="0.9"/>
<rect x="176.5" y="128.8" width="174.8" height="132.3" fill="#fff"/>
<path d="M176.5 261.1V258.9M176.5 128.8V131M199.81 261.1V258.9M199.81 128.8V131M223.11 261.1V258.9M223.11 128.8V131M246.42 261.1V258.9M246.42 128.8V131M269.73 261.1V258.9M269.73 128.8V131M293.03 261.1V258.9M293.03 128.8V131M316.34 261.1V258.9M316.34 128.8V131M339.65 261.1V258.9M339.65 128.8V131M176.5 261.1H178.7M351.3 261.1H349.1M176.5 240.75H178.7M351.3 240.75H349.1M176.5 220.39H178.7M351.3 220.39H349.1M176.5 200.04H178.7M351.3 200.04H349.1M176.5 179.68H178.7M351.3 179.68H349.1M176.5 159.33H178.7M351.3 159.33H349.1M176.5 138.98H178.7M351.3 138.98H349.1" stroke="#4a4a4a" stroke-width="0.6" fill="none"/>
<clipPath id="ic"><rect x="176.5" y="128.8" width="174.8" height="132.3"/></clipPath>
<g clip-path="url(#ic)">
<polyline points="176.5,222.35 188.15,218.87 199.81,215.48 211.46,212.21 223.11,209.14 234.77,206.23 246.42,203.39 258.07,200.62 269.73,197.93 281.38,195.32 293.03,192.8 304.69,190.38 316.34,188.06 327.99,185.85 339.65,183.76" fill="none" stroke="#2f5e9c" stroke-width="0.6"/>
<polygon points="188.15,215.55 190.61,218.87 188.15,222.18 185.7,218.87" fill="#2f5e9c"/>
<polygon points="199.81,212.17 202.26,215.48 199.81,218.8 197.35,215.48" fill="#2f5e9c"/>
<polygon points="211.46,208.9 213.92,212.21 211.46,215.53 209,212.21" fill="#2f5e9c"/>
<polygon points="223.11,205.83 225.57,209.14 223.11,212.46 220.66,209.14" fill="#2f5e9c"/>
<polygon points="234.77,202.92 237.22,206.23 234.77,209.55 232.31,206.23" fill="#2f5e9c"/>
<polygon points="246.42,200.07 248.88,203.39 246.42,206.7 243.96,203.39" fill="#2f5e9c"/>
<polygon points="258.07,197.3 260.53,200.62 258.07,203.93 255.62,200.62" fill="#2f5e9c"/>
<polygon points="269.73,194.61 272.18,197.93 269.73,201.24 267.27,197.93" fill="#2f5e9c"/>
<polygon points="281.38,192 283.84,195.32 281.38,198.63 278.92,195.32" fill="#2f5e9c"/>
<polygon points="293.03,189.49 295.49,192.8 293.03,196.12 290.58,192.8" fill="#2f5e9c"/>
<polygon points="304.69,187.07 307.14,190.38 304.69,193.7 302.23,190.38" fill="#2f5e9c"/>
<polygon points="316.34,184.75 318.8,188.06 316.34,191.38 313.88,188.06" fill="#2f5e9c"/>
<polygon points="327.99,182.54 330.45,185.85 327.99,189.17 325.54,185.85" fill="#2f5e9c"/>
<polygon points="339.65,180.44 342.1,183.76 339.65,187.07 337.19,183.76" fill="#2f5e9c"/>
<polyline points="176.5,237.91 188.15,234.64 199.81,231.46 211.46,228.38 223.11,225.48 234.77,222.72 246.42,220.01 258.07,217.36 269.73,214.77 281.38,212.26 293.03,209.83 304.69,207.48 316.34,205.23 327.99,203.09 339.65,201.06" fill="none" stroke="#ee3030" stroke-width="0.6"/>
<rect x="185.97" y="232.46" width="4.37" height="4.37" fill="#ee3030"/>
<rect x="197.62" y="229.28" width="4.37" height="4.37" fill="#ee3030"/>
<rect x="209.28" y="226.2" width="4.37" height="4.37" fill="#ee3030"/>
<rect x="220.93" y="223.3" width="4.37" height="4.37" fill="#ee3030"/>
<rect x="232.58" y="220.54" width="4.37" height="4.37" fill="#ee3030"/>
<rect x="244.24" y="217.83" width="4.37" height="4.37" fill="#ee3030"/>
<rect x="255.89" y="215.17" width="4.37" height="4.37" fill="#ee3030"/>
<rect x="267.54" y="212.59" width="4.37" height="4.37" fill="#ee3030"/>
<rect x="279.2" y="210.08" width="4.37" height="4.37" fill="#ee3030"/>
<rect x="290.85" y="207.64" width="4.37" height="4.37" fill="#ee3030"/>
<rect x="302.5" y="205.3" width="4.37" height="4.37" fill="#ee3030"/>
<rect x="314.16" y="203.05" width="4.37" height="4.37" fill="#ee3030"/>
<rect x="325.81" y="200.91" width="4.37" height="4.37" fill="#ee3030"/>
<rect x="337.46" y="198.87" width="4.37" height="4.37" fill="#ee3030"/>
<polyline points="176.5,233.56 188.15,230.16 199.81,226.88 211.46,223.73 223.11,220.78 234.77,218 246.42,215.3 258.07,212.68 269.73,210.14 281.38,207.69 293.03,205.33 304.69,203.08 316.34,200.93 327.99,198.9 339.65,196.99" fill="none" stroke="#5cc43a" stroke-width="0.6"/>
<polygon points="188.15,226.81 190.96,232.03 185.35,232.03" fill="#5cc43a"/>
<polygon points="199.81,223.53 202.61,228.76 197,228.76" fill="#5cc43a"/>
<polygon points="211.46,220.38 214.27,225.6 208.65,225.6" fill="#5cc43a"/>
<polygon points="223.11,217.43 225.92,222.65 220.31,222.65" fill="#5cc43a"/>
<polygon points="234.77,214.65 237.57,219.88 231.96,219.88" fill="#5cc43a"/>
<polygon points="246.42,211.95 249.23,217.17 243.61,217.17" fill="#5cc43a"/>
<polygon points="258.07,209.32 260.88,214.55 255.27,214.55" fill="#5cc43a"/>
<polygon points="269.73,206.78 272.53,212.01 266.92,212.01" fill="#5cc43a"/>
<polygon points="281.38,204.33 284.19,209.56 278.57,209.56" fill="#5cc43a"/>
<polygon points="293.03,201.98 295.84,207.2 290.23,207.2" fill="#5cc43a"/>
<polygon points="304.69,199.72 307.49,204.95 301.88,204.95" fill="#5cc43a"/>
<polygon points="316.34,197.58 319.15,202.81 313.53,202.81" fill="#5cc43a"/>
<polygon points="327.99,195.55 330.8,200.77 325.19,200.77" fill="#5cc43a"/>
<polygon points="339.65,193.63 342.45,198.86 336.84,198.86" fill="#5cc43a"/>
<polyline points="176.5,224.67 188.15,221 199.81,217.41 211.46,213.89 223.11,210.53 234.77,207.29 246.42,204.08 258.07,200.92 269.73,197.8 281.38,194.75 293.03,191.76 304.69,188.85 316.34,186.04 327.99,183.32 339.65,180.7" fill="none" stroke="#a58cb8" stroke-width="0.6"/>
<path d="M186.59 219.44L189.71 222.56M186.59 222.56L189.71 219.44" stroke="#a58cb8" stroke-width="0.62" fill="none"/>
<path d="M198.25 215.85L201.37 218.97M198.25 218.97L201.37 215.85" stroke="#a58cb8" stroke-width="0.62" fill="none"/>
<path d="M209.9 212.33L213.02 215.45M209.9 215.45L213.02 212.33" stroke="#a58cb8" stroke-width="0.62" fill="none"/>
<path d="M221.55 208.97L224.67 212.09M221.55 212.09L224.67 208.97" stroke="#a58cb8" stroke-width="0.62" fill="none"/>
<path d="M233.21 205.73L236.33 208.85M233.21 208.85L236.33 205.73" stroke="#a58cb8" stroke-width="0.62" fill="none"/>
<path d="M244.86 202.52L247.98 205.64M244.86 205.64L247.98 202.52" stroke="#a58cb8" stroke-width="0.62" fill="none"/>
<path d="M256.51 199.36L259.63 202.48M256.51 202.48L259.63 199.36" stroke="#a58cb8" stroke-width="0.62" fill="none"/>
<path d="M268.17 196.24L271.29 199.36M268.17 199.36L271.29 196.24" stroke="#a58cb8" stroke-width="0.62" fill="none"/>
<path d="M279.82 193.19L282.94 196.31M279.82 196.31L282.94 193.19" stroke="#a58cb8" stroke-width="0.62" fill="none"/>
<path d="M291.47 190.2L294.59 193.32M291.47 193.32L294.59 190.2" stroke="#a58cb8" stroke-width="0.62" fill="none"/>
<path d="M303.13 187.29L306.25 190.41M303.13 190.41L306.25 187.29" stroke="#a58cb8" stroke-width="0.62" fill="none"/>
<path d="M314.78 184.48L317.9 187.6M314.78 187.6L317.9 184.48" stroke="#a58cb8" stroke-width="0.62" fill="none"/>
<path d="M326.43 181.76L329.55 184.88M326.43 184.88L329.55 181.76" stroke="#a58cb8" stroke-width="0.62" fill="none"/>
<path d="M338.09 179.14L341.21 182.26M338.09 182.26L341.21 179.14" stroke="#a58cb8" stroke-width="0.62" fill="none"/>
<polyline points="176.5,217.72 188.15,214.08 199.81,210.54 211.46,207.09 223.11,203.82 234.77,200.69 246.42,197.61 258.07,194.58 269.73,191.62 281.38,188.73 293.03,185.92 304.69,183.19 316.34,180.56 327.99,178.03 339.65,175.61" fill="none" stroke="#72cfd6" stroke-width="0.6"/>
<path d="M188.15 212.13L188.15 216.03M186.2 214.08L190.1 214.08M186.77 212.7L189.53 215.46M186.77 215.46L189.53 212.7" stroke="#72cfd6" stroke-width="0.39" fill="none"/>
<path d="M199.81 208.59L199.81 212.49M197.86 210.54L201.76 210.54M198.43 209.16L201.19 211.92M198.43 211.92L201.19 209.16" stroke="#72cfd6" stroke-width="0.39" fill="none"/>
<path d="M211.46 205.14L211.46 209.04M209.51 207.09L213.41 207.09M210.08 205.71L212.84 208.47M210.08 208.47L212.84 205.71" stroke="#72cfd6" stroke-width="0.39" fill="none"/>
<path d="M223.11 201.87L223.11 205.77M221.16 203.82L225.06 203.82M221.73 202.44L224.49 205.2M221.73 205.2L224.49 202.44" stroke="#72cfd6" stroke-width="0.39" fill="none"/>
<path d="M234.77 198.74L234.77 202.64M232.82 200.69L236.72 200.69M233.39 199.31L236.15 202.07M233.39 202.07L236.15 199.31" stroke="#72cfd6" stroke-width="0.39" fill="none"/>
<path d="M246.42 195.66L246.42 199.56M244.47 197.61L248.37 197.61M245.04 196.23L247.8 198.99M245.04 198.99L247.8 196.23" stroke="#72cfd6" stroke-width="0.39" fill="none"/>
<path d="M258.07 192.63L258.07 196.53M256.12 194.58L260.02 194.58M256.69 193.21L259.45 195.96M256.69 195.96L259.45 193.21" stroke="#72cfd6" stroke-width="0.39" fill="none"/>
<path d="M269.73 189.67L269.73 193.57M267.78 191.62L271.68 191.62M268.35 190.24L271.11 193M268.35 193L271.11 190.24" stroke="#72cfd6" stroke-width="0.39" fill="none"/>
<path d="M281.38 186.78L281.38 190.68M279.43 188.73L283.33 188.73M280 187.35L282.76 190.11M280 190.11L282.76 187.35" stroke="#72cfd6" stroke-width="0.39" fill="none"/>
<path d="M293.03 183.97L293.03 187.87M291.08 185.92L294.98 185.92M291.65 184.54L294.41 187.3M291.65 187.3L294.41 184.54" stroke="#72cfd6" stroke-width="0.39" fill="none"/>
<path d="M304.69 181.24L304.69 185.14M302.74 183.19L306.64 183.19M303.31 181.81L306.07 184.57M303.31 184.57L306.07 181.81" stroke="#72cfd6" stroke-width="0.39" fill="none"/>
<path d="M316.34 178.61L316.34 182.51M314.39 180.56L318.29 180.56M314.96 179.18L317.72 181.94M314.96 181.94L317.72 179.18" stroke="#72cfd6" stroke-width="0.39" fill="none"/>
<path d="M327.99 176.08L327.99 179.98M326.04 178.03L329.94 178.03M326.61 176.65L329.37 179.41M326.61 179.41L329.37 176.65" stroke="#72cfd6" stroke-width="0.39" fill="none"/>
<path d="M339.65 173.66L339.65 177.56M337.7 175.61L341.6 175.61M338.27 174.24L341.03 176.99M338.27 176.99L341.03 174.24" stroke="#72cfd6" stroke-width="0.39" fill="none"/>
<polyline points="176.5,193.41 188.15,189.86 199.81,186.41 211.46,183.06 223.11,179.89 234.77,176.88 246.42,173.92 258.07,171.03 269.73,168.21 281.38,165.48 293.03,162.82 304.69,160.26 316.34,157.81 327.99,155.46 339.65,153.22" fill="none" stroke="#f8f000" stroke-width="0.6"/>
<circle cx="188.15" cy="189.86" r="2.38" fill="#f8f000"/>
<circle cx="199.81" cy="186.41" r="2.38" fill="#f8f000"/>
<circle cx="211.46" cy="183.06" r="2.38" fill="#f8f000"/>
<circle cx="223.11" cy="179.89" r="2.38" fill="#f8f000"/>
<circle cx="234.77" cy="176.88" r="2.38" fill="#f8f000"/>
<circle cx="246.42" cy="173.92" r="2.38" fill="#f8f000"/>
<circle cx="258.07" cy="171.03" r="2.38" fill="#f8f000"/>
<circle cx="269.73" cy="168.21" r="2.38" fill="#f8f000"/>
<circle cx="281.38" cy="165.48" r="2.38" fill="#f8f000"/>
<circle cx="293.03" cy="162.82" r="2.38" fill="#f8f000"/>
<circle cx="304.69" cy="160.26" r="2.38" fill="#f8f000"/>
<circle cx="316.34" cy="157.81" r="2.38" fill="#f8f000"/>
<circle cx="327.99" cy="155.46" r="2.38" fill="#f8f000"/>
<circle cx="339.65" cy="153.22" r="2.38" fill="#f8f000"/>
<polyline points="176.5,247.22 188.15,244.41 199.81,241.67 211.46,239 223.11,236.5 234.77,234.13 246.42,231.8 258.07,229.51 269.73,227.27 281.38,225.09 293.03,222.97 304.69,220.92 316.34,218.96 327.99,217.08 339.65,215.3" fill="none" stroke="#8c8c8c" stroke-width="0.6"/>
<polygon points="185.35,242.54 190.96,242.54 188.15,247.76" fill="#8c8c8c"/>
<polygon points="197,239.79 202.61,239.79 199.81,245.02" fill="#8c8c8c"/>
<polygon points="208.65,237.13 214.27,237.13 211.46,242.35" fill="#8c8c8c"/>
<polygon points="220.31,234.63 225.92,234.63 223.11,239.86" fill="#8c8c8c"/>
<polygon points="231.96,232.26 237.57,232.26 234.77,237.49" fill="#8c8c8c"/>
<polygon points="243.61,229.93 249.23,229.93 246.42,235.15" fill="#8c8c8c"/>
<polygon points="255.27,227.64 260.88,227.64 258.07,232.86" fill="#8c8c8c"/>
<polygon points="266.92,225.4 272.53,225.4 269.73,230.62" fill="#8c8c8c"/>
<polygon points="278.57,223.21 284.19,223.21 281.38,228.44" fill="#8c8c8c"/>
<polygon points="290.23,221.1 295.84,221.1 293.03,226.32" fill="#8c8c8c"/>
<polygon points="301.88,219.05 307.49,219.05 304.69,224.28" fill="#8c8c8c"/>
<polygon points="313.53,217.09 319.15,217.09 316.34,222.31" fill="#8c8c8c"/>
<polygon points="325.19,215.21 330.8,215.21 327.99,220.44" fill="#8c8c8c"/>
<polygon points="336.84,213.43 342.45,213.43 339.65,218.66" fill="#8c8c8c"/>
<polyline points="176.5,189.82 188.15,185.89 199.81,182.04 211.46,178.28 223.11,174.69 234.77,171.23 246.42,167.82 258.07,164.46 269.73,161.16 281.38,157.93 293.03,154.77 304.69,151.7 316.34,148.71 327.99,145.83 339.65,143.05" fill="none" stroke="#86f08c" stroke-width="0.6"/>
<polygon points="184.88,185.89 189.95,183.55 189.95,188.23" fill="#86f08c"/>
<polygon points="196.53,182.04 201.6,179.7 201.6,184.38" fill="#86f08c"/>
<polygon points="208.18,178.28 213.25,175.94 213.25,180.62" fill="#86f08c"/>
<polygon points="219.84,174.69 224.91,172.35 224.91,177.03" fill="#86f08c"/>
<polygon points="231.49,171.23 236.56,168.89 236.56,173.57" fill="#86f08c"/>
<polygon points="243.14,167.82 248.21,165.48 248.21,170.16" fill="#86f08c"/>
<polygon points="254.8,164.46 259.87,162.12 259.87,166.8" fill="#86f08c"/>
<polygon points="266.45,161.16 271.52,158.82 271.52,163.5" fill="#86f08c"/>
<polygon points="278.1,157.93 283.17,155.59 283.17,160.27" fill="#86f08c"/>
<polygon points="289.76,154.77 294.83,152.43 294.83,157.11" fill="#86f08c"/>
<polygon points="301.41,151.7 306.48,149.36 306.48,154.04" fill="#86f08c"/>
<polygon points="313.06,148.71 318.13,146.37 318.13,151.05" fill="#86f08c"/>
<polygon points="324.72,145.83 329.79,143.49 329.79,148.17" fill="#86f08c"/>
<polygon points="336.37,143.05 341.44,140.71 341.44,145.39" fill="#86f08c"/>
<polyline points="176.5,229.35 188.15,225.99 199.81,222.7 211.46,219.5 223.11,216.46 234.77,213.56 246.42,210.69 258.07,207.86 269.73,205.08 281.38,202.36 293.03,199.71 304.69,197.12 316.34,194.62 327.99,192.19 339.65,189.86" fill="none" stroke="#f08ccc" stroke-width="0.6"/>
<polygon points="188.15,223.73 188.84,225.36 190.6,225.51 189.27,226.66 189.67,228.38 188.15,227.47 186.64,228.38 187.04,226.66 185.71,225.51 187.47,225.36" fill="#f08ccc"/>
<polygon points="199.81,220.44 200.49,222.07 202.25,222.22 200.92,223.38 201.32,225.1 199.81,224.19 198.29,225.1 198.69,223.38 197.36,222.22 199.12,222.07" fill="#f08ccc"/>
<polygon points="211.46,217.24 212.15,218.86 213.91,219.02 212.57,220.17 212.97,221.89 211.46,220.98 209.95,221.89 210.35,220.17 209.01,219.02 210.77,218.86" fill="#f08ccc"/>
<polygon points="223.11,214.2 223.8,215.83 225.56,215.98 224.23,217.14 224.63,218.86 223.11,217.95 221.6,218.86 222,217.14 220.67,215.98 222.43,215.83" fill="#f08ccc"/>
<polygon points="234.77,211.29 235.45,212.92 237.21,213.07 235.88,214.23 236.28,215.95 234.77,215.04 233.25,215.95 233.65,214.23 232.32,213.07 234.08,212.92" fill="#f08ccc"/>
<polygon points="246.42,208.42 247.11,210.05 248.87,210.2 247.53,211.36 247.93,213.08 246.42,212.17 244.91,213.08 245.31,211.36 243.97,210.2 245.73,210.05" fill="#f08ccc"/>
<polygon points="258.07,205.6 258.76,207.22 260.52,207.38 259.19,208.53 259.59,210.25 258.07,209.34 256.56,210.25 256.96,208.53 255.63,207.38 257.39,207.22" fill="#f08ccc"/>
<polygon points="269.73,202.82 270.41,204.45 272.17,204.6 270.84,205.76 271.24,207.48 269.73,206.56 268.21,207.48 268.61,205.76 267.28,204.6 269.04,204.45" fill="#f08ccc"/>
<polygon points="281.38,200.1 282.07,201.73 283.83,201.88 282.49,203.04 282.89,204.76 281.38,203.84 279.87,204.76 280.27,203.04 278.93,201.88 280.69,201.73" fill="#f08ccc"/>
<polygon points="293.03,197.45 293.72,199.07 295.48,199.22 294.15,200.38 294.55,202.1 293.03,201.19 291.52,202.1 291.92,200.38 290.59,199.22 292.35,199.07" fill="#f08ccc"/>
<polygon points="304.69,194.86 305.37,196.49 307.13,196.64 305.8,197.8 306.2,199.52 304.69,198.6 303.17,199.52 303.57,197.8 302.24,196.64 304,196.49" fill="#f08ccc"/>
<polygon points="316.34,192.35 317.03,193.98 318.79,194.13 317.45,195.29 317.85,197.01 316.34,196.1 314.83,197.01 315.23,195.29 313.89,194.13 315.65,193.98" fill="#f08ccc"/>
<polygon points="327.99,189.93 328.68,191.56 330.44,191.71 329.11,192.87 329.51,194.59 327.99,193.67 326.48,194.59 326.88,192.87 325.55,191.71 327.31,191.56" fill="#f08ccc"/>
<polygon points="339.65,187.6 340.33,189.23 342.09,189.38 340.76,190.54 341.16,192.26 339.65,191.34 338.13,192.26 338.53,190.54 337.2,189.38 338.96,189.23" fill="#f08ccc"/>
<polyline points="176.5,227.18 188.15,223.55 199.81,220 211.46,216.55 223.11,213.27 234.77,210.12 246.42,207.03 258.07,203.98 269.73,200.99 281.38,198.07 293.03,195.23 304.69,192.47 316.34,189.8 327.99,187.24 339.65,184.77" fill="none" stroke="#6c2731" stroke-width="0.6"/>
<polygon points="188.15,220.9 188.93,222.2 190.45,222.22 189.71,223.55 190.45,224.87 188.93,224.9 188.15,226.2 187.37,224.9 185.86,224.87 186.59,223.55 185.86,222.22 187.37,222.2" fill="#6c2731"/>
<polygon points="199.81,217.35 200.59,218.65 202.1,218.68 201.37,220 202.1,221.33 200.59,221.36 199.81,222.66 199.03,221.36 197.51,221.33 198.25,220 197.51,218.68 199.03,218.65" fill="#6c2731"/>
<polygon points="211.46,213.9 212.24,215.2 213.76,215.22 213.02,216.55 213.76,217.87 212.24,217.9 211.46,219.2 210.68,217.9 209.16,217.87 209.9,216.55 209.16,215.22 210.68,215.2" fill="#6c2731"/>
<polygon points="223.11,210.62 223.89,211.92 225.41,211.94 224.67,213.27 225.41,214.59 223.89,214.62 223.11,215.92 222.33,214.62 220.82,214.59 221.55,213.27 220.82,211.94 222.33,211.92" fill="#6c2731"/>
<polygon points="234.77,207.47 235.55,208.77 237.06,208.8 236.33,210.12 237.06,211.45 235.55,211.48 234.77,212.78 233.99,211.48 232.47,211.45 233.21,210.12 232.47,208.8 233.99,208.77" fill="#6c2731"/>
<polygon points="246.42,204.37 247.2,205.67 248.72,205.7 247.98,207.03 248.72,208.35 247.2,208.38 246.42,209.68 245.64,208.38 244.12,208.35 244.86,207.03 244.12,205.7 245.64,205.67" fill="#6c2731"/>
<polygon points="258.07,201.33 258.85,202.63 260.37,202.65 259.63,203.98 260.37,205.3 258.85,205.33 258.07,206.63 257.29,205.33 255.78,205.3 256.51,203.98 255.78,202.65 257.29,202.63" fill="#6c2731"/>
<polygon points="269.73,198.34 270.51,199.64 272.02,199.67 271.29,200.99 272.02,202.32 270.51,202.34 269.73,203.64 268.95,202.34 267.43,202.32 268.17,200.99 267.43,199.67 268.95,199.64" fill="#6c2731"/>
<polygon points="281.38,195.42 282.16,196.72 283.68,196.75 282.94,198.07 283.68,199.4 282.16,199.42 281.38,200.73 280.6,199.42 279.08,199.4 279.82,198.07 279.08,196.75 280.6,196.72" fill="#6c2731"/>
<polygon points="293.03,192.58 293.81,193.88 295.33,193.9 294.59,195.23 295.33,196.56 293.81,196.58 293.03,197.88 292.25,196.58 290.74,196.56 291.47,195.23 290.74,193.9 292.25,193.88" fill="#6c2731"/>
<polygon points="304.69,189.82 305.47,191.12 306.98,191.15 306.25,192.47 306.98,193.8 305.47,193.82 304.69,195.12 303.91,193.82 302.39,193.8 303.13,192.47 302.39,191.15 303.91,191.12" fill="#6c2731"/>
<polygon points="316.34,187.15 317.12,188.45 318.64,188.48 317.9,189.8 318.64,191.13 317.12,191.15 316.34,192.46 315.56,191.15 314.04,191.13 314.78,189.8 314.04,188.48 315.56,188.45" fill="#6c2731"/>
<polygon points="327.99,184.58 328.77,185.88 330.29,185.91 329.55,187.24 330.29,188.56 328.77,188.59 327.99,189.89 327.21,188.59 325.7,188.56 326.43,187.24 325.7,185.91 327.21,185.88" fill="#6c2731"/>
<polygon points="339.65,182.12 340.43,183.42 341.94,183.45 341.21,184.77 341.94,186.1 340.43,186.12 339.65,187.43 338.87,186.12 337.35,186.1 338.09,184.77 337.35,183.45 338.87,183.42" fill="#6c2731"/>
</g>
<rect x="176.5" y="128.8" width="174.8" height="132.3" fill="none" stroke="#4a4a4a" stroke-width="0.8"/>
<text transform="translate(176.5 269.6) scale(0.93 1)" font-size="7.9" text-anchor="middle" fill="#2a2a2a">44</text>
<text transform="translate(199.81 269.6) scale(0.93 1)" font-size="7.9" text-anchor="middle" fill="#2a2a2a">46</text>
<text transform="translate(223.11 269.6) scale(0.93 1)" font-size="7.9" text-anchor="middle" fill="#2a2a2a">48</text>
<text transform="translate(246.42 269.6) scale(0.93 1)" font-size="7.9" text-anchor="middle" fill="#2a2a2a">50</text>
<text transform="translate(269.73 269.6) scale(0.93 1)" font-size="7.9" text-anchor="middle" fill="#2a2a2a">52</text>
<text transform="translate(293.03 269.6) scale(0.93 1)" font-size="7.9" text-anchor="middle" fill="#2a2a2a">54</text>
<text transform="translate(316.34 269.6) scale(0.93 1)" font-size="7.9" text-anchor="middle" fill="#2a2a2a">56</text>
<text transform="translate(339.65 269.6) scale(0.93 1)" font-size="7.9" text-anchor="middle" fill="#2a2a2a">58</text>
<text transform="translate(172.8 262.7) scale(0.93 1)" font-size="7.9" text-anchor="end" fill="#2a2a2a">7.2</text>
<text transform="translate(172.8 242.35) scale(0.93 1)" font-size="7.9" text-anchor="end" fill="#2a2a2a">7.4</text>
<text transform="translate(172.8 221.99) scale(0.93 1)" font-size="7.9" text-anchor="end" fill="#2a2a2a">7.6</text>
<text transform="translate(172.8 201.64) scale(0.93 1)" font-size="7.9" text-anchor="end" fill="#2a2a2a">7.8</text>
<text transform="translate(172.8 181.28) scale(0.93 1)" font-size="7.9" text-anchor="end" fill="#2a2a2a">8</text>
<text transform="translate(172.8 160.93) scale(0.93 1)" font-size="7.9" text-anchor="end" fill="#2a2a2a">8.2</text>
<text transform="translate(172.8 140.58) scale(0.93 1)" font-size="7.9" text-anchor="end" fill="#2a2a2a">8.4</text>
<path d="M368.3 31.8L351.3 128.8M368.3 82.4L351.90000000000003 261.1" stroke="#333" stroke-width="0.6" stroke-dasharray="1 0.8" fill="none"/>
<text transform="translate(0.7 11.3) scale(0.9 1)" font-size="13.2" fill="#111" stroke="#111" stroke-width="0.3">A</text>
<text x="131.6" y="314.3" font-size="9.4" textLength="125.2" lengthAdjust="spacingAndGlyphs" fill="#2a2a2a">Sample size (in chromosomes)</text>
<text transform="translate(12.6 156.7) rotate(-90)" font-size="9.3" text-anchor="middle" textLength="127.2" lengthAdjust="spacingAndGlyphs" fill="#2a2a2a">Mean number of distinct alleles</text>
<polyline points="444.96,169.01 450.74,178.92 456.53,192.22 462.31,199.54 468.09,205.88 473.87,209.21 479.65,210.84 485.43,210.6 491.22,210.42 497,210.11 502.78,209.75 508.56,209.21 514.34,208.42 520.12,206.9 525.91,204.98 531.69,203.13 537.47,201.35 543.25,199.81 549.03,198.33 554.81,196.73 560.6,195.07 566.38,193.5 572.16,192.16 577.94,191.08 583.72,190.13 589.5,189.25 595.29,188.35 601.07,187.4 606.85,186.42 612.63,185.44 618.41,184.49 624.19,183.58 629.98,182.74 635.76,182.01 641.54,181.32 647.32,180.65 653.1,179.99 658.88,179.35 664.67,178.76 670.45,178.21 676.23,177.71 682.01,177.29 687.79,176.94 693.57,176.69 699.36,176.48 705.14,176.28 710.92,176.1 716.7,175.92 722.48,175.75 728.26,175.6 734.05,175.47 739.83,175.35 745.61,175.25 751.39,175.17 757.17,175.11 762.95,175.07 768.74,175.06" fill="none" stroke="#5f7ea8" stroke-width="0.7"/>
<polygon points="444.96,164.76 448.11,169.01 444.96,173.26 441.81,169.01" fill="#2f5e9c"/>
<polygon points="450.74,174.67 453.89,178.92 450.74,183.17 447.59,178.92" fill="#2f5e9c"/>
<polygon points="456.53,187.97 459.68,192.22 456.53,196.47 453.38,192.22" fill="#2f5e9c"/>
<polygon points="462.31,195.29 465.46,199.54 462.31,203.79 459.16,199.54" fill="#2f5e9c"/>
<polygon points="468.09,201.63 471.24,205.88 468.09,210.13 464.94,205.88" fill="#2f5e9c"/>
<polygon points="473.87,204.96 477.02,209.21 473.87,213.46 470.72,209.21" fill="#2f5e9c"/>
<polygon points="479.65,206.59 482.8,210.84 479.65,215.09 476.5,210.84" fill="#2f5e9c"/>
<polygon points="485.43,206.35 488.58,210.6 485.43,214.85 482.28,210.6" fill="#2f5e9c"/>
<polygon points="491.22,206.17 494.37,210.42 491.22,214.67 488.07,210.42" fill="#2f5e9c"/>
<polygon points="497,205.86 500.15,210.11 497,214.36 493.85,210.11" fill="#2f5e9c"/>
<polygon points="502.78,205.5 505.93,209.75 502.78,214 499.63,209.75" fill="#2f5e9c"/>
<polygon points="508.56,204.96 511.71,209.21 508.56,213.46 505.41,209.21" fill="#2f5e9c"/>
<polygon points="514.34,204.17 517.49,208.42 514.34,212.67 511.19,208.42" fill="#2f5e9c"/>
<polygon points="520.12,202.65 523.27,206.9 520.12,211.15 516.98,206.9" fill="#2f5e9c"/>
<polygon points="525.91,200.73 529.06,204.98 525.91,209.23 522.76,204.98" fill="#2f5e9c"/>
<polygon points="531.69,198.88 534.84,203.13 531.69,207.38 528.54,203.13" fill="#2f5e9c"/>
<polygon points="537.47,197.1 540.62,201.35 537.47,205.6 534.32,201.35" fill="#2f5e9c"/>
<polygon points="543.25,195.56 546.4,199.81 543.25,204.06 540.1,199.81" fill="#2f5e9c"/>
<polygon points="549.03,194.08 552.18,198.33 549.03,202.58 545.88,198.33" fill="#2f5e9c"/>
<polygon points="554.81,192.48 557.96,196.73 554.81,200.98 551.66,196.73" fill="#2f5e9c"/>
<polygon points="560.6,190.82 563.75,195.07 560.6,199.32 557.45,195.07" fill="#2f5e9c"/>
<polygon points="566.38,189.25 569.53,193.5 566.38,197.75 563.23,193.5" fill="#2f5e9c"/>
<polygon points="572.16,187.91 575.31,192.16 572.16,196.41 569.01,192.16" fill="#2f5e9c"/>
<polygon points="577.94,186.83 581.09,191.08 577.94,195.33 574.79,191.08" fill="#2f5e9c"/>
<polygon points="583.72,185.88 586.87,190.13 583.72,194.38 580.57,190.13" fill="#2f5e9c"/>
<polygon points="589.5,185 592.65,189.25 589.5,193.5 586.36,189.25" fill="#2f5e9c"/>
<polygon points="595.29,184.1 598.44,188.35 595.29,192.6 592.14,188.35" fill="#2f5e9c"/>
<polygon points="601.07,183.15 604.22,187.4 601.07,191.65 597.92,187.4" fill="#2f5e9c"/>
<polygon points="606.85,182.17 610,186.42 606.85,190.67 603.7,186.42" fill="#2f5e9c"/>
<polygon points="612.63,181.19 615.78,185.44 612.63,189.69 609.48,185.44" fill="#2f5e9c"/>
<polygon points="618.41,180.24 621.56,184.49 618.41,188.74 615.26,184.49" fill="#2f5e9c"/>
<polygon points="624.19,179.33 627.34,183.58 624.19,187.83 621.04,183.58" fill="#2f5e9c"/>
<polygon points="629.98,178.49 633.13,182.74 629.98,186.99 626.83,182.74" fill="#2f5e9c"/>
<polygon points="635.76,177.76 638.91,182.01 635.76,186.26 632.61,182.01" fill="#2f5e9c"/>
<polygon points="641.54,177.07 644.69,181.32 641.54,185.57 638.39,181.32" fill="#2f5e9c"/>
<polygon points="647.32,176.4 650.47,180.65 647.32,184.9 644.17,180.65" fill="#2f5e9c"/>
<polygon points="653.1,175.74 656.25,179.99 653.1,184.24 649.95,179.99" fill="#2f5e9c"/>
<polygon points="658.88,175.1 662.03,179.35 658.88,183.6 655.74,179.35" fill="#2f5e9c"/>
<polygon points="664.67,174.51 667.82,178.76 664.67,183.01 661.52,178.76" fill="#2f5e9c"/>
<polygon points="670.45,173.96 673.6,178.21 670.45,182.46 667.3,178.21" fill="#2f5e9c"/>
<polygon points="676.23,173.46 679.38,177.71 676.23,181.96 673.08,177.71" fill="#2f5e9c"/>
<polygon points="682.01,173.04 685.16,177.29 682.01,181.54 678.86,177.29" fill="#2f5e9c"/>
<polygon points="687.79,172.69 690.94,176.94 687.79,181.19 684.64,176.94" fill="#2f5e9c"/>
<polygon points="693.57,172.44 696.72,176.69 693.57,180.94 690.42,176.69" fill="#2f5e9c"/>
<polygon points="699.36,172.23 702.51,176.48 699.36,180.73 696.21,176.48" fill="#2f5e9c"/>
<polygon points="705.14,172.03 708.29,176.28 705.14,180.53 701.99,176.28" fill="#2f5e9c"/>
<polygon points="710.92,171.85 714.07,176.1 710.92,180.35 707.77,176.1" fill="#2f5e9c"/>
<polygon points="716.7,171.67 719.85,175.92 716.7,180.17 713.55,175.92" fill="#2f5e9c"/>
<polygon points="722.48,171.5 725.63,175.75 722.48,180 719.33,175.75" fill="#2f5e9c"/>
<polygon points="728.26,171.35 731.41,175.6 728.26,179.85 725.11,175.6" fill="#2f5e9c"/>
<polygon points="734.05,171.22 737.2,175.47 734.05,179.72 730.9,175.47" fill="#2f5e9c"/>
<polygon points="739.83,171.1 742.98,175.35 739.83,179.6 736.68,175.35" fill="#2f5e9c"/>
<polygon points="745.61,171 748.76,175.25 745.61,179.5 742.46,175.25" fill="#2f5e9c"/>
<polygon points="751.39,170.92 754.54,175.17 751.39,179.42 748.24,175.17" fill="#2f5e9c"/>
<polygon points="757.17,170.86 760.32,175.11 757.17,179.36 754.02,175.11" fill="#2f5e9c"/>
<polygon points="762.95,170.82 766.1,175.07 762.95,179.32 759.8,175.07" fill="#2f5e9c"/>
<polygon points="768.74,170.81 771.89,175.06 768.74,179.31 765.59,175.06" fill="#2f5e9c"/>
<polyline points="444.96,171.43 450.74,188.35 456.53,200.44 462.31,208.3 468.09,214.34 473.87,217.97 479.65,219.42 485.43,220.39 491.22,221.6 497,222.5 502.78,223.29 508.56,223.13 514.34,222.81 520.12,222.41 525.91,221.9 531.69,221.3 537.47,220.6 543.25,219.87 549.03,219.18 554.81,218.51 560.6,217.81 566.38,217.12 572.16,216.49 577.94,215.95 583.72,215.55 589.5,215.26 595.29,215.02 601.07,214.8 606.85,214.61 612.63,214.44 618.41,214.27 624.19,214.1 629.98,213.93 635.76,213.74 641.54,213.53 647.32,213.32 653.1,213.1 658.88,212.88 664.67,212.66 670.45,212.45 676.23,212.26 682.01,212.08 687.79,211.93 693.57,211.78 699.36,211.63 705.14,211.48 710.92,211.35 716.7,211.24 722.48,211.17 728.26,211.14 734.05,211.14 739.83,211.15 745.61,211.17 751.39,211.21 757.17,211.26 762.95,211.34 768.74,211.44" fill="none" stroke="#f07070" stroke-width="0.7"/>
<rect x="442.16" y="168.63" width="5.6" height="5.6" fill="#ee3030"/>
<rect x="447.94" y="185.55" width="5.6" height="5.6" fill="#ee3030"/>
<rect x="453.73" y="197.64" width="5.6" height="5.6" fill="#ee3030"/>
<rect x="459.51" y="205.5" width="5.6" height="5.6" fill="#ee3030"/>
<rect x="465.29" y="211.54" width="5.6" height="5.6" fill="#ee3030"/>
<rect x="471.07" y="215.17" width="5.6" height="5.6" fill="#ee3030"/>
<rect x="476.85" y="216.62" width="5.6" height="5.6" fill="#ee3030"/>
<rect x="482.63" y="217.59" width="5.6" height="5.6" fill="#ee3030"/>
<rect x="488.42" y="218.8" width="5.6" height="5.6" fill="#ee3030"/>
<rect x="494.2" y="219.7" width="5.6" height="5.6" fill="#ee3030"/>
<rect x="499.98" y="220.49" width="5.6" height="5.6" fill="#ee3030"/>
<rect x="505.76" y="220.33" width="5.6" height="5.6" fill="#ee3030"/>
<rect x="511.54" y="220.01" width="5.6" height="5.6" fill="#ee3030"/>
<rect x="517.33" y="219.61" width="5.6" height="5.6" fill="#ee3030"/>
<rect x="523.11" y="219.1" width="5.6" height="5.6" fill="#ee3030"/>
<rect x="528.89" y="218.5" width="5.6" height="5.6" fill="#ee3030"/>
<rect x="534.67" y="217.8" width="5.6" height="5.6" fill="#ee3030"/>
<rect x="540.45" y="217.07" width="5.6" height="5.6" fill="#ee3030"/>
<rect x="546.23" y="216.38" width="5.6" height="5.6" fill="#ee3030"/>
<rect x="552.01" y="215.71" width="5.6" height="5.6" fill="#ee3030"/>
<rect x="557.8" y="215.01" width="5.6" height="5.6" fill="#ee3030"/>
<rect x="563.58" y="214.32" width="5.6" height="5.6" fill="#ee3030"/>
<rect x="569.36" y="213.69" width="5.6" height="5.6" fill="#ee3030"/>
<rect x="575.14" y="213.15" width="5.6" height="5.6" fill="#ee3030"/>
<rect x="580.92" y="212.75" width="5.6" height="5.6" fill="#ee3030"/>
<rect x="586.71" y="212.46" width="5.6" height="5.6" fill="#ee3030"/>
<rect x="592.49" y="212.22" width="5.6" height="5.6" fill="#ee3030"/>
<rect x="598.27" y="212" width="5.6" height="5.6" fill="#ee3030"/>
<rect x="604.05" y="211.81" width="5.6" height="5.6" fill="#ee3030"/>
<rect x="609.83" y="211.64" width="5.6" height="5.6" fill="#ee3030"/>
<rect x="615.61" y="211.47" width="5.6" height="5.6" fill="#ee3030"/>
<rect x="621.39" y="211.3" width="5.6" height="5.6" fill="#ee3030"/>
<rect x="627.18" y="211.13" width="5.6" height="5.6" fill="#ee3030"/>
<rect x="632.96" y="210.94" width="5.6" height="5.6" fill="#ee3030"/>
<rect x="638.74" y="210.73" width="5.6" height="5.6" fill="#ee3030"/>
<rect x="644.52" y="210.52" width="5.6" height="5.6" fill="#ee3030"/>
<rect x="650.3" y="210.3" width="5.6" height="5.6" fill="#ee3030"/>
<rect x="656.09" y="210.08" width="5.6" height="5.6" fill="#ee3030"/>
<rect x="661.87" y="209.86" width="5.6" height="5.6" fill="#ee3030"/>
<rect x="667.65" y="209.65" width="5.6" height="5.6" fill="#ee3030"/>
<rect x="673.43" y="209.46" width="5.6" height="5.6" fill="#ee3030"/>
<rect x="679.21" y="209.28" width="5.6" height="5.6" fill="#ee3030"/>
<rect x="684.99" y="209.13" width="5.6" height="5.6" fill="#ee3030"/>
<rect x="690.77" y="208.98" width="5.6" height="5.6" fill="#ee3030"/>
<rect x="696.56" y="208.83" width="5.6" height="5.6" fill="#ee3030"/>
<rect x="702.34" y="208.68" width="5.6" height="5.6" fill="#ee3030"/>
<rect x="708.12" y="208.55" width="5.6" height="5.6" fill="#ee3030"/>
<rect x="713.9" y="208.44" width="5.6" height="5.6" fill="#ee3030"/>
<rect x="719.68" y="208.37" width="5.6" height="5.6" fill="#ee3030"/>
<rect x="725.46" y="208.34" width="5.6" height="5.6" fill="#ee3030"/>
<rect x="731.25" y="208.34" width="5.6" height="5.6" fill="#ee3030"/>
<rect x="737.03" y="208.35" width="5.6" height="5.6" fill="#ee3030"/>
<rect x="742.81" y="208.37" width="5.6" height="5.6" fill="#ee3030"/>
<rect x="748.59" y="208.41" width="5.6" height="5.6" fill="#ee3030"/>
<rect x="754.37" y="208.46" width="5.6" height="5.6" fill="#ee3030"/>
<rect x="760.15" y="208.54" width="5.6" height="5.6" fill="#ee3030"/>
<rect x="765.94" y="208.64" width="5.6" height="5.6" fill="#ee3030"/>
<polyline points="444.96,170.22 450.74,184.12 456.53,197.6 462.31,207.09 468.09,213.74 473.87,219.42 479.65,224.02 485.43,227.04 491.22,228.55 497,230.36 502.78,231.99 508.56,233.57 514.34,234.59 520.12,235.38 525.91,235.92 531.69,236.41 537.47,236.86 543.25,237.31 549.03,237.8 554.81,238.36 560.6,238.98 566.38,239.64 572.16,240.34 577.94,241.09 583.72,241.91 589.5,242.75 595.29,243.64 601.07,244.55 606.85,245.47 612.63,246.36 618.41,247.25 624.19,248.19 629.98,249.26 635.76,250.4 641.54,251.52 647.32,252.61 653.1,253.69 658.88,254.74 664.67,255.75 670.45,256.7 676.23,257.61 682.01,258.5 687.79,259.38 693.57,260.25 699.36,261.11 705.14,261.96 710.92,262.81 716.7,263.66 722.48,264.51 728.26,265.38 734.05,266.24 739.83,267.11 745.61,267.98 751.39,268.84 757.17,269.72 762.95,270.59 768.74,271.46" fill="none" stroke="#a8dca0" stroke-width="0.7"/>
<polygon points="444.96,165.92 448.56,172.62 441.36,172.62" fill="#5cc43a"/>
<polygon points="450.74,179.82 454.34,186.52 447.14,186.52" fill="#5cc43a"/>
<polygon points="456.53,193.3 460.13,200 452.93,200" fill="#5cc43a"/>
<polygon points="462.31,202.79 465.91,209.49 458.71,209.49" fill="#5cc43a"/>
<polygon points="468.09,209.44 471.69,216.14 464.49,216.14" fill="#5cc43a"/>
<polygon points="473.87,215.12 477.47,221.82 470.27,221.82" fill="#5cc43a"/>
<polygon points="479.65,219.72 483.25,226.42 476.05,226.42" fill="#5cc43a"/>
<polygon points="485.43,222.74 489.03,229.44 481.83,229.44" fill="#5cc43a"/>
<polygon points="491.22,224.25 494.82,230.95 487.62,230.95" fill="#5cc43a"/>
<polygon points="497,226.06 500.6,232.76 493.4,232.76" fill="#5cc43a"/>
<polygon points="502.78,227.69 506.38,234.39 499.18,234.39" fill="#5cc43a"/>
<polygon points="508.56,229.27 512.16,235.97 504.96,235.97" fill="#5cc43a"/>
<polygon points="514.34,230.29 517.94,236.99 510.74,236.99" fill="#5cc43a"/>
<polygon points="520.12,231.08 523.73,237.78 516.52,237.78" fill="#5cc43a"/>
<polygon points="525.91,231.62 529.51,238.32 522.31,238.32" fill="#5cc43a"/>
<polygon points="531.69,232.11 535.29,238.81 528.09,238.81" fill="#5cc43a"/>
<polygon points="537.47,232.56 541.07,239.26 533.87,239.26" fill="#5cc43a"/>
<polygon points="543.25,233.01 546.85,239.71 539.65,239.71" fill="#5cc43a"/>
<polygon points="549.03,233.5 552.63,240.2 545.43,240.2" fill="#5cc43a"/>
<polygon points="554.81,234.06 558.41,240.76 551.21,240.76" fill="#5cc43a"/>
<polygon points="560.6,234.68 564.2,241.38 557,241.38" fill="#5cc43a"/>
<polygon points="566.38,235.34 569.98,242.04 562.78,242.04" fill="#5cc43a"/>
<polygon points="572.16,236.04 575.76,242.74 568.56,242.74" fill="#5cc43a"/>
<polygon points="577.94,236.79 581.54,243.49 574.34,243.49" fill="#5cc43a"/>
<polygon points="583.72,237.61 587.32,244.31 580.12,244.31" fill="#5cc43a"/>
<polygon points="589.5,238.45 593.11,245.15 585.9,245.15" fill="#5cc43a"/>
<polygon points="595.29,239.34 598.89,246.04 591.69,246.04" fill="#5cc43a"/>
<polygon points="601.07,240.25 604.67,246.95 597.47,246.95" fill="#5cc43a"/>
<polygon points="606.85,241.17 610.45,247.87 603.25,247.87" fill="#5cc43a"/>
<polygon points="612.63,242.06 616.23,248.76 609.03,248.76" fill="#5cc43a"/>
<polygon points="618.41,242.95 622.01,249.65 614.81,249.65" fill="#5cc43a"/>
<polygon points="624.19,243.89 627.79,250.59 620.59,250.59" fill="#5cc43a"/>
<polygon points="629.98,244.96 633.58,251.66 626.38,251.66" fill="#5cc43a"/>
<polygon points="635.76,246.1 639.36,252.8 632.16,252.8" fill="#5cc43a"/>
<polygon points="641.54,247.22 645.14,253.92 637.94,253.92" fill="#5cc43a"/>
<polygon points="647.32,248.31 650.92,255.01 643.72,255.01" fill="#5cc43a"/>
<polygon points="653.1,249.39 656.7,256.09 649.5,256.09" fill="#5cc43a"/>
<polygon points="658.88,250.44 662.49,257.14 655.28,257.14" fill="#5cc43a"/>
<polygon points="664.67,251.45 668.27,258.15 661.07,258.15" fill="#5cc43a"/>
<polygon points="670.45,252.4 674.05,259.1 666.85,259.1" fill="#5cc43a"/>
<polygon points="676.23,253.31 679.83,260.01 672.63,260.01" fill="#5cc43a"/>
<polygon points="682.01,254.2 685.61,260.9 678.41,260.9" fill="#5cc43a"/>
<polygon points="687.79,255.08 691.39,261.78 684.19,261.78" fill="#5cc43a"/>
<polygon points="693.57,255.95 697.17,262.65 689.97,262.65" fill="#5cc43a"/>
<polygon points="699.36,256.81 702.96,263.51 695.76,263.51" fill="#5cc43a"/>
<polygon points="705.14,257.66 708.74,264.36 701.54,264.36" fill="#5cc43a"/>
<polygon points="710.92,258.51 714.52,265.21 707.32,265.21" fill="#5cc43a"/>
<polygon points="716.7,259.36 720.3,266.06 713.1,266.06" fill="#5cc43a"/>
<polygon points="722.48,260.21 726.08,266.91 718.88,266.91" fill="#5cc43a"/>
<polygon points="728.26,261.08 731.86,267.78 724.66,267.78" fill="#5cc43a"/>
<polygon points="734.05,261.94 737.65,268.64 730.45,268.64" fill="#5cc43a"/>
<polygon points="739.83,262.81 743.43,269.51 736.23,269.51" fill="#5cc43a"/>
<polygon points="745.61,263.68 749.21,270.38 742.01,270.38" fill="#5cc43a"/>
<polygon points="751.39,264.54 754.99,271.24 747.79,271.24" fill="#5cc43a"/>
<polygon points="757.17,265.42 760.77,272.12 753.57,272.12" fill="#5cc43a"/>
<polygon points="762.95,266.29 766.55,272.99 759.35,272.99" fill="#5cc43a"/>
<polygon points="768.74,267.16 772.34,273.86 765.14,273.86" fill="#5cc43a"/>
<polyline points="444.96,155.71 450.74,163.81 456.53,170.4 462.31,173.6 468.09,175.9 473.87,177.47 479.65,178.26 485.43,177.11 491.22,175.06 497,173.05 502.78,170.82 508.56,168.43 514.34,165.99 520.12,163.68 525.91,161.46 531.69,159.33 537.47,157.28 543.25,155.27 549.03,153.3 554.81,151.34 560.6,149.41 566.38,147.54 572.16,145.74 577.94,144.02 583.72,142.34 589.5,140.71 595.29,139.12 601.07,137.58 606.85,136.07 612.63,134.58 618.41,133.12 624.19,131.68 629.98,130.28 635.76,128.93 641.54,127.63 647.32,126.4 653.1,125.22 658.88,124.06 664.67,122.96 670.45,121.91 676.23,120.94 682.01,120.05 687.79,119.22 693.57,118.42 699.36,117.66 705.14,116.94 710.92,116.29 716.7,115.71 722.48,115.22 728.26,114.77 734.05,114.34 739.83,113.94 745.61,113.57 751.39,113.25 757.17,112.96 762.95,112.73 768.74,112.56" fill="none" stroke="#a58cb8" stroke-width="0.7"/>
<path d="M442.96 153.71L446.96 157.71M442.96 157.71L446.96 153.71" stroke="#a58cb8" stroke-width="0.8" fill="none"/>
<path d="M448.74 161.81L452.74 165.81M448.74 165.81L452.74 161.81" stroke="#a58cb8" stroke-width="0.8" fill="none"/>
<path d="M454.53 168.4L458.53 172.4M454.53 172.4L458.53 168.4" stroke="#a58cb8" stroke-width="0.8" fill="none"/>
<path d="M460.31 171.6L464.31 175.6M460.31 175.6L464.31 171.6" stroke="#a58cb8" stroke-width="0.8" fill="none"/>
<path d="M466.09 173.9L470.09 177.9M466.09 177.9L470.09 173.9" stroke="#a58cb8" stroke-width="0.8" fill="none"/>
<path d="M471.87 175.47L475.87 179.47M471.87 179.47L475.87 175.47" stroke="#a58cb8" stroke-width="0.8" fill="none"/>
<path d="M477.65 176.26L481.65 180.26M477.65 180.26L481.65 176.26" stroke="#a58cb8" stroke-width="0.8" fill="none"/>
<path d="M483.43 175.11L487.43 179.11M483.43 179.11L487.43 175.11" stroke="#a58cb8" stroke-width="0.8" fill="none"/>
<path d="M489.22 173.06L493.22 177.06M489.22 177.06L493.22 173.06" stroke="#a58cb8" stroke-width="0.8" fill="none"/>
<path d="M495 171.05L499 175.05M495 175.05L499 171.05" stroke="#a58cb8" stroke-width="0.8" fill="none"/>
<path d="M500.78 168.82L504.78 172.82M500.78 172.82L504.78 168.82" stroke="#a58cb8" stroke-width="0.8" fill="none"/>
<path d="M506.56 166.43L510.56 170.43M506.56 170.43L510.56 166.43" stroke="#a58cb8" stroke-width="0.8" fill="none"/>
<path d="M512.34 163.99L516.34 167.99M512.34 167.99L516.34 163.99" stroke="#a58cb8" stroke-width="0.8" fill="none"/>
<path d="M518.12 161.68L522.12 165.68M518.12 165.68L522.12 161.68" stroke="#a58cb8" stroke-width="0.8" fill="none"/>
<path d="M523.91 159.46L527.91 163.46M523.91 163.46L527.91 159.46" stroke="#a58cb8" stroke-width="0.8" fill="none"/>
<path d="M529.69 157.33L533.69 161.33M529.69 161.33L533.69 157.33" stroke="#a58cb8" stroke-width="0.8" fill="none"/>
<path d="M535.47 155.28L539.47 159.28M535.47 159.28L539.47 155.28" stroke="#a58cb8" stroke-width="0.8" fill="none"/>
<path d="M541.25 153.27L545.25 157.27M541.25 157.27L545.25 153.27" stroke="#a58cb8" stroke-width="0.8" fill="none"/>
<path d="M547.03 151.3L551.03 155.3M547.03 155.3L551.03 151.3" stroke="#a58cb8" stroke-width="0.8" fill="none"/>
<path d="M552.81 149.34L556.81 153.34M552.81 153.34L556.81 149.34" stroke="#a58cb8" stroke-width="0.8" fill="none"/>
<path d="M558.6 147.41L562.6 151.41M558.6 151.41L562.6 147.41" stroke="#a58cb8" stroke-width="0.8" fill="none"/>
<path d="M564.38 145.54L568.38 149.54M564.38 149.54L568.38 145.54" stroke="#a58cb8" stroke-width="0.8" fill="none"/>
<path d="M570.16 143.74L574.16 147.74M570.16 147.74L574.16 143.74" stroke="#a58cb8" stroke-width="0.8" fill="none"/>
<path d="M575.94 142.02L579.94 146.02M575.94 146.02L579.94 142.02" stroke="#a58cb8" stroke-width="0.8" fill="none"/>
<path d="M581.72 140.34L585.72 144.34M581.72 144.34L585.72 140.34" stroke="#a58cb8" stroke-width="0.8" fill="none"/>
<path d="M587.5 138.71L591.5 142.71M587.5 142.71L591.5 138.71" stroke="#a58cb8" stroke-width="0.8" fill="none"/>
<path d="M593.29 137.12L597.29 141.12M593.29 141.12L597.29 137.12" stroke="#a58cb8" stroke-width="0.8" fill="none"/>
<path d="M599.07 135.58L603.07 139.58M599.07 139.58L603.07 135.58" stroke="#a58cb8" stroke-width="0.8" fill="none"/>
<path d="M604.85 134.07L608.85 138.07M604.85 138.07L608.85 134.07" stroke="#a58cb8" stroke-width="0.8" fill="none"/>
<path d="M610.63 132.58L614.63 136.58M610.63 136.58L614.63 132.58" stroke="#a58cb8" stroke-width="0.8" fill="none"/>
<path d="M616.41 131.12L620.41 135.12M616.41 135.12L620.41 131.12" stroke="#a58cb8" stroke-width="0.8" fill="none"/>
<path d="M622.19 129.68L626.19 133.68M622.19 133.68L626.19 129.68" stroke="#a58cb8" stroke-width="0.8" fill="none"/>
<path d="M627.98 128.28L631.98 132.28M627.98 132.28L631.98 128.28" stroke="#a58cb8" stroke-width="0.8" fill="none"/>
<path d="M633.76 126.93L637.76 130.93M633.76 130.93L637.76 126.93" stroke="#a58cb8" stroke-width="0.8" fill="none"/>
<path d="M639.54 125.63L643.54 129.63M639.54 129.63L643.54 125.63" stroke="#a58cb8" stroke-width="0.8" fill="none"/>
<path d="M645.32 124.4L649.32 128.4M645.32 128.4L649.32 124.4" stroke="#a58cb8" stroke-width="0.8" fill="none"/>
<path d="M651.1 123.22L655.1 127.22M651.1 127.22L655.1 123.22" stroke="#a58cb8" stroke-width="0.8" fill="none"/>
<path d="M656.88 122.06L660.88 126.06M656.88 126.06L660.88 122.06" stroke="#a58cb8" stroke-width="0.8" fill="none"/>
<path d="M662.67 120.96L666.67 124.96M662.67 124.96L666.67 120.96" stroke="#a58cb8" stroke-width="0.8" fill="none"/>
<path d="M668.45 119.91L672.45 123.91M668.45 123.91L672.45 119.91" stroke="#a58cb8" stroke-width="0.8" fill="none"/>
<path d="M674.23 118.94L678.23 122.94M674.23 122.94L678.23 118.94" stroke="#a58cb8" stroke-width="0.8" fill="none"/>
<path d="M680.01 118.05L684.01 122.05M680.01 122.05L684.01 118.05" stroke="#a58cb8" stroke-width="0.8" fill="none"/>
<path d="M685.79 117.22L689.79 121.22M685.79 121.22L689.79 117.22" stroke="#a58cb8" stroke-width="0.8" fill="none"/>
<path d="M691.57 116.42L695.57 120.42M691.57 120.42L695.57 116.42" stroke="#a58cb8" stroke-width="0.8" fill="none"/>
<path d="M697.36 115.66L701.36 119.66M697.36 119.66L701.36 115.66" stroke="#a58cb8" stroke-width="0.8" fill="none"/>
<path d="M703.14 114.94L707.14 118.94M703.14 118.94L707.14 114.94" stroke="#a58cb8" stroke-width="0.8" fill="none"/>
<path d="M708.92 114.29L712.92 118.29M708.92 118.29L712.92 114.29" stroke="#a58cb8" stroke-width="0.8" fill="none"/>
<path d="M714.7 113.71L718.7 117.71M714.7 117.71L718.7 113.71" stroke="#a58cb8" stroke-width="0.8" fill="none"/>
<path d="M720.48 113.22L724.48 117.22M720.48 117.22L724.48 113.22" stroke="#a58cb8" stroke-width="0.8" fill="none"/>
<path d="M726.26 112.77L730.26 116.77M726.26 116.77L730.26 112.77" stroke="#a58cb8" stroke-width="0.8" fill="none"/>
<path d="M732.05 112.34L736.05 116.34M732.05 116.34L736.05 112.34" stroke="#a58cb8" stroke-width="0.8" fill="none"/>
<path d="M737.83 111.94L741.83 115.94M737.83 115.94L741.83 111.94" stroke="#a58cb8" stroke-width="0.8" fill="none"/>
<path d="M743.61 111.57L747.61 115.57M743.61 115.57L747.61 111.57" stroke="#a58cb8" stroke-width="0.8" fill="none"/>
<path d="M749.39 111.25L753.39 115.25M749.39 115.25L753.39 111.25" stroke="#a58cb8" stroke-width="0.8" fill="none"/>
<path d="M755.17 110.96L759.17 114.96M755.17 114.96L759.17 110.96" stroke="#a58cb8" stroke-width="0.8" fill="none"/>
<path d="M760.95 110.73L764.95 114.73M760.95 114.73L764.95 110.73" stroke="#a58cb8" stroke-width="0.8" fill="none"/>
<path d="M766.74 110.56L770.74 114.56M766.74 114.56L770.74 110.56" stroke="#a58cb8" stroke-width="0.8" fill="none"/>
<polyline points="444.96,165.99 450.74,175.06 456.53,180.5 462.31,183.22 468.09,184.42 473.87,185.94 479.65,188.05 485.43,189.68 491.22,191.07 497,192.3 502.78,193.49 508.56,194.85 514.34,196.21 520.12,197.45 525.91,198.63 531.69,199.79 537.47,200.92 543.25,202.04 549.03,203.16 554.81,204.3 560.6,205.46 566.38,206.62 572.16,207.75 577.94,208.82 583.72,209.81 589.5,210.73 595.29,211.59 601.07,212.4 606.85,213.14 612.63,213.83 618.41,214.49 624.19,215.11 629.98,215.67 635.76,216.16 641.54,216.6 647.32,217.02 653.1,217.4 658.88,217.72 664.67,217.97 670.45,218.18 676.23,218.38 682.01,218.52 687.79,218.58 693.57,218.53 699.36,218.42 705.14,218.26 710.92,218.07 716.7,217.87 722.48,217.67 728.26,217.47 734.05,217.25 739.83,217.01 745.61,216.75 751.39,216.48 757.17,216.18 762.95,215.88 768.74,215.55" fill="none" stroke="#a8e4e8" stroke-width="0.7"/>
<path d="M444.96 163.49L444.96 168.49M442.46 165.99L447.46 165.99M443.2 164.22L446.73 167.76M443.2 167.76L446.73 164.22" stroke="#72cfd6" stroke-width="0.5" fill="none"/>
<path d="M450.74 172.56L450.74 177.56M448.24 175.06L453.24 175.06M448.98 173.29L452.51 176.82M448.98 176.82L452.51 173.29" stroke="#72cfd6" stroke-width="0.5" fill="none"/>
<path d="M456.53 178L456.53 183M454.03 180.5L459.03 180.5M454.76 178.73L458.29 182.26M454.76 182.26L458.29 178.73" stroke="#72cfd6" stroke-width="0.5" fill="none"/>
<path d="M462.31 180.72L462.31 185.72M459.81 183.22L464.81 183.22M460.54 181.45L464.08 184.98M460.54 184.98L464.08 181.45" stroke="#72cfd6" stroke-width="0.5" fill="none"/>
<path d="M468.09 181.92L468.09 186.92M465.59 184.42L470.59 184.42M466.32 182.66L469.86 186.19M466.32 186.19L469.86 182.66" stroke="#72cfd6" stroke-width="0.5" fill="none"/>
<path d="M473.87 183.44L473.87 188.44M471.37 185.94L476.37 185.94M472.1 184.17L475.64 187.7M472.1 187.7L475.64 184.17" stroke="#72cfd6" stroke-width="0.5" fill="none"/>
<path d="M479.65 185.55L479.65 190.55M477.15 188.05L482.15 188.05M477.89 186.28L481.42 189.82M477.89 189.82L481.42 186.28" stroke="#72cfd6" stroke-width="0.5" fill="none"/>
<path d="M485.43 187.18L485.43 192.18M482.93 189.68L487.93 189.68M483.67 187.91L487.2 191.44M483.67 191.44L487.2 187.91" stroke="#72cfd6" stroke-width="0.5" fill="none"/>
<path d="M491.22 188.57L491.22 193.57M488.72 191.07L493.72 191.07M489.45 189.31L492.98 192.84M489.45 192.84L492.98 189.31" stroke="#72cfd6" stroke-width="0.5" fill="none"/>
<path d="M497 189.8L497 194.8M494.5 192.3L499.5 192.3M495.23 190.53L498.77 194.07M495.23 194.07L498.77 190.53" stroke="#72cfd6" stroke-width="0.5" fill="none"/>
<path d="M502.78 190.99L502.78 195.99M500.28 193.49L505.28 193.49M501.01 191.72L504.55 195.26M501.01 195.26L504.55 191.72" stroke="#72cfd6" stroke-width="0.5" fill="none"/>
<path d="M508.56 192.35L508.56 197.35M506.06 194.85L511.06 194.85M506.79 193.08L510.33 196.62M506.79 196.62L510.33 193.08" stroke="#72cfd6" stroke-width="0.5" fill="none"/>
<path d="M514.34 193.71L514.34 198.71M511.84 196.21L516.84 196.21M512.58 194.44L516.11 197.98M512.58 197.98L516.11 194.44" stroke="#72cfd6" stroke-width="0.5" fill="none"/>
<path d="M520.12 194.95L520.12 199.95M517.62 197.45L522.62 197.45M518.36 195.68L521.89 199.21M518.36 199.21L521.89 195.68" stroke="#72cfd6" stroke-width="0.5" fill="none"/>
<path d="M525.91 196.13L525.91 201.13M523.41 198.63L528.41 198.63M524.14 196.86L527.67 200.4M524.14 200.4L527.67 196.86" stroke="#72cfd6" stroke-width="0.5" fill="none"/>
<path d="M531.69 197.29L531.69 202.29M529.19 199.79L534.19 199.79M529.92 198.02L533.46 201.55M529.92 201.55L533.46 198.02" stroke="#72cfd6" stroke-width="0.5" fill="none"/>
<path d="M537.47 198.42L537.47 203.42M534.97 200.92L539.97 200.92M535.7 199.15L539.24 202.69M535.7 202.69L539.24 199.15" stroke="#72cfd6" stroke-width="0.5" fill="none"/>
<path d="M543.25 199.54L543.25 204.54M540.75 202.04L545.75 202.04M541.48 200.28L545.02 203.81M541.48 203.81L545.02 200.28" stroke="#72cfd6" stroke-width="0.5" fill="none"/>
<path d="M549.03 200.66L549.03 205.66M546.53 203.16L551.53 203.16M547.27 201.39L550.8 204.93M547.27 204.93L550.8 201.39" stroke="#72cfd6" stroke-width="0.5" fill="none"/>
<path d="M554.81 201.8L554.81 206.8M552.31 204.3L557.31 204.3M553.05 202.54L556.58 206.07M553.05 206.07L556.58 202.54" stroke="#72cfd6" stroke-width="0.5" fill="none"/>
<path d="M560.6 202.96L560.6 207.96M558.1 205.46L563.1 205.46M558.83 203.7L562.36 207.23M558.83 207.23L562.36 203.7" stroke="#72cfd6" stroke-width="0.5" fill="none"/>
<path d="M566.38 204.12L566.38 209.12M563.88 206.62L568.88 206.62M564.61 204.85L568.15 208.39M564.61 208.39L568.15 204.85" stroke="#72cfd6" stroke-width="0.5" fill="none"/>
<path d="M572.16 205.25L572.16 210.25M569.66 207.75L574.66 207.75M570.39 205.98L573.93 209.52M570.39 209.52L573.93 205.98" stroke="#72cfd6" stroke-width="0.5" fill="none"/>
<path d="M577.94 206.32L577.94 211.32M575.44 208.82L580.44 208.82M576.17 207.05L579.71 210.59M576.17 210.59L579.71 207.05" stroke="#72cfd6" stroke-width="0.5" fill="none"/>
<path d="M583.72 207.31L583.72 212.31M581.22 209.81L586.22 209.81M581.96 208.04L585.49 211.58M581.96 211.58L585.49 208.04" stroke="#72cfd6" stroke-width="0.5" fill="none"/>
<path d="M589.5 208.23L589.5 213.23M587 210.73L592 210.73M587.74 208.96L591.27 212.5M587.74 212.5L591.27 208.96" stroke="#72cfd6" stroke-width="0.5" fill="none"/>
<path d="M595.29 209.09L595.29 214.09M592.79 211.59L597.79 211.59M593.52 209.82L597.05 213.36M593.52 213.36L597.05 209.82" stroke="#72cfd6" stroke-width="0.5" fill="none"/>
<path d="M601.07 209.9L601.07 214.9M598.57 212.4L603.57 212.4M599.3 210.63L602.84 214.16M599.3 214.16L602.84 210.63" stroke="#72cfd6" stroke-width="0.5" fill="none"/>
<path d="M606.85 210.64L606.85 215.64M604.35 213.14L609.35 213.14M605.08 211.37L608.62 214.9M605.08 214.9L608.62 211.37" stroke="#72cfd6" stroke-width="0.5" fill="none"/>
<path d="M612.63 211.33L612.63 216.33M610.13 213.83L615.13 213.83M610.86 212.06L614.4 215.6M610.86 215.6L614.4 212.06" stroke="#72cfd6" stroke-width="0.5" fill="none"/>
<path d="M618.41 211.99L618.41 216.99M615.91 214.49L620.91 214.49M616.65 212.72L620.18 216.26M616.65 216.26L620.18 212.72" stroke="#72cfd6" stroke-width="0.5" fill="none"/>
<path d="M624.19 212.61L624.19 217.61M621.69 215.11L626.69 215.11M622.43 213.34L625.96 216.87M622.43 216.87L625.96 213.34" stroke="#72cfd6" stroke-width="0.5" fill="none"/>
<path d="M629.98 213.17L629.98 218.17M627.48 215.67L632.48 215.67M628.21 213.9L631.74 217.43M628.21 217.43L631.74 213.9" stroke="#72cfd6" stroke-width="0.5" fill="none"/>
<path d="M635.76 213.66L635.76 218.66M633.26 216.16L638.26 216.16M633.99 214.39L637.53 217.93M633.99 217.93L637.53 214.39" stroke="#72cfd6" stroke-width="0.5" fill="none"/>
<path d="M641.54 214.1L641.54 219.1M639.04 216.6L644.04 216.6M639.77 214.84L643.31 218.37M639.77 218.37L643.31 214.84" stroke="#72cfd6" stroke-width="0.5" fill="none"/>
<path d="M647.32 214.52L647.32 219.52M644.82 217.02L649.82 217.02M645.55 215.25L649.09 218.79M645.55 218.79L649.09 215.25" stroke="#72cfd6" stroke-width="0.5" fill="none"/>
<path d="M653.1 214.9L653.1 219.9M650.6 217.4L655.6 217.4M651.34 215.63L654.87 219.17M651.34 219.17L654.87 215.63" stroke="#72cfd6" stroke-width="0.5" fill="none"/>
<path d="M658.88 215.22L658.88 220.22M656.38 217.72L661.38 217.72M657.12 215.95L660.65 219.49M657.12 219.49L660.65 215.95" stroke="#72cfd6" stroke-width="0.5" fill="none"/>
<path d="M664.67 215.47L664.67 220.47M662.17 217.97L667.17 217.97M662.9 216.2L666.43 219.74M662.9 219.74L666.43 216.2" stroke="#72cfd6" stroke-width="0.5" fill="none"/>
<path d="M670.45 215.68L670.45 220.68M667.95 218.18L672.95 218.18M668.68 216.42L672.22 219.95M668.68 219.95L672.22 216.42" stroke="#72cfd6" stroke-width="0.5" fill="none"/>
<path d="M676.23 215.88L676.23 220.88M673.73 218.38L678.73 218.38M674.46 216.61L678 220.15M674.46 220.15L678 216.61" stroke="#72cfd6" stroke-width="0.5" fill="none"/>
<path d="M682.01 216.02L682.01 221.02M679.51 218.52L684.51 218.52M680.24 216.75L683.78 220.29M680.24 220.29L683.78 216.75" stroke="#72cfd6" stroke-width="0.5" fill="none"/>
<path d="M687.79 216.08L687.79 221.08M685.29 218.58L690.29 218.58M686.03 216.81L689.56 220.34M686.03 220.34L689.56 216.81" stroke="#72cfd6" stroke-width="0.5" fill="none"/>
<path d="M693.57 216.03L693.57 221.03M691.07 218.53L696.07 218.53M691.81 216.77L695.34 220.3M691.81 220.3L695.34 216.77" stroke="#72cfd6" stroke-width="0.5" fill="none"/>
<path d="M699.36 215.92L699.36 220.92M696.86 218.42L701.86 218.42M697.59 216.66L701.12 220.19M697.59 220.19L701.12 216.66" stroke="#72cfd6" stroke-width="0.5" fill="none"/>
<path d="M705.14 215.76L705.14 220.76M702.64 218.26L707.64 218.26M703.37 216.5L706.91 220.03M703.37 220.03L706.91 216.5" stroke="#72cfd6" stroke-width="0.5" fill="none"/>
<path d="M710.92 215.57L710.92 220.57M708.42 218.07L713.42 218.07M709.15 216.31L712.69 219.84M709.15 219.84L712.69 216.31" stroke="#72cfd6" stroke-width="0.5" fill="none"/>
<path d="M716.7 215.37L716.7 220.37M714.2 217.87L719.2 217.87M714.93 216.1L718.47 219.64M714.93 219.64L718.47 216.1" stroke="#72cfd6" stroke-width="0.5" fill="none"/>
<path d="M722.48 215.17L722.48 220.17M719.98 217.67L724.98 217.67M720.72 215.9L724.25 219.44M720.72 219.44L724.25 215.9" stroke="#72cfd6" stroke-width="0.5" fill="none"/>
<path d="M728.26 214.97L728.26 219.97M725.76 217.47L730.76 217.47M726.5 215.7L730.03 219.24M726.5 219.24L730.03 215.7" stroke="#72cfd6" stroke-width="0.5" fill="none"/>
<path d="M734.05 214.75L734.05 219.75M731.55 217.25L736.55 217.25M732.28 215.48L735.81 219.02M732.28 219.02L735.81 215.48" stroke="#72cfd6" stroke-width="0.5" fill="none"/>
<path d="M739.83 214.51L739.83 219.51M737.33 217.01L742.33 217.01M738.06 215.24L741.6 218.78M738.06 218.78L741.6 215.24" stroke="#72cfd6" stroke-width="0.5" fill="none"/>
<path d="M745.61 214.25L745.61 219.25M743.11 216.75L748.11 216.75M743.84 214.98L747.38 218.52M743.84 218.52L747.38 214.98" stroke="#72cfd6" stroke-width="0.5" fill="none"/>
<path d="M751.39 213.98L751.39 218.98M748.89 216.48L753.89 216.48M749.62 214.71L753.16 218.24M749.62 218.24L753.16 214.71" stroke="#72cfd6" stroke-width="0.5" fill="none"/>
<path d="M757.17 213.68L757.17 218.68M754.67 216.18L759.67 216.18M755.41 214.42L758.94 217.95M755.41 217.95L758.94 214.42" stroke="#72cfd6" stroke-width="0.5" fill="none"/>
<path d="M762.95 213.38L762.95 218.38M760.45 215.88L765.45 215.88M761.19 214.11L764.72 217.64M761.19 217.64L764.72 214.11" stroke="#72cfd6" stroke-width="0.5" fill="none"/>
<path d="M768.74 213.05L768.74 218.05M766.24 215.55L771.24 215.55M766.97 213.79L770.5 217.32M766.97 217.32L770.5 213.79" stroke="#72cfd6" stroke-width="0.5" fill="none"/>
<polyline points="444.96,155.71 450.74,164.42 456.53,171.31 462.31,174.75 468.09,176.99 473.87,178.5 479.65,179.11 485.43,178.5 491.22,176.69 497,175.24 502.78,173.6 508.56,171.93 514.34,170.4 520.12,169.24 525.91,168.1 531.69,166.71 537.47,165.17 543.25,163.57 549.03,161.91 554.81,160.18 560.6,158.41 566.38,156.65 572.16,154.93 577.94,153.26 583.72,151.62 589.5,149.99 595.29,148.37 601.07,146.75 606.85,145.14 612.63,143.48 618.41,141.83 624.19,140.3 629.98,138.91 635.76,137.59 641.54,136.35 647.32,135.16 653.1,134.03 658.88,132.96 664.67,131.96 670.45,131.01 676.23,130.11 682.01,129.3 687.79,128.55 693.57,127.87 699.36,127.3 705.14,126.84 710.92,126.42 716.7,126.07 722.48,125.79 728.26,125.57 734.05,125.35 739.83,125.15 745.61,124.96 751.39,124.81 757.17,124.69 762.95,124.61 768.74,124.58" fill="none" stroke="#f8f040" stroke-width="0.7"/>
<circle cx="444.96" cy="155.71" r="3.05" fill="#f8f000"/>
<circle cx="450.74" cy="164.42" r="3.05" fill="#f8f000"/>
<circle cx="456.53" cy="171.31" r="3.05" fill="#f8f000"/>
<circle cx="462.31" cy="174.75" r="3.05" fill="#f8f000"/>
<circle cx="468.09" cy="176.99" r="3.05" fill="#f8f000"/>
<circle cx="473.87" cy="178.5" r="3.05" fill="#f8f000"/>
<circle cx="479.65" cy="179.11" r="3.05" fill="#f8f000"/>
<circle cx="485.43" cy="178.5" r="3.05" fill="#f8f000"/>
<circle cx="491.22" cy="176.69" r="3.05" fill="#f8f000"/>
<circle cx="497" cy="175.24" r="3.05" fill="#f8f000"/>
<circle cx="502.78" cy="173.6" r="3.05" fill="#f8f000"/>
<circle cx="508.56" cy="171.93" r="3.05" fill="#f8f000"/>
<circle cx="514.34" cy="170.4" r="3.05" fill="#f8f000"/>
<circle cx="520.12" cy="169.24" r="3.05" fill="#f8f000"/>
<circle cx="525.91" cy="168.1" r="3.05" fill="#f8f000"/>
<circle cx="531.69" cy="166.71" r="3.05" fill="#f8f000"/>
<circle cx="537.47" cy="165.17" r="3.05" fill="#f8f000"/>
<circle cx="543.25" cy="163.57" r="3.05" fill="#f8f000"/>
<circle cx="549.03" cy="161.91" r="3.05" fill="#f8f000"/>
<circle cx="554.81" cy="160.18" r="3.05" fill="#f8f000"/>
<circle cx="560.6" cy="158.41" r="3.05" fill="#f8f000"/>
<circle cx="566.38" cy="156.65" r="3.05" fill="#f8f000"/>
<circle cx="572.16" cy="154.93" r="3.05" fill="#f8f000"/>
<circle cx="577.94" cy="153.26" r="3.05" fill="#f8f000"/>
<circle cx="583.72" cy="151.62" r="3.05" fill="#f8f000"/>
<circle cx="589.5" cy="149.99" r="3.05" fill="#f8f000"/>
<circle cx="595.29" cy="148.37" r="3.05" fill="#f8f000"/>
<circle cx="601.07" cy="146.75" r="3.05" fill="#f8f000"/>
<circle cx="606.85" cy="145.14" r="3.05" fill="#f8f000"/>
<circle cx="612.63" cy="143.48" r="3.05" fill="#f8f000"/>
<circle cx="618.41" cy="141.83" r="3.05" fill="#f8f000"/>
<circle cx="624.19" cy="140.3" r="3.05" fill="#f8f000"/>
<circle cx="629.98" cy="138.91" r="3.05" fill="#f8f000"/>
<circle cx="635.76" cy="137.59" r="3.05" fill="#f8f000"/>
<circle cx="641.54" cy="136.35" r="3.05" fill="#f8f000"/>
<circle cx="647.32" cy="135.16" r="3.05" fill="#f8f000"/>
<circle cx="653.1" cy="134.03" r="3.05" fill="#f8f000"/>
<circle cx="658.88" cy="132.96" r="3.05" fill="#f8f000"/>
<circle cx="664.67" cy="131.96" r="3.05" fill="#f8f000"/>
<circle cx="670.45" cy="131.01" r="3.05" fill="#f8f000"/>
<circle cx="676.23" cy="130.11" r="3.05" fill="#f8f000"/>
<circle cx="682.01" cy="129.3" r="3.05" fill="#f8f000"/>
<circle cx="687.79" cy="128.55" r="3.05" fill="#f8f000"/>
<circle cx="693.57" cy="127.87" r="3.05" fill="#f8f000"/>
<circle cx="699.36" cy="127.3" r="3.05" fill="#f8f000"/>
<circle cx="705.14" cy="126.84" r="3.05" fill="#f8f000"/>
<circle cx="710.92" cy="126.42" r="3.05" fill="#f8f000"/>
<circle cx="716.7" cy="126.07" r="3.05" fill="#f8f000"/>
<circle cx="722.48" cy="125.79" r="3.05" fill="#f8f000"/>
<circle cx="728.26" cy="125.57" r="3.05" fill="#f8f000"/>
<circle cx="734.05" cy="125.35" r="3.05" fill="#f8f000"/>
<circle cx="739.83" cy="125.15" r="3.05" fill="#f8f000"/>
<circle cx="745.61" cy="124.96" r="3.05" fill="#f8f000"/>
<circle cx="751.39" cy="124.81" r="3.05" fill="#f8f000"/>
<circle cx="757.17" cy="124.69" r="3.05" fill="#f8f000"/>
<circle cx="762.95" cy="124.61" r="3.05" fill="#f8f000"/>
<circle cx="768.74" cy="124.58" r="3.05" fill="#f8f000"/>
<polyline points="444.96,165.99 450.74,175.06 456.53,188.35 462.31,197.12 468.09,204.07 473.87,210.11 479.65,214.77 485.43,218.58 491.22,221.3 497,223.41 502.78,225.22 508.56,226.43 514.34,227.34 520.12,228.03 525.91,228.55 531.69,228.92 537.47,229.23 543.25,229.5 549.03,229.76 554.81,230.01 560.6,230.23 566.38,230.44 572.16,230.65 577.94,230.89 583.72,231.15 589.5,231.45 595.29,231.78 601.07,232.13 606.85,232.51 612.63,232.91 618.41,233.31 624.19,233.73 629.98,234.14 635.76,234.55 641.54,234.96 647.32,235.36 653.1,235.76 658.88,236.16 664.67,236.57 670.45,236.99 676.23,237.4 682.01,237.82 687.79,238.24 693.57,238.66 699.36,239.09 705.14,239.52 710.92,239.95 716.7,240.38 722.48,240.82 728.26,241.26 734.05,241.7 739.83,242.15 745.61,242.6 751.39,243.06 757.17,243.52 762.95,243.98 768.74,244.45" fill="none" stroke="#b8b8b8" stroke-width="0.7"/>
<polygon points="441.36,163.59 448.56,163.59 444.96,170.29" fill="#8c8c8c"/>
<polygon points="447.14,172.66 454.34,172.66 450.74,179.36" fill="#8c8c8c"/>
<polygon points="452.93,185.95 460.13,185.95 456.53,192.65" fill="#8c8c8c"/>
<polygon points="458.71,194.72 465.91,194.72 462.31,201.42" fill="#8c8c8c"/>
<polygon points="464.49,201.67 471.69,201.67 468.09,208.37" fill="#8c8c8c"/>
<polygon points="470.27,207.71 477.47,207.71 473.87,214.41" fill="#8c8c8c"/>
<polygon points="476.05,212.37 483.25,212.37 479.65,219.07" fill="#8c8c8c"/>
<polygon points="481.83,216.18 489.03,216.18 485.43,222.88" fill="#8c8c8c"/>
<polygon points="487.62,218.9 494.82,218.9 491.22,225.6" fill="#8c8c8c"/>
<polygon points="493.4,221.01 500.6,221.01 497,227.71" fill="#8c8c8c"/>
<polygon points="499.18,222.82 506.38,222.82 502.78,229.52" fill="#8c8c8c"/>
<polygon points="504.96,224.03 512.16,224.03 508.56,230.73" fill="#8c8c8c"/>
<polygon points="510.74,224.94 517.94,224.94 514.34,231.64" fill="#8c8c8c"/>
<polygon points="516.52,225.63 523.73,225.63 520.12,232.33" fill="#8c8c8c"/>
<polygon points="522.31,226.15 529.51,226.15 525.91,232.85" fill="#8c8c8c"/>
<polygon points="528.09,226.52 535.29,226.52 531.69,233.22" fill="#8c8c8c"/>
<polygon points="533.87,226.83 541.07,226.83 537.47,233.53" fill="#8c8c8c"/>
<polygon points="539.65,227.1 546.85,227.1 543.25,233.8" fill="#8c8c8c"/>
<polygon points="545.43,227.36 552.63,227.36 549.03,234.06" fill="#8c8c8c"/>
<polygon points="551.21,227.61 558.41,227.61 554.81,234.31" fill="#8c8c8c"/>
<polygon points="557,227.83 564.2,227.83 560.6,234.53" fill="#8c8c8c"/>
<polygon points="562.78,228.04 569.98,228.04 566.38,234.74" fill="#8c8c8c"/>
<polygon points="568.56,228.25 575.76,228.25 572.16,234.95" fill="#8c8c8c"/>
<polygon points="574.34,228.49 581.54,228.49 577.94,235.19" fill="#8c8c8c"/>
<polygon points="580.12,228.75 587.32,228.75 583.72,235.45" fill="#8c8c8c"/>
<polygon points="585.9,229.05 593.11,229.05 589.5,235.75" fill="#8c8c8c"/>
<polygon points="591.69,229.38 598.89,229.38 595.29,236.08" fill="#8c8c8c"/>
<polygon points="597.47,229.73 604.67,229.73 601.07,236.43" fill="#8c8c8c"/>
<polygon points="603.25,230.11 610.45,230.11 606.85,236.81" fill="#8c8c8c"/>
<polygon points="609.03,230.51 616.23,230.51 612.63,237.21" fill="#8c8c8c"/>
<polygon points="614.81,230.91 622.01,230.91 618.41,237.61" fill="#8c8c8c"/>
<polygon points="620.59,231.33 627.79,231.33 624.19,238.03" fill="#8c8c8c"/>
<polygon points="626.38,231.74 633.58,231.74 629.98,238.44" fill="#8c8c8c"/>
<polygon points="632.16,232.15 639.36,232.15 635.76,238.85" fill="#8c8c8c"/>
<polygon points="637.94,232.56 645.14,232.56 641.54,239.26" fill="#8c8c8c"/>
<polygon points="643.72,232.96 650.92,232.96 647.32,239.66" fill="#8c8c8c"/>
<polygon points="649.5,233.36 656.7,233.36 653.1,240.06" fill="#8c8c8c"/>
<polygon points="655.28,233.76 662.49,233.76 658.88,240.46" fill="#8c8c8c"/>
<polygon points="661.07,234.17 668.27,234.17 664.67,240.87" fill="#8c8c8c"/>
<polygon points="666.85,234.59 674.05,234.59 670.45,241.29" fill="#8c8c8c"/>
<polygon points="672.63,235 679.83,235 676.23,241.7" fill="#8c8c8c"/>
<polygon points="678.41,235.42 685.61,235.42 682.01,242.12" fill="#8c8c8c"/>
<polygon points="684.19,235.84 691.39,235.84 687.79,242.54" fill="#8c8c8c"/>
<polygon points="689.97,236.26 697.17,236.26 693.57,242.96" fill="#8c8c8c"/>
<polygon points="695.76,236.69 702.96,236.69 699.36,243.39" fill="#8c8c8c"/>
<polygon points="701.54,237.12 708.74,237.12 705.14,243.82" fill="#8c8c8c"/>
<polygon points="707.32,237.55 714.52,237.55 710.92,244.25" fill="#8c8c8c"/>
<polygon points="713.1,237.98 720.3,237.98 716.7,244.68" fill="#8c8c8c"/>
<polygon points="718.88,238.42 726.08,238.42 722.48,245.12" fill="#8c8c8c"/>
<polygon points="724.66,238.86 731.86,238.86 728.26,245.56" fill="#8c8c8c"/>
<polygon points="730.45,239.3 737.65,239.3 734.05,246" fill="#8c8c8c"/>
<polygon points="736.23,239.75 743.43,239.75 739.83,246.45" fill="#8c8c8c"/>
<polygon points="742.01,240.2 749.21,240.2 745.61,246.9" fill="#8c8c8c"/>
<polygon points="747.79,240.66 754.99,240.66 751.39,247.36" fill="#8c8c8c"/>
<polygon points="753.57,241.12 760.77,241.12 757.17,247.82" fill="#8c8c8c"/>
<polygon points="759.35,241.58 766.55,241.58 762.95,248.28" fill="#8c8c8c"/>
<polygon points="765.14,242.05 772.34,242.05 768.74,248.75" fill="#8c8c8c"/>
<polyline points="444.96,152.69 450.74,158.74 456.53,161.76 462.31,163.57 468.09,164.78 473.87,165.38 479.65,165.08 485.43,164.69 491.22,164.18 497,163.34 502.78,162.36 508.56,161.44 514.34,160.51 520.12,159.6 525.91,158.74 531.69,157.93 537.47,157.15 543.25,156.41 549.03,155.71 554.81,155.05 560.6,154.4 566.38,153.79 572.16,153.22 577.94,152.69 583.72,152.21 589.5,151.77 595.29,151.36 601.07,150.96 606.85,150.58 612.63,150.2 618.41,149.85 624.19,149.51 629.98,149.17 635.76,148.84 641.54,148.5 647.32,148.16 653.1,147.82 658.88,147.48 664.67,147.15 670.45,146.81 676.23,146.44 682.01,146.04 687.79,145.6 693.57,145.11 699.36,144.59 705.14,144.05 710.92,143.5 716.7,142.95 722.48,142.42 728.26,141.89 734.05,141.37 739.83,140.84 745.61,140.31 751.39,139.78 757.17,139.25 762.95,138.72 768.74,138.18" fill="none" stroke="#b4f4b8" stroke-width="0.7"/>
<polygon points="440.76,152.69 447.26,149.69 447.26,155.69" fill="#86f08c"/>
<polygon points="446.54,158.74 453.04,155.74 453.04,161.74" fill="#86f08c"/>
<polygon points="452.33,161.76 458.83,158.76 458.83,164.76" fill="#86f08c"/>
<polygon points="458.11,163.57 464.61,160.57 464.61,166.57" fill="#86f08c"/>
<polygon points="463.89,164.78 470.39,161.78 470.39,167.78" fill="#86f08c"/>
<polygon points="469.67,165.38 476.17,162.38 476.17,168.38" fill="#86f08c"/>
<polygon points="475.45,165.08 481.95,162.08 481.95,168.08" fill="#86f08c"/>
<polygon points="481.23,164.69 487.73,161.69 487.73,167.69" fill="#86f08c"/>
<polygon points="487.02,164.18 493.52,161.18 493.52,167.18" fill="#86f08c"/>
<polygon points="492.8,163.34 499.3,160.34 499.3,166.34" fill="#86f08c"/>
<polygon points="498.58,162.36 505.08,159.36 505.08,165.36" fill="#86f08c"/>
<polygon points="504.36,161.44 510.86,158.44 510.86,164.44" fill="#86f08c"/>
<polygon points="510.14,160.51 516.64,157.51 516.64,163.51" fill="#86f08c"/>
<polygon points="515.92,159.6 522.42,156.6 522.42,162.6" fill="#86f08c"/>
<polygon points="521.71,158.74 528.21,155.74 528.21,161.74" fill="#86f08c"/>
<polygon points="527.49,157.93 533.99,154.93 533.99,160.93" fill="#86f08c"/>
<polygon points="533.27,157.15 539.77,154.15 539.77,160.15" fill="#86f08c"/>
<polygon points="539.05,156.41 545.55,153.41 545.55,159.41" fill="#86f08c"/>
<polygon points="544.83,155.71 551.33,152.71 551.33,158.71" fill="#86f08c"/>
<polygon points="550.61,155.05 557.11,152.05 557.11,158.05" fill="#86f08c"/>
<polygon points="556.4,154.4 562.9,151.4 562.9,157.4" fill="#86f08c"/>
<polygon points="562.18,153.79 568.68,150.79 568.68,156.79" fill="#86f08c"/>
<polygon points="567.96,153.22 574.46,150.22 574.46,156.22" fill="#86f08c"/>
<polygon points="573.74,152.69 580.24,149.69 580.24,155.69" fill="#86f08c"/>
<polygon points="579.52,152.21 586.02,149.21 586.02,155.21" fill="#86f08c"/>
<polygon points="585.3,151.77 591.8,148.77 591.8,154.77" fill="#86f08c"/>
<polygon points="591.09,151.36 597.59,148.36 597.59,154.36" fill="#86f08c"/>
<polygon points="596.87,150.96 603.37,147.96 603.37,153.96" fill="#86f08c"/>
<polygon points="602.65,150.58 609.15,147.58 609.15,153.58" fill="#86f08c"/>
<polygon points="608.43,150.2 614.93,147.2 614.93,153.2" fill="#86f08c"/>
<polygon points="614.21,149.85 620.71,146.85 620.71,152.85" fill="#86f08c"/>
<polygon points="619.99,149.51 626.49,146.51 626.49,152.51" fill="#86f08c"/>
<polygon points="625.78,149.17 632.28,146.17 632.28,152.17" fill="#86f08c"/>
<polygon points="631.56,148.84 638.06,145.84 638.06,151.84" fill="#86f08c"/>
<polygon points="637.34,148.5 643.84,145.5 643.84,151.5" fill="#86f08c"/>
<polygon points="643.12,148.16 649.62,145.16 649.62,151.16" fill="#86f08c"/>
<polygon points="648.9,147.82 655.4,144.82 655.4,150.82" fill="#86f08c"/>
<polygon points="654.68,147.48 661.18,144.48 661.18,150.48" fill="#86f08c"/>
<polygon points="660.47,147.15 666.97,144.15 666.97,150.15" fill="#86f08c"/>
<polygon points="666.25,146.81 672.75,143.81 672.75,149.81" fill="#86f08c"/>
<polygon points="672.03,146.44 678.53,143.44 678.53,149.44" fill="#86f08c"/>
<polygon points="677.81,146.04 684.31,143.04 684.31,149.04" fill="#86f08c"/>
<polygon points="683.59,145.6 690.09,142.6 690.09,148.6" fill="#86f08c"/>
<polygon points="689.37,145.11 695.87,142.11 695.87,148.11" fill="#86f08c"/>
<polygon points="695.16,144.59 701.66,141.59 701.66,147.59" fill="#86f08c"/>
<polygon points="700.94,144.05 707.44,141.05 707.44,147.05" fill="#86f08c"/>
<polygon points="706.72,143.5 713.22,140.5 713.22,146.5" fill="#86f08c"/>
<polygon points="712.5,142.95 719,139.95 719,145.95" fill="#86f08c"/>
<polygon points="718.28,142.42 724.78,139.42 724.78,145.42" fill="#86f08c"/>
<polygon points="724.06,141.89 730.56,138.89 730.56,144.89" fill="#86f08c"/>
<polygon points="729.85,141.37 736.35,138.37 736.35,144.37" fill="#86f08c"/>
<polygon points="735.63,140.84 742.13,137.84 742.13,143.84" fill="#86f08c"/>
<polygon points="741.41,140.31 747.91,137.31 747.91,143.31" fill="#86f08c"/>
<polygon points="747.19,139.78 753.69,136.78 753.69,142.78" fill="#86f08c"/>
<polygon points="752.97,139.25 759.47,136.25 759.47,142.25" fill="#86f08c"/>
<polygon points="758.75,138.72 765.25,135.72 765.25,141.72" fill="#86f08c"/>
<polygon points="764.54,138.18 771.04,135.18 771.04,141.18" fill="#86f08c"/>
<polyline points="444.96,159.34 450.74,175.06 456.53,188.35 462.31,196.51 468.09,202.86 473.87,205.88 479.65,207.7 485.43,208.18 491.22,208.18 497,208.06 502.78,207.82 508.56,207.33 514.34,206.61 520.12,205.58 525.91,204.37 531.69,203.17 537.47,201.95 543.25,200.73 549.03,199.54 554.81,198.39 560.6,197.27 566.38,196.2 572.16,195.24 577.94,194.41 583.72,193.66 589.5,192.94 595.29,192.16 601.07,191.31 606.85,190.41 612.63,189.48 618.41,188.55 624.19,187.63 629.98,186.75 635.76,185.94 641.54,185.17 647.32,184.43 653.1,183.71 658.88,183.01 664.67,182.33 670.45,181.66 676.23,181.01 682.01,180.36 687.79,179.73 693.57,179.11 699.36,178.49 705.14,177.9 710.92,177.32 716.7,176.75 722.48,176.18 728.26,175.62 734.05,175.06 739.83,174.49 745.61,173.93 751.39,173.38 757.17,172.82 762.95,172.28 768.74,171.73" fill="none" stroke="#f4b4d8" stroke-width="0.7"/>
<polygon points="444.96,156.44 445.85,158.53 448.1,158.72 446.39,160.2 446.9,162.41 444.96,161.24 443.02,162.41 443.54,160.2 441.82,158.72 444.08,158.53" fill="#f08ccc"/>
<polygon points="450.74,172.16 451.63,174.24 453.88,174.44 452.17,175.92 452.68,178.13 450.74,176.96 448.81,178.13 449.32,175.92 447.61,174.44 449.86,174.24" fill="#f08ccc"/>
<polygon points="456.53,185.45 457.41,187.54 459.67,187.73 457.95,189.22 458.47,191.42 456.53,190.25 454.59,191.42 455.1,189.22 453.39,187.73 455.64,187.54" fill="#f08ccc"/>
<polygon points="462.31,193.61 463.19,195.7 465.45,195.89 463.73,197.38 464.25,199.58 462.31,198.41 460.37,199.58 460.88,197.38 459.17,195.89 461.43,195.7" fill="#f08ccc"/>
<polygon points="468.09,199.96 468.97,202.05 471.23,202.24 469.52,203.72 470.03,205.93 468.09,204.76 466.15,205.93 466.66,203.72 464.95,202.24 467.21,202.05" fill="#f08ccc"/>
<polygon points="473.87,202.98 474.75,205.07 477.01,205.26 475.3,206.75 475.81,208.95 473.87,207.78 471.93,208.95 472.45,206.75 470.73,205.26 472.99,205.07" fill="#f08ccc"/>
<polygon points="479.65,204.8 480.54,206.88 482.79,207.08 481.08,208.56 481.59,210.77 479.65,209.6 477.71,210.77 478.23,208.56 476.51,207.08 478.77,206.88" fill="#f08ccc"/>
<polygon points="485.43,205.28 486.32,207.37 488.57,207.56 486.86,209.04 487.37,211.25 485.43,210.08 483.5,211.25 484.01,209.04 482.3,207.56 484.55,207.37" fill="#f08ccc"/>
<polygon points="491.22,205.28 492.1,207.37 494.36,207.56 492.64,209.04 493.16,211.25 491.22,210.08 489.28,211.25 489.79,209.04 488.08,207.56 490.33,207.37" fill="#f08ccc"/>
<polygon points="497,205.16 497.88,207.24 500.14,207.44 498.42,208.92 498.94,211.13 497,209.96 495.06,211.13 495.57,208.92 493.86,207.44 496.12,207.24" fill="#f08ccc"/>
<polygon points="502.78,204.92 503.66,207 505.92,207.2 504.21,208.68 504.72,210.89 502.78,209.72 500.84,210.89 501.35,208.68 499.64,207.2 501.9,207" fill="#f08ccc"/>
<polygon points="508.56,204.43 509.44,206.51 511.7,206.71 509.99,208.19 510.5,210.4 508.56,209.23 506.62,210.4 507.14,208.19 505.42,206.71 507.68,206.51" fill="#f08ccc"/>
<polygon points="514.34,203.71 515.23,205.79 517.48,205.99 515.77,207.47 516.28,209.68 514.34,208.51 512.4,209.68 512.92,207.47 511.2,205.99 513.46,205.79" fill="#f08ccc"/>
<polygon points="520.12,202.68 521.01,204.77 523.26,204.96 521.55,206.45 522.06,208.65 520.12,207.48 518.19,208.65 518.7,206.45 516.99,204.96 519.24,204.77" fill="#f08ccc"/>
<polygon points="525.91,201.47 526.79,203.56 529.05,203.75 527.33,205.23 527.85,207.44 525.91,206.27 523.97,207.44 524.48,205.23 522.77,203.75 525.02,203.56" fill="#f08ccc"/>
<polygon points="531.69,200.27 532.57,202.36 534.83,202.55 533.11,204.04 533.63,206.24 531.69,205.07 529.75,206.24 530.26,204.04 528.55,202.55 530.81,202.36" fill="#f08ccc"/>
<polygon points="537.47,199.05 538.35,201.14 540.61,201.33 538.9,202.82 539.41,205.02 537.47,203.85 535.53,205.02 536.04,202.82 534.33,201.33 536.59,201.14" fill="#f08ccc"/>
<polygon points="543.25,197.83 544.13,199.91 546.39,200.11 544.68,201.59 545.19,203.8 543.25,202.63 541.31,203.8 541.83,201.59 540.11,200.11 542.37,199.91" fill="#f08ccc"/>
<polygon points="549.03,196.64 549.92,198.72 552.17,198.92 550.46,200.4 550.97,202.61 549.03,201.44 547.09,202.61 547.61,200.4 545.89,198.92 548.15,198.72" fill="#f08ccc"/>
<polygon points="554.81,195.49 555.7,197.58 557.95,197.77 556.24,199.25 556.75,201.46 554.81,200.29 552.88,201.46 553.39,199.25 551.68,197.77 553.93,197.58" fill="#f08ccc"/>
<polygon points="560.6,194.37 561.48,196.45 563.74,196.65 562.02,198.13 562.54,200.34 560.6,199.17 558.66,200.34 559.17,198.13 557.46,196.65 559.71,196.45" fill="#f08ccc"/>
<polygon points="566.38,193.3 567.26,195.39 569.52,195.58 567.8,197.07 568.32,199.27 566.38,198.1 564.44,199.27 564.95,197.07 563.24,195.58 565.5,195.39" fill="#f08ccc"/>
<polygon points="572.16,192.34 573.04,194.43 575.3,194.62 573.59,196.11 574.1,198.31 572.16,197.14 570.22,198.31 570.73,196.11 569.02,194.62 571.28,194.43" fill="#f08ccc"/>
<polygon points="577.94,191.51 578.82,193.6 581.08,193.79 579.37,195.28 579.88,197.48 577.94,196.31 576,197.48 576.52,195.28 574.8,193.79 577.06,193.6" fill="#f08ccc"/>
<polygon points="583.72,190.76 584.61,192.85 586.86,193.04 585.15,194.53 585.66,196.73 583.72,195.56 581.78,196.73 582.3,194.53 580.58,193.04 582.84,192.85" fill="#f08ccc"/>
<polygon points="589.5,190.04 590.39,192.12 592.64,192.32 590.93,193.8 591.44,196.01 589.5,194.84 587.57,196.01 588.08,193.8 586.37,192.32 588.62,192.12" fill="#f08ccc"/>
<polygon points="595.29,189.26 596.17,191.35 598.43,191.54 596.71,193.02 597.23,195.23 595.29,194.06 593.35,195.23 593.86,193.02 592.15,191.54 594.4,191.35" fill="#f08ccc"/>
<polygon points="601.07,188.41 601.95,190.5 604.21,190.69 602.49,192.17 603.01,194.38 601.07,193.21 599.13,194.38 599.64,192.17 597.93,190.69 600.19,190.5" fill="#f08ccc"/>
<polygon points="606.85,187.51 607.73,189.59 609.99,189.79 608.28,191.27 608.79,193.48 606.85,192.31 604.91,193.48 605.42,191.27 603.71,189.79 605.97,189.59" fill="#f08ccc"/>
<polygon points="612.63,186.58 613.51,188.67 615.77,188.86 614.06,190.34 614.57,192.55 612.63,191.38 610.69,192.55 611.21,190.34 609.49,188.86 611.75,188.67" fill="#f08ccc"/>
<polygon points="618.41,185.65 619.3,187.73 621.55,187.93 619.84,189.41 620.35,191.62 618.41,190.45 616.47,191.62 616.99,189.41 615.27,187.93 617.53,187.73" fill="#f08ccc"/>
<polygon points="624.19,184.73 625.08,186.82 627.33,187.01 625.62,188.49 626.13,190.7 624.19,189.53 622.26,190.7 622.77,188.49 621.06,187.01 623.31,186.82" fill="#f08ccc"/>
<polygon points="629.98,183.85 630.86,185.94 633.12,186.13 631.4,187.62 631.92,189.82 629.98,188.65 628.04,189.82 628.55,187.62 626.84,186.13 629.09,185.94" fill="#f08ccc"/>
<polygon points="635.76,183.04 636.64,185.12 638.9,185.32 637.18,186.8 637.7,189.01 635.76,187.84 633.82,189.01 634.33,186.8 632.62,185.32 634.88,185.12" fill="#f08ccc"/>
<polygon points="641.54,182.27 642.42,184.36 644.68,184.55 642.97,186.03 643.48,188.24 641.54,187.07 639.6,188.24 640.11,186.03 638.4,184.55 640.66,184.36" fill="#f08ccc"/>
<polygon points="647.32,181.53 648.2,183.61 650.46,183.81 648.75,185.29 649.26,187.5 647.32,186.33 645.38,187.5 645.9,185.29 644.18,183.81 646.44,183.61" fill="#f08ccc"/>
<polygon points="653.1,180.81 653.99,182.89 656.24,183.09 654.53,184.57 655.04,186.78 653.1,185.61 651.16,186.78 651.68,184.57 649.96,183.09 652.22,182.89" fill="#f08ccc"/>
<polygon points="658.88,180.11 659.77,182.19 662.02,182.39 660.31,183.87 660.82,186.08 658.88,184.91 656.95,186.08 657.46,183.87 655.75,182.39 658,182.19" fill="#f08ccc"/>
<polygon points="664.67,179.43 665.55,181.51 667.81,181.71 666.09,183.19 666.61,185.4 664.67,184.23 662.73,185.4 663.24,183.19 661.53,181.71 663.78,181.51" fill="#f08ccc"/>
<polygon points="670.45,178.76 671.33,180.85 673.59,181.04 671.87,182.52 672.39,184.73 670.45,183.56 668.51,184.73 669.02,182.52 667.31,181.04 669.57,180.85" fill="#f08ccc"/>
<polygon points="676.23,178.11 677.11,180.19 679.37,180.39 677.66,181.87 678.17,184.08 676.23,182.91 674.29,184.08 674.8,181.87 673.09,180.39 675.35,180.19" fill="#f08ccc"/>
<polygon points="682.01,177.46 682.89,179.55 685.15,179.74 683.44,181.23 683.95,183.43 682.01,182.26 680.07,183.43 680.59,181.23 678.87,179.74 681.13,179.55" fill="#f08ccc"/>
<polygon points="687.79,176.83 688.68,178.92 690.93,179.11 689.22,180.59 689.73,182.8 687.79,181.63 685.85,182.8 686.37,180.59 684.65,179.11 686.91,178.92" fill="#f08ccc"/>
<polygon points="693.57,176.21 694.46,178.29 696.71,178.49 695,179.97 695.51,182.18 693.57,181.01 691.64,182.18 692.15,179.97 690.44,178.49 692.69,178.29" fill="#f08ccc"/>
<polygon points="699.36,175.59 700.24,177.68 702.5,177.87 700.78,179.36 701.3,181.56 699.36,180.39 697.42,181.56 697.93,179.36 696.22,177.87 698.47,177.68" fill="#f08ccc"/>
<polygon points="705.14,175 706.02,177.08 708.28,177.28 706.56,178.76 707.08,180.97 705.14,179.8 703.2,180.97 703.71,178.76 702,177.28 704.26,177.08" fill="#f08ccc"/>
<polygon points="710.92,174.42 711.8,176.5 714.06,176.7 712.35,178.18 712.86,180.39 710.92,179.22 708.98,180.39 709.49,178.18 707.78,176.7 710.04,176.5" fill="#f08ccc"/>
<polygon points="716.7,173.85 717.58,175.93 719.84,176.13 718.13,177.61 718.64,179.82 716.7,178.65 714.76,179.82 715.28,177.61 713.56,176.13 715.82,175.93" fill="#f08ccc"/>
<polygon points="722.48,173.28 723.37,175.37 725.62,175.56 723.91,177.04 724.42,179.25 722.48,178.08 720.54,179.25 721.06,177.04 719.34,175.56 721.6,175.37" fill="#f08ccc"/>
<polygon points="728.26,172.72 729.15,174.81 731.4,175 729.69,176.48 730.2,178.69 728.26,177.52 726.33,178.69 726.84,176.48 725.13,175 727.38,174.81" fill="#f08ccc"/>
<polygon points="734.05,172.16 734.93,174.24 737.19,174.44 735.47,175.92 735.99,178.13 734.05,176.96 732.11,178.13 732.62,175.92 730.91,174.44 733.16,174.24" fill="#f08ccc"/>
<polygon points="739.83,171.59 740.71,173.68 742.97,173.87 741.25,175.36 741.77,177.56 739.83,176.39 737.89,177.56 738.4,175.36 736.69,173.87 738.95,173.68" fill="#f08ccc"/>
<polygon points="745.61,171.03 746.49,173.12 748.75,173.31 747.04,174.8 747.55,177 745.61,175.83 743.67,177 744.18,174.8 742.47,173.31 744.73,173.12" fill="#f08ccc"/>
<polygon points="751.39,170.48 752.27,172.56 754.53,172.76 752.82,174.24 753.33,176.45 751.39,175.28 749.45,176.45 749.97,174.24 748.25,172.76 750.51,172.56" fill="#f08ccc"/>
<polygon points="757.17,169.92 758.06,172.01 760.31,172.2 758.6,173.69 759.11,175.89 757.17,174.72 755.23,175.89 755.75,173.69 754.03,172.2 756.29,172.01" fill="#f08ccc"/>
<polygon points="762.95,169.38 763.84,171.46 766.09,171.66 764.38,173.14 764.89,175.35 762.95,174.18 761.02,175.35 761.53,173.14 759.82,171.66 762.07,171.46" fill="#f08ccc"/>
<polygon points="768.74,168.83 769.62,170.92 771.88,171.11 770.16,172.59 770.68,174.8 768.74,173.63 766.8,174.8 767.31,172.59 765.6,171.11 767.85,170.92" fill="#f08ccc"/>
<polyline points="444.96,164.78 450.74,176.26 456.53,181.83 462.31,184.85 468.09,185.33 473.87,184.24 479.65,181.58 485.43,177.46 491.22,172.94 497,169.25 502.78,165.51 508.56,160.99 514.34,156.32 520.12,152 525.91,147.86 531.69,143.88 537.47,140 543.25,136.12 549.03,132.32 554.81,128.66 560.6,125.07 566.38,121.48 572.16,117.94 577.94,114.41 583.72,110.98 589.5,107.78 595.29,104.64 601.07,101.38 606.85,98.29 612.63,95.64 618.41,93.15 624.19,90.7 629.98,88.32 635.76,86.01 641.54,83.78 647.32,81.63 653.1,79.55 658.88,77.56 664.67,75.62 670.45,73.73 676.23,71.86 682.01,70.01 687.79,68.21 693.57,66.44 699.36,64.7 705.14,63 710.92,61.33 716.7,59.69 722.48,58.1 728.26,56.52 734.05,55 739.83,53.56 745.61,52.21 751.39,50.91 757.17,49.67 762.95,48.5 768.74,47.4" fill="none" stroke="#6a3a40" stroke-width="0.7"/>
<polygon points="444.96,161.38 445.96,163.05 447.91,163.08 446.96,164.78 447.91,166.48 445.96,166.51 444.96,168.18 443.96,166.51 442.02,166.48 442.96,164.78 442.02,163.08 443.96,163.05" fill="#6c2731"/>
<polygon points="450.74,172.86 451.74,174.53 453.69,174.56 452.74,176.26 453.69,177.96 451.74,178 450.74,179.66 449.74,178 447.8,177.96 448.74,176.26 447.8,174.56 449.74,174.53" fill="#6c2731"/>
<polygon points="456.53,178.43 457.53,180.09 459.47,180.13 458.53,181.83 459.47,183.53 457.53,183.56 456.53,185.23 455.53,183.56 453.58,183.53 454.53,181.83 453.58,180.13 455.53,180.09" fill="#6c2731"/>
<polygon points="462.31,181.45 463.31,183.12 465.25,183.15 464.31,184.85 465.25,186.55 463.31,186.58 462.31,188.25 461.31,186.58 459.36,186.55 460.31,184.85 459.36,183.15 461.31,183.12" fill="#6c2731"/>
<polygon points="468.09,181.93 469.09,183.6 471.03,183.63 470.09,185.33 471.03,187.03 469.09,187.06 468.09,188.73 467.09,187.06 465.15,187.03 466.09,185.33 465.15,183.63 467.09,183.6" fill="#6c2731"/>
<polygon points="473.87,180.84 474.87,182.51 476.82,182.54 475.87,184.24 476.82,185.94 474.87,185.98 473.87,187.64 472.87,185.98 470.93,185.94 471.87,184.24 470.93,182.54 472.87,182.51" fill="#6c2731"/>
<polygon points="479.65,178.18 480.65,179.85 482.6,179.88 481.65,181.58 482.6,183.28 480.65,183.32 479.65,184.98 478.65,183.32 476.71,183.28 477.65,181.58 476.71,179.88 478.65,179.85" fill="#6c2731"/>
<polygon points="485.43,174.06 486.43,175.73 488.38,175.76 487.43,177.46 488.38,179.16 486.43,179.19 485.43,180.86 484.43,179.19 482.49,179.16 483.43,177.46 482.49,175.76 484.43,175.73" fill="#6c2731"/>
<polygon points="491.22,169.54 492.22,171.21 494.16,171.24 493.22,172.94 494.16,174.64 492.22,174.67 491.22,176.34 490.22,174.67 488.27,174.64 489.22,172.94 488.27,171.24 490.22,171.21" fill="#6c2731"/>
<polygon points="497,165.85 498,167.52 499.94,167.55 499,169.25 499.94,170.95 498,170.98 497,172.65 496,170.98 494.05,170.95 495,169.25 494.05,167.55 496,167.52" fill="#6c2731"/>
<polygon points="502.78,162.11 503.78,163.77 505.72,163.81 504.78,165.51 505.72,167.21 503.78,167.24 502.78,168.91 501.78,167.24 499.84,167.21 500.78,165.51 499.84,163.81 501.78,163.77" fill="#6c2731"/>
<polygon points="508.56,157.59 509.56,159.25 511.51,159.29 510.56,160.99 511.51,162.69 509.56,162.72 508.56,164.39 507.56,162.72 505.62,162.69 506.56,160.99 505.62,159.29 507.56,159.25" fill="#6c2731"/>
<polygon points="514.34,152.92 515.34,154.59 517.29,154.62 516.34,156.32 517.29,158.02 515.34,158.05 514.34,159.72 513.34,158.05 511.4,158.02 512.34,156.32 511.4,154.62 513.34,154.59" fill="#6c2731"/>
<polygon points="520.12,148.6 521.12,150.27 523.07,150.3 522.12,152 523.07,153.7 521.12,153.74 520.12,155.4 519.12,153.74 517.18,153.7 518.12,152 517.18,150.3 519.12,150.27" fill="#6c2731"/>
<polygon points="525.91,144.46 526.91,146.12 528.85,146.16 527.91,147.86 528.85,149.56 526.91,149.59 525.91,151.26 524.91,149.59 522.96,149.56 523.91,147.86 522.96,146.16 524.91,146.12" fill="#6c2731"/>
<polygon points="531.69,140.48 532.69,142.15 534.63,142.18 533.69,143.88 534.63,145.58 532.69,145.61 531.69,147.28 530.69,145.61 528.74,145.58 529.69,143.88 528.74,142.18 530.69,142.15" fill="#6c2731"/>
<polygon points="537.47,136.6 538.47,138.27 540.41,138.3 539.47,140 540.41,141.7 538.47,141.73 537.47,143.4 536.47,141.73 534.53,141.7 535.47,140 534.53,138.3 536.47,138.27" fill="#6c2731"/>
<polygon points="543.25,132.72 544.25,134.39 546.2,134.42 545.25,136.12 546.2,137.82 544.25,137.85 543.25,139.52 542.25,137.85 540.31,137.82 541.25,136.12 540.31,134.42 542.25,134.39" fill="#6c2731"/>
<polygon points="549.03,128.92 550.03,130.59 551.98,130.62 551.03,132.32 551.98,134.02 550.03,134.05 549.03,135.72 548.03,134.05 546.09,134.02 547.03,132.32 546.09,130.62 548.03,130.59" fill="#6c2731"/>
<polygon points="554.81,125.26 555.81,126.93 557.76,126.96 556.81,128.66 557.76,130.36 555.81,130.39 554.81,132.06 553.81,130.39 551.87,130.36 552.81,128.66 551.87,126.96 553.81,126.93" fill="#6c2731"/>
<polygon points="560.6,121.67 561.6,123.34 563.54,123.37 562.6,125.07 563.54,126.77 561.6,126.8 560.6,128.47 559.6,126.8 557.65,126.77 558.6,125.07 557.65,123.37 559.6,123.34" fill="#6c2731"/>
<polygon points="566.38,118.08 567.38,119.75 569.32,119.78 568.38,121.48 569.32,123.18 567.38,123.21 566.38,124.88 565.38,123.21 563.43,123.18 564.38,121.48 563.43,119.78 565.38,119.75" fill="#6c2731"/>
<polygon points="572.16,114.54 573.16,116.2 575.1,116.24 574.16,117.94 575.1,119.64 573.16,119.67 572.16,121.34 571.16,119.67 569.22,119.64 570.16,117.94 569.22,116.24 571.16,116.2" fill="#6c2731"/>
<polygon points="577.94,111.01 578.94,112.68 580.89,112.71 579.94,114.41 580.89,116.11 578.94,116.14 577.94,117.81 576.94,116.14 575,116.11 575.94,114.41 575,112.71 576.94,112.68" fill="#6c2731"/>
<polygon points="583.72,107.58 584.72,109.25 586.67,109.28 585.72,110.98 586.67,112.68 584.72,112.72 583.72,114.38 582.72,112.72 580.78,112.68 581.72,110.98 580.78,109.28 582.72,109.25" fill="#6c2731"/>
<polygon points="589.5,104.38 590.5,106.04 592.45,106.08 591.5,107.78 592.45,109.48 590.5,109.51 589.5,111.18 588.5,109.51 586.56,109.48 587.5,107.78 586.56,106.08 588.5,106.04" fill="#6c2731"/>
<polygon points="595.29,101.24 596.29,102.91 598.23,102.94 597.29,104.64 598.23,106.34 596.29,106.37 595.29,108.04 594.29,106.37 592.34,106.34 593.29,104.64 592.34,102.94 594.29,102.91" fill="#6c2731"/>
<polygon points="601.07,97.98 602.07,99.65 604.01,99.68 603.07,101.38 604.01,103.08 602.07,103.11 601.07,104.78 600.07,103.11 598.12,103.08 599.07,101.38 598.12,99.68 600.07,99.65" fill="#6c2731"/>
<polygon points="606.85,94.89 607.85,96.56 609.79,96.59 608.85,98.29 609.79,99.99 607.85,100.02 606.85,101.69 605.85,100.02 603.91,99.99 604.85,98.29 603.91,96.59 605.85,96.56" fill="#6c2731"/>
<polygon points="612.63,92.24 613.63,93.9 615.58,93.94 614.63,95.64 615.58,97.34 613.63,97.37 612.63,99.04 611.63,97.37 609.69,97.34 610.63,95.64 609.69,93.94 611.63,93.9" fill="#6c2731"/>
<polygon points="618.41,89.75 619.41,91.42 621.36,91.45 620.41,93.15 621.36,94.85 619.41,94.89 618.41,96.55 617.41,94.89 615.47,94.85 616.41,93.15 615.47,91.45 617.41,91.42" fill="#6c2731"/>
<polygon points="624.19,87.3 625.19,88.97 627.14,89 626.19,90.7 627.14,92.4 625.19,92.43 624.19,94.1 623.19,92.43 621.25,92.4 622.19,90.7 621.25,89 623.19,88.97" fill="#6c2731"/>
<polygon points="629.98,84.92 630.98,86.59 632.92,86.62 631.98,88.32 632.92,90.02 630.98,90.05 629.98,91.72 628.98,90.05 627.03,90.02 627.98,88.32 627.03,86.62 628.98,86.59" fill="#6c2731"/>
<polygon points="635.76,82.61 636.76,84.28 638.7,84.31 637.76,86.01 638.7,87.71 636.76,87.75 635.76,89.41 634.76,87.75 632.81,87.71 633.76,86.01 632.81,84.31 634.76,84.28" fill="#6c2731"/>
<polygon points="641.54,80.38 642.54,82.05 644.48,82.08 643.54,83.78 644.48,85.48 642.54,85.52 641.54,87.18 640.54,85.52 638.6,85.48 639.54,83.78 638.6,82.08 640.54,82.05" fill="#6c2731"/>
<polygon points="647.32,78.23 648.32,79.9 650.27,79.93 649.32,81.63 650.27,83.33 648.32,83.36 647.32,85.03 646.32,83.36 644.38,83.33 645.32,81.63 644.38,79.93 646.32,79.9" fill="#6c2731"/>
<polygon points="653.1,76.15 654.1,77.82 656.05,77.85 655.1,79.55 656.05,81.25 654.1,81.29 653.1,82.95 652.1,81.29 650.16,81.25 651.1,79.55 650.16,77.85 652.1,77.82" fill="#6c2731"/>
<polygon points="658.88,74.16 659.88,75.82 661.83,75.86 660.88,77.56 661.83,79.26 659.88,79.29 658.88,80.96 657.88,79.29 655.94,79.26 656.88,77.56 655.94,75.86 657.88,75.82" fill="#6c2731"/>
<polygon points="664.67,72.22 665.67,73.89 667.61,73.92 666.67,75.62 667.61,77.32 665.67,77.36 664.67,79.02 663.67,77.36 661.72,77.32 662.67,75.62 661.72,73.92 663.67,73.89" fill="#6c2731"/>
<polygon points="670.45,70.33 671.45,72 673.39,72.03 672.45,73.73 673.39,75.43 671.45,75.46 670.45,77.13 669.45,75.46 667.5,75.43 668.45,73.73 667.5,72.03 669.45,72" fill="#6c2731"/>
<polygon points="676.23,68.46 677.23,70.12 679.17,70.16 678.23,71.86 679.17,73.56 677.23,73.59 676.23,75.26 675.23,73.59 673.29,73.56 674.23,71.86 673.29,70.16 675.23,70.12" fill="#6c2731"/>
<polygon points="682.01,66.61 683.01,68.28 684.96,68.31 684.01,70.01 684.96,71.71 683.01,71.75 682.01,73.41 681.01,71.75 679.07,71.71 680.01,70.01 679.07,68.31 681.01,68.28" fill="#6c2731"/>
<polygon points="687.79,64.81 688.79,66.47 690.74,66.51 689.79,68.21 690.74,69.91 688.79,69.94 687.79,71.61 686.79,69.94 684.85,69.91 685.79,68.21 684.85,66.51 686.79,66.47" fill="#6c2731"/>
<polygon points="693.57,63.04 694.57,64.7 696.52,64.74 695.57,66.44 696.52,68.14 694.57,68.17 693.57,69.84 692.57,68.17 690.63,68.14 691.57,66.44 690.63,64.74 692.57,64.7" fill="#6c2731"/>
<polygon points="699.36,61.3 700.36,62.97 702.3,63 701.36,64.7 702.3,66.4 700.36,66.43 699.36,68.1 698.36,66.43 696.41,66.4 697.36,64.7 696.41,63 698.36,62.97" fill="#6c2731"/>
<polygon points="705.14,59.6 706.14,61.27 708.08,61.3 707.14,63 708.08,64.7 706.14,64.73 705.14,66.4 704.14,64.73 702.19,64.7 703.14,63 702.19,61.3 704.14,61.27" fill="#6c2731"/>
<polygon points="710.92,57.93 711.92,59.6 713.86,59.63 712.92,61.33 713.86,63.03 711.92,63.06 710.92,64.73 709.92,63.06 707.98,63.03 708.92,61.33 707.98,59.63 709.92,59.6" fill="#6c2731"/>
<polygon points="716.7,56.29 717.7,57.96 719.65,57.99 718.7,59.69 719.65,61.39 717.7,61.43 716.7,63.09 715.7,61.43 713.76,61.39 714.7,59.69 713.76,57.99 715.7,57.96" fill="#6c2731"/>
<polygon points="722.48,54.7 723.48,56.36 725.43,56.4 724.48,58.1 725.43,59.8 723.48,59.83 722.48,61.5 721.48,59.83 719.54,59.8 720.48,58.1 719.54,56.4 721.48,56.36" fill="#6c2731"/>
<polygon points="728.26,53.12 729.26,54.79 731.21,54.82 730.26,56.52 731.21,58.22 729.26,58.25 728.26,59.92 727.26,58.25 725.32,58.22 726.26,56.52 725.32,54.82 727.26,54.79" fill="#6c2731"/>
<polygon points="734.05,51.6 735.05,53.26 736.99,53.3 736.05,55 736.99,56.7 735.05,56.73 734.05,58.4 733.05,56.73 731.1,56.7 732.05,55 731.1,53.3 733.05,53.26" fill="#6c2731"/>
<polygon points="739.83,50.16 740.83,51.83 742.77,51.86 741.83,53.56 742.77,55.26 740.83,55.29 739.83,56.96 738.83,55.29 736.88,55.26 737.83,53.56 736.88,51.86 738.83,51.83" fill="#6c2731"/>
<polygon points="745.61,48.81 746.61,50.48 748.55,50.51 747.61,52.21 748.55,53.91 746.61,53.95 745.61,55.61 744.61,53.95 742.67,53.91 743.61,52.21 742.67,50.51 744.61,50.48" fill="#6c2731"/>
<polygon points="751.39,47.51 752.39,49.18 754.34,49.21 753.39,50.91 754.34,52.61 752.39,52.65 751.39,54.31 750.39,52.65 748.45,52.61 749.39,50.91 748.45,49.21 750.39,49.18" fill="#6c2731"/>
<polygon points="757.17,46.27 758.17,47.94 760.12,47.97 759.17,49.67 760.12,51.37 758.17,51.4 757.17,53.07 756.17,51.4 754.23,51.37 755.17,49.67 754.23,47.97 756.17,47.94" fill="#6c2731"/>
<polygon points="762.95,45.1 763.95,46.76 765.9,46.8 764.95,48.5 765.9,50.2 763.95,50.23 762.95,51.9 761.95,50.23 760.01,50.2 760.95,48.5 760.01,46.8 761.95,46.76" fill="#6c2731"/>
<polygon points="768.74,44 769.74,45.66 771.68,45.7 770.74,47.4 771.68,49.1 769.74,49.13 768.74,50.8 767.74,49.13 765.79,49.1 766.74,47.4 765.79,45.7 767.74,45.66" fill="#6c2731"/>
<text transform="translate(433.4 303.2) scale(0.92 1)" font-size="9.9" text-anchor="middle" fill="#2a2a2a">0</text>
<text transform="translate(491.22 303.2) scale(0.92 1)" font-size="9.9" text-anchor="middle" fill="#2a2a2a">10</text>
<text transform="translate(549.03 303.2) scale(0.92 1)" font-size="9.9" text-anchor="middle" fill="#2a2a2a">20</text>
<text transform="translate(606.85 303.2) scale(0.92 1)" font-size="9.9" text-anchor="middle" fill="#2a2a2a">30</text>
<text transform="translate(664.67 303.2) scale(0.92 1)" font-size="9.9" text-anchor="middle" fill="#2a2a2a">40</text>
<text transform="translate(722.48 303.2) scale(0.92 1)" font-size="9.9" text-anchor="middle" fill="#2a2a2a">50</text>
<text transform="translate(780.3 303.2) scale(0.92 1)" font-size="9.9" text-anchor="middle" fill="#2a2a2a">60</text>
<text transform="translate(428.8 294.1) scale(0.92 1)" font-size="9.9" text-anchor="end" fill="#2a2a2a">0</text>
<text transform="translate(428.8 263.88) scale(0.92 1)" font-size="9.9" text-anchor="end" fill="#2a2a2a">0.05</text>
<text transform="translate(428.8 233.66) scale(0.92 1)" font-size="9.9" text-anchor="end" fill="#2a2a2a">0.1</text>
<text transform="translate(428.8 203.43) scale(0.92 1)" font-size="9.9" text-anchor="end" fill="#2a2a2a">0.15</text>
<text transform="translate(428.8 173.21) scale(0.92 1)" font-size="9.9" text-anchor="end" fill="#2a2a2a">0.2</text>
<text transform="translate(428.8 142.99) scale(0.92 1)" font-size="9.9" text-anchor="end" fill="#2a2a2a">0.25</text>
<text transform="translate(428.8 112.77) scale(0.92 1)" font-size="9.9" text-anchor="end" fill="#2a2a2a">0.3</text>
<text transform="translate(428.8 82.54) scale(0.92 1)" font-size="9.9" text-anchor="end" fill="#2a2a2a">0.35</text>
<text transform="translate(428.8 52.32) scale(0.92 1)" font-size="9.9" text-anchor="end" fill="#2a2a2a">0.4</text>
<text transform="translate(428.8 22.1) scale(0.92 1)" font-size="9.9" text-anchor="end" fill="#2a2a2a">0.45</text>
<rect x="433.4" y="17.9" width="87.89999999999998" height="109.19999999999999" fill="#fff"/>
<path d="M433.4 127.1H521.3V17.9" fill="none" stroke="#777" stroke-width="0.8"/>
<path d="M438.5 28.3H468.8" stroke="#5f7ea8" stroke-width="0.7"/>
<polygon points="454,23.62 457.46,28.3 454,32.98 450.54,28.3" fill="#2f5e9c"/>
<text transform="translate(472.2 32.3) scale(0.94 1)" font-size="9.8" text-anchor="start" fill="#2a2a2a">Arab</text>
<path d="M438.5 37.5H468.8" stroke="#f07070" stroke-width="0.7"/>
<rect x="450.92" y="34.42" width="6.16" height="6.16" fill="#ee3030"/>
<text transform="translate(472.2 41.5) scale(0.94 1)" font-size="9.8" text-anchor="start" fill="#2a2a2a">Nubian</text>
<path d="M438.5 47.2H468.8" stroke="#a8dca0" stroke-width="0.7"/>
<polygon points="454,42.47 457.96,49.84 450.04,49.84" fill="#5cc43a"/>
<text transform="translate(472.2 51.2) scale(0.94 1)" font-size="9.8" text-anchor="start" fill="#2a2a2a">Beja</text>
<path d="M438.5 58.3H468.8" stroke="#a58cb8" stroke-width="0.7"/>
<path d="M451.8 56.1L456.2 60.5M451.8 60.5L456.2 56.1" stroke="#a58cb8" stroke-width="0.88" fill="none"/>
<text transform="translate(472.2 62.3) scale(0.94 1)" font-size="9.8" text-anchor="start" fill="#2a2a2a">Nilotic</text>
<path d="M438.5 68.7H468.8" stroke="#a8e4e8" stroke-width="0.7"/>
<path d="M454 65.95L454 71.45M451.25 68.7L456.75 68.7M452.06 66.76L455.94 70.64M452.06 70.64L455.94 66.76" stroke="#72cfd6" stroke-width="0.55" fill="none"/>
<text transform="translate(472.2 72.7) scale(0.94 1)" font-size="9.8" text-anchor="start" fill="#2a2a2a">Nuba</text>
<path d="M438.5 77.1H468.8" stroke="#f8f040" stroke-width="0.7"/>
<circle cx="454" cy="77.1" r="3.35" fill="#f8f000"/>
<text transform="translate(472.2 81.1) scale(0.94 1)" font-size="9.8" text-anchor="start" fill="#2a2a2a">Zagawa</text>
<path d="M438.5 87H468.8" stroke="#b8b8b8" stroke-width="0.7"/>
<polygon points="450.04,84.36 457.96,84.36 454,91.73" fill="#8c8c8c"/>
<text transform="translate(472.2 91) scale(0.94 1)" font-size="9.8" text-anchor="start" fill="#2a2a2a">Copt</text>
<path d="M438.5 95.1H468.8" stroke="#b4f4b8" stroke-width="0.7"/>
<polygon points="449.38,95.1 456.53,91.8 456.53,98.4" fill="#86f08c"/>
<text transform="translate(472.2 99.1) scale(0.94 1)" font-size="9.8" text-anchor="start" fill="#2a2a2a">Karamoja</text>
<path d="M438.5 105.4H468.8" stroke="#f4b4d8" stroke-width="0.7"/>
<polygon points="454,102.21 454.97,104.51 457.45,104.72 455.57,106.35 456.13,108.78 454,107.49 451.87,108.78 452.43,106.35 450.55,104.72 453.03,104.51" fill="#f08ccc"/>
<text transform="translate(472.2 109.4) scale(0.94 1)" font-size="9.8" text-anchor="start" fill="#2a2a2a">Egyptian</text>
<path d="M438.5 116.3H468.8" stroke="#6a3a40" stroke-width="0.7"/>
<polygon points="454,112.56 455.1,114.39 457.24,114.43 456.2,116.3 457.24,118.17 455.1,118.21 454,120.04 452.9,118.21 450.76,118.17 451.8,116.3 450.76,114.43 452.9,114.39" fill="#6c2731"/>
<text transform="translate(472.2 120.3) scale(0.94 1)" font-size="9.8" text-anchor="start" fill="#2a2a2a">Somali</text>
<path d="M433.4 289.9V286.7M433.4 17.9V21.1M491.22 289.9V286.7M491.22 17.9V21.1M549.03 289.9V286.7M549.03 17.9V21.1M606.85 289.9V286.7M606.85 17.9V21.1M664.67 289.9V286.7M664.67 17.9V21.1M722.48 289.9V286.7M722.48 17.9V21.1M780.3 289.9V286.7M780.3 17.9V21.1M433.4 289.9H436.6M780.3 289.9H777.1M433.4 259.68H436.6M780.3 259.68H777.1M433.4 229.46H436.6M780.3 229.46H777.1M433.4 199.23H436.6M780.3 199.23H777.1M433.4 169.01H436.6M780.3 169.01H777.1M433.4 138.79H436.6M780.3 138.79H777.1M433.4 108.57H436.6M780.3 108.57H777.1M433.4 78.34H436.6M780.3 78.34H777.1M433.4 48.12H436.6M780.3 48.12H777.1M433.4 17.9H436.6M780.3 17.9H777.1" stroke="#4a4a4a" stroke-width="0.8" fill="none"/>
<rect x="433.4" y="17.9" width="346.9" height="272" fill="none" stroke="#4a4a4a" stroke-width="0.9"/>
<text transform="translate(392.0 11.3) scale(0.85 1)" font-size="13.2" fill="#111" stroke="#111" stroke-width="0.3">B</text>
<text x="538.6" y="314.3" font-size="9.4" textLength="124.6" lengthAdjust="spacingAndGlyphs" fill="#2a2a2a">Sample size (in chromosomes)</text>
<text transform="translate(404.6 157.1) rotate(-90)" font-size="9.3" text-anchor="middle" textLength="126.4" lengthAdjust="spacingAndGlyphs" fill="#2a2a2a">Mean number of private alleles</text>
</svg>
</body></html>
